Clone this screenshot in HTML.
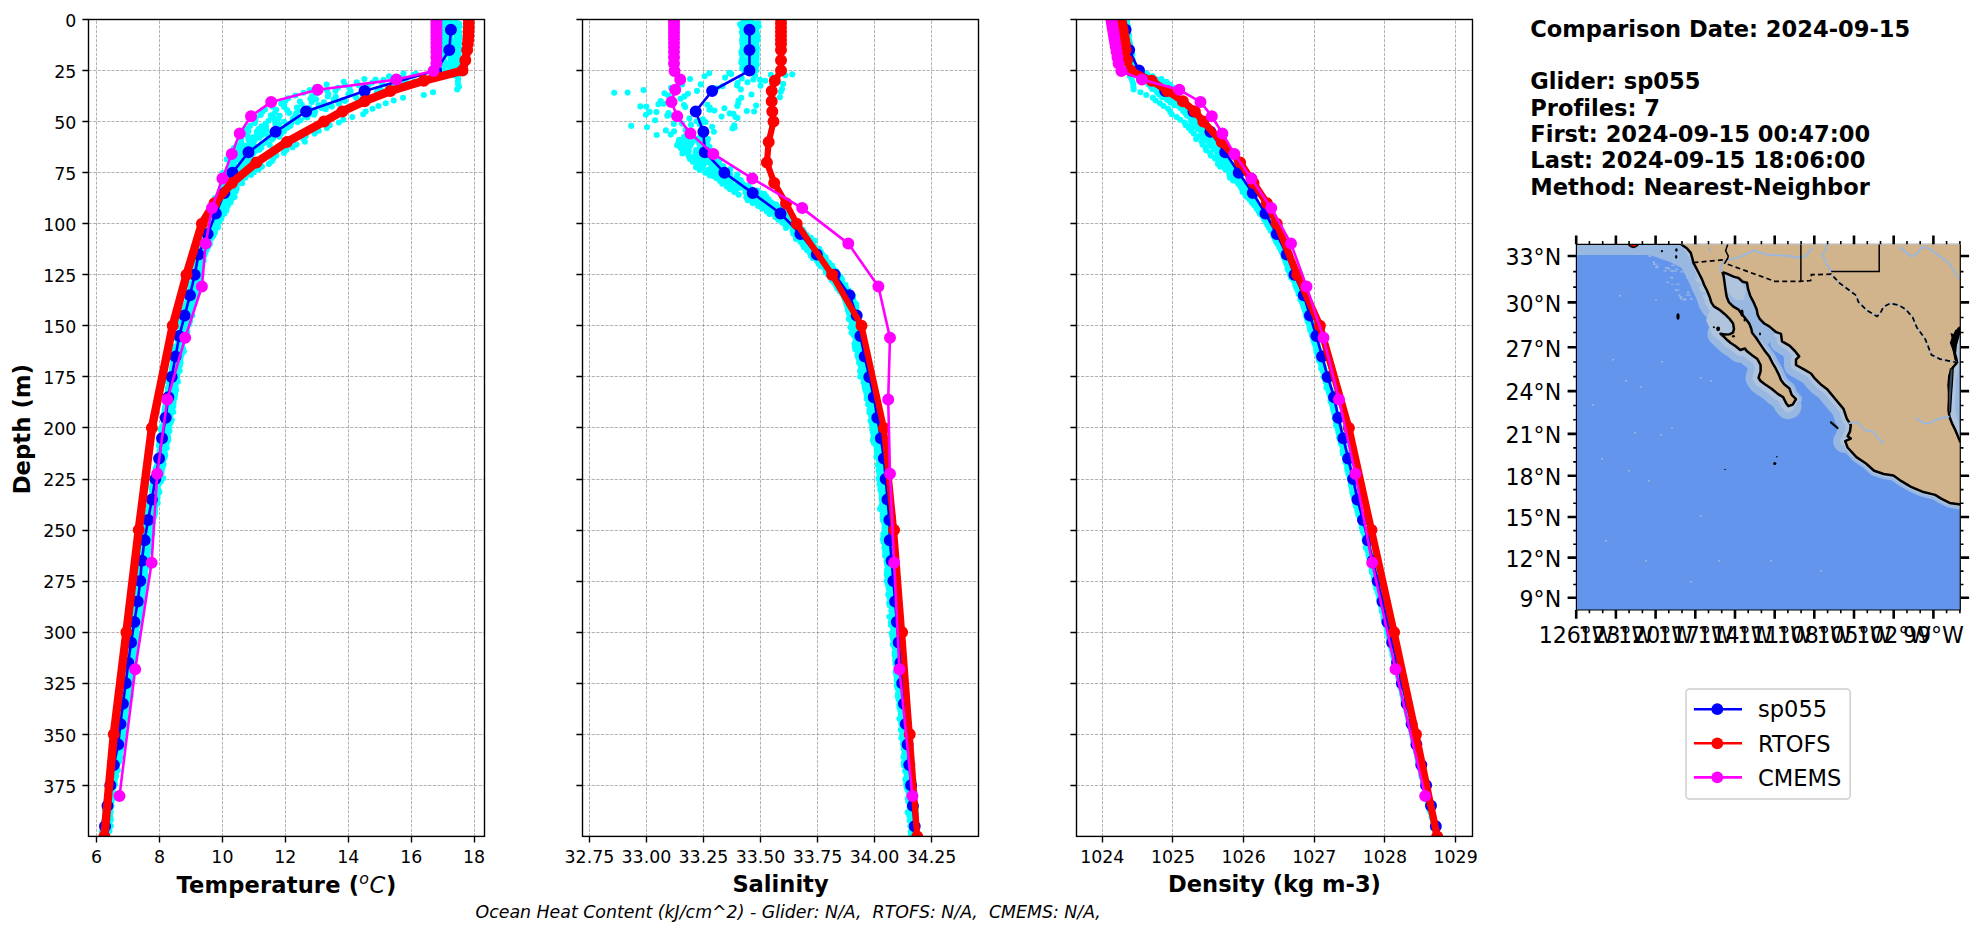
<!DOCTYPE html><html><head><meta charset="utf-8"><title>Glider comparison</title>
<style>html,body{margin:0;padding:0;background:#fff;overflow:hidden}svg{display:block}text{font-family:'DejaVu Sans', 'Liberation Sans', sans-serif;font-variant-ligatures:none}</style></head><body>
<svg width="1978" height="934" viewBox="0 0 1978 934">
<rect width="1978" height="934" fill="#fff"/>
<defs>
<clipPath id="c0"><rect x="88.5" y="19.5" width="396.0" height="816.9"/></clipPath>
<clipPath id="c1"><rect x="582.5" y="19.5" width="396.0" height="816.9"/></clipPath>
<clipPath id="c2"><rect x="1076.5" y="19.5" width="396.0" height="816.9"/></clipPath>
</defs>
<path d="M96.5 836.4V19.5M159.5 836.4V19.5M222.5 836.4V19.5M285.5 836.4V19.5M348.5 836.4V19.5M411.5 836.4V19.5M474.5 836.4V19.5M88.5 19.5H484.5M88.5 70.5H484.5M88.5 121.5H484.5M88.5 172.5H484.5M88.5 223.5H484.5M88.5 274.5H484.5M88.5 325.5H484.5M88.5 376.5H484.5M88.5 427.5H484.5M88.5 479.5H484.5M88.5 530.5H484.5M88.5 581.5H484.5M88.5 632.5H484.5M88.5 683.5H484.5M88.5 734.5H484.5M88.5 785.5H484.5" stroke="#808080" stroke-opacity="0.7" stroke-width="0.87" stroke-dasharray="3.2 1.39" fill="none"/>
<path d="M589.5 836.4V19.5M646.5 836.4V19.5M703.5 836.4V19.5M760.5 836.4V19.5M817.5 836.4V19.5M874.5 836.4V19.5M931.5 836.4V19.5M582.5 19.5H978.5M582.5 70.5H978.5M582.5 121.5H978.5M582.5 172.5H978.5M582.5 223.5H978.5M582.5 274.5H978.5M582.5 325.5H978.5M582.5 376.5H978.5M582.5 427.5H978.5M582.5 479.5H978.5M582.5 530.5H978.5M582.5 581.5H978.5M582.5 632.5H978.5M582.5 683.5H978.5M582.5 734.5H978.5M582.5 785.5H978.5" stroke="#808080" stroke-opacity="0.7" stroke-width="0.87" stroke-dasharray="3.2 1.39" fill="none"/>
<path d="M1102.5 836.4V19.5M1172.5 836.4V19.5M1243.5 836.4V19.5M1314.5 836.4V19.5M1384.5 836.4V19.5M1455.5 836.4V19.5M1076.5 19.5H1472.5M1076.5 70.5H1472.5M1076.5 121.5H1472.5M1076.5 172.5H1472.5M1076.5 223.5H1472.5M1076.5 274.5H1472.5M1076.5 325.5H1472.5M1076.5 376.5H1472.5M1076.5 427.5H1472.5M1076.5 479.5H1472.5M1076.5 530.5H1472.5M1076.5 581.5H1472.5M1076.5 632.5H1472.5M1076.5 683.5H1472.5M1076.5 734.5H1472.5M1076.5 785.5H1472.5" stroke="#808080" stroke-opacity="0.7" stroke-width="0.87" stroke-dasharray="3.2 1.39" fill="none"/>
<g clip-path="url(#c0)">
<path d="M443.6 21.1h0M444.9 23.9h0M444.8 26.6h0M443.1 29.4h0M443.3 32.2h0M443.1 34.9h0M444.2 37.7h0M443.6 40.4h0M444.3 43.2h0M441.9 45.9h0M445.1 48.7h0M443.5 51.5h0M444.3 54.2h0M443.5 57h0M443.3 59.7h0M444.1 62.5h0M444.4 65.2h0M443.4 68h0M443.3 70.8h0M403.5 73.5h0M389 76.3h0M364.4 79h0M343.7 81.8h0M326.6 84.5h0M315.5 87.3h0M309.8 90.1h0M303.6 92.8h0M295.4 95.6h0M288.2 98.3h0M285.3 101.1h0M281.2 103.8h0M272.3 106.6h0M264.9 109.4h0M262.3 112.1h0M260.7 114.9h0M255.9 117.6h0M255.4 120.4h0M254.7 123.1h0M250.1 125.9h0M247.1 128.7h0M248.3 131.4h0M246.9 134.2h0M247.8 136.9h0M241.1 139.7h0M241.2 142.4h0M238.4 145.2h0M233.9 148h0M236 150.7h0M235.2 153.5h0M231.3 156.2h0M235.4 159h0M233.2 161.7h0M231.5 164.5h0M229.7 167.3h0M229.7 170h0M223 172.8h0M227.3 175.5h0M227.1 178.3h0M221.2 181h0M225.7 183.8h0M223.3 186.6h0M224.7 189.3h0M220.8 192.1h0M220.8 194.8h0M220.6 197.6h0M216.7 200.3h0M219.1 203.1h0M216.6 205.9h0M216.1 208.6h0M214.1 211.4h0M214.6 214.1h0M213.2 216.9h0M211.4 219.6h0M211.2 222.4h0M210.7 225.2h0M210.1 227.9h0M205.8 230.7h0M207.1 233.4h0M205.5 236.2h0M203.7 238.9h0M201.6 241.7h0M202.5 244.5h0M198.9 247.2h0M199.4 250h0M198.9 252.7h0M195.2 255.5h0M195.9 258.2h0M194.5 261h0M195.4 263.8h0M196.1 266.5h0M196.1 269.3h0M192 272h0M192.6 274.8h0M193.2 277.5h0M193.4 280.3h0M191.7 283.1h0M189.9 285.8h0M190.3 288.6h0M189.3 291.3h0M188.5 294.1h0M187.3 296.8h0M187.7 299.6h0M186.9 302.4h0M185.8 305.1h0M185 307.9h0M183.2 310.6h0M183.3 313.4h0M184.1 316.1h0M182.1 318.9h0M180.2 321.7h0M182.1 324.4h0M180.6 327.2h0M181.4 329.9h0M178.7 332.7h0M177.5 335.4h0M176 338.2h0M178.2 341h0M178.8 343.7h0M175.1 346.5h0M174.8 349.2h0M175.4 352h0M173.6 354.7h0M173.6 357.5h0M173 360.2h0M173 363h0M173.4 365.8h0M171.9 368.5h0M172.2 371.3h0M170.4 374h0M170.6 376.8h0M167.8 379.5h0M168 382.3h0M169.7 385.1h0M167.9 387.8h0M168.5 390.6h0M168 393.3h0M168.3 396.1h0M167.4 398.8h0M167.3 401.6h0M165.9 404.4h0M165 407.1h0M164.6 409.9h0M164.5 412.6h0M163.6 415.4h0M163.8 418.1h0M163.7 420.9h0M163.5 423.7h0M162.4 426.4h0M160.4 429.2h0M161.7 431.9h0M161.5 434.7h0M161.8 437.4h0M160.9 440.2h0M159.3 443h0M158.9 445.7h0M161.1 448.5h0M159.5 451.2h0M160.2 454h0M160.1 456.7h0M156.9 459.5h0M157.5 462.3h0M157 465h0M156.6 467.8h0M156.1 470.5h0M155.3 473.3h0M154.7 476h0M152.7 478.8h0M153.5 481.6h0M152.4 484.3h0M152.8 487.1h0M151.8 489.8h0M152.3 492.6h0M152.1 495.3h0M151.1 498.1h0M150.6 500.9h0M149.9 503.6h0M148.9 506.4h0M148.7 509.1h0M147.8 511.9h0M148.2 514.6h0M147.3 517.4h0M147.3 520.2h0M145.1 522.9h0M146.7 525.7h0M144.7 528.4h0M144.2 531.2h0M144.3 533.9h0M143.5 536.7h0M143.8 539.5h0M142.6 542.2h0M141.7 545h0M141.6 547.7h0M143.2 550.5h0M141.7 553.2h0M140.1 556h0M140.9 558.8h0M139.1 561.5h0M142 564.3h0M138.7 567h0M140.4 569.8h0M140.2 572.5h0M138.1 575.3h0M139.6 578.1h0M140 580.8h0M139.2 583.6h0M138.6 586.3h0M139 589.1h0M137.9 591.8h0M137.7 594.6h0M136.9 597.4h0M137.3 600.1h0M135.4 602.9h0M136.6 605.6h0M134.9 608.4h0M133.9 611.1h0M134.8 613.9h0M135.6 616.7h0M134.4 619.4h0M132.6 622.2h0M133.3 624.9h0M131.8 627.7h0M131.7 630.4h0M131.5 633.2h0M128.8 636h0M130.7 638.7h0M129.1 641.5h0M129.1 644.2h0M127.9 647h0M127.5 649.7h0M127.7 652.5h0M129 655.3h0M129.4 658h0M127.4 660.8h0M128.1 663.5h0M126.5 666.3h0M124.6 669h0M126.2 671.8h0M126.1 674.6h0M125 677.3h0M125.3 680.1h0M125.3 682.8h0M123.5 685.6h0M122.6 688.3h0M123.4 691.1h0M123 693.9h0M122.5 696.6h0M123.4 699.4h0M123.7 702.1h0M121.3 704.9h0M122 707.6h0M121.9 710.4h0M121.4 713.2h0M121.3 715.9h0M119.7 718.7h0M120.4 721.4h0M121.3 724.2h0M119.8 726.9h0M118.2 729.7h0M119 732.4h0M119.4 735.2h0M118.2 738h0M117 740.7h0M118.7 743.5h0M115.6 746.2h0M116.7 749h0M115.6 751.7h0M113.9 754.5h0M115.6 757.3h0M114.2 760h0M112.1 762.8h0M113.3 765.5h0M111.8 768.3h0M110 771h0M110.6 773.8h0M111.1 776.6h0M111 779.3h0M110.1 782.1h0M109.5 784.8h0M109.5 787.6h0M108.5 790.3h0M109.4 793.1h0M108 795.9h0M107.8 798.6h0M107.7 801.4h0M105.8 804.1h0M105.7 806.9h0M107.5 809.6h0M106 812.4h0M105.1 815.2h0M105.4 817.9h0M104.3 820.7h0M104.6 823.4h0M103.4 826.2h0M104 828.9h0M101.9 831.7h0M104.3 834.5h0M443.1 21.6h0M442.1 24.3h0M443.4 27.1h0M443.3 29.8h0M443.8 32.6h0M442.5 35.3h0M444 38.1h0M447 40.9h0M442.4 43.6h0M443.9 46.4h0M443.3 49.1h0M443.8 51.9h0M441.9 54.6h0M442.5 57.4h0M444 60.2h0M443.6 62.9h0M445.2 65.7h0M442.9 68.4h0M444 71.2h0M416.1 73.9h0M396.9 76.7h0M375.6 79.5h0M356.7 82.2h0M345 85h0M337.9 87.7h0M327 90.5h0M317.2 93.2h0M312.1 96h0M310.4 98.8h0M299.9 101.5h0M284.1 104.3h0M284.1 107h0M276.2 109.8h0M275.1 112.5h0M270.8 115.3h0M273.3 118.1h0M268.5 120.8h0M265.9 123.6h0M261.6 126.3h0M258.4 129.1h0M256.7 131.8h0M256.8 134.6h0M252.8 137.4h0M248.6 140.1h0M250 142.9h0M244.5 145.6h0M241 148.4h0M236.4 151.1h0M234.9 153.9h0M233.3 156.7h0M226.8 159.4h0M234.4 162.2h0M231.9 164.9h0M228.6 167.7h0M230.2 170.4h0M227.5 173.2h0M227 176h0M219.9 178.7h0M224.8 181.5h0M226 184.2h0M227.7 187h0M227.3 189.7h0M225.5 192.5h0M218.4 195.3h0M215.1 198h0M220.7 200.8h0M218.4 203.5h0M218.3 206.3h0M216.4 209h0M215.8 211.8h0M213.2 214.6h0M214.2 217.3h0M212.4 220.1h0M212.3 222.8h0M211.4 225.6h0M209.7 228.3h0M209 231.1h0M207.6 233.9h0M207.1 236.6h0M205.6 239.4h0M203.4 242.1h0M202.1 244.9h0M203.1 247.6h0M200.1 250.4h0M199.9 253.2h0M198.5 255.9h0M197.1 258.7h0M196.4 261.4h0M196.8 264.2h0M196.4 266.9h0M196.2 269.7h0M193.9 272.5h0M194 275.2h0M193.9 278h0M194.8 280.7h0M190.4 283.5h0M192.5 286.2h0M190.9 289h0M191.2 291.8h0M189.7 294.5h0M189.8 297.3h0M190.2 300h0M188.3 302.8h0M187.7 305.5h0M186.9 308.3h0M185.1 311.1h0M185.6 313.8h0M184.2 316.6h0M182.9 319.3h0M182.9 322.1h0M182 324.8h0M182.2 327.6h0M180.7 330.4h0M179.5 333.1h0M180.7 335.9h0M179.7 338.6h0M179.5 341.4h0M178.3 344.1h0M177.2 346.9h0M176.4 349.7h0M176 352.4h0M176.6 355.2h0M175.3 357.9h0M173.3 360.7h0M174.2 363.4h0M172.4 366.2h0M173.3 368.9h0M171.5 371.7h0M171 374.5h0M171.8 377.2h0M171.1 380h0M169.2 382.7h0M171 385.5h0M171.8 388.2h0M167.9 391h0M170.6 393.8h0M167.7 396.5h0M167.5 399.3h0M167.5 402h0M166 404.8h0M168.2 407.5h0M167.1 410.3h0M165.6 413.1h0M165.7 415.8h0M164.1 418.6h0M164.7 421.3h0M165.4 424.1h0M162.4 426.8h0M163.1 429.6h0M163.2 432.4h0M163.5 435.1h0M163.3 437.9h0M161.2 440.6h0M160.5 443.4h0M161.3 446.1h0M160.1 448.9h0M159.8 451.7h0M160.7 454.4h0M160.9 457.2h0M159.1 459.9h0M158.2 462.7h0M158.4 465.4h0M155.6 468.2h0M156.8 471h0M155.3 473.7h0M158.1 476.5h0M156 479.2h0M155 482h0M154.2 484.7h0M151.5 487.5h0M154.1 490.3h0M154.5 493h0M151.8 495.8h0M152.7 498.5h0M152.2 501.3h0M149.6 504h0M151.4 506.8h0M151.3 509.6h0M149.7 512.3h0M148.9 515.1h0M149.2 517.8h0M146.5 520.6h0M147.6 523.3h0M148 526.1h0M145.4 528.9h0M147.1 531.6h0M145.3 534.4h0M143.2 537.1h0M144.6 539.9h0M143.4 542.6h0M144.2 545.4h0M142.4 548.2h0M144.2 550.9h0M142.1 553.7h0M142.7 556.4h0M141.5 559.2h0M141.4 561.9h0M142.6 564.7h0M141.5 567.5h0M140.7 570.2h0M139.7 573h0M141.8 575.7h0M141.1 578.5h0M139.9 581.2h0M140.1 584h0M138.6 586.8h0M138.3 589.5h0M138.1 592.3h0M138.9 595h0M138.5 597.8h0M137.1 600.5h0M138.1 603.3h0M137.7 606.1h0M136.7 608.8h0M137 611.6h0M135.3 614.3h0M135 617.1h0M135.1 619.8h0M134.1 622.6h0M134.5 625.4h0M132.1 628.1h0M134.2 630.9h0M131.7 633.6h0M131.9 636.4h0M130.3 639.1h0M131.8 641.9h0M132 644.7h0M131.4 647.4h0M130.8 650.2h0M128.2 652.9h0M128.5 655.7h0M128.5 658.4h0M127.6 661.2h0M129.2 664h0M128 666.7h0M127.4 669.5h0M127.6 672.2h0M125.9 675h0M125.6 677.7h0M125.3 680.5h0M126.2 683.3h0M125.7 686h0M125.5 688.8h0M125.6 691.5h0M123 694.3h0M123.3 697h0M123.6 699.8h0M121.8 702.6h0M122.2 705.3h0M123.3 708.1h0M123.1 710.8h0M122.7 713.6h0M121.4 716.3h0M120.8 719.1h0M121.7 721.9h0M120 724.6h0M120.4 727.4h0M121 730.1h0M119.1 732.9h0M118.6 735.6h0M118.9 738.4h0M119.1 741.1h0M118.7 743.9h0M117.9 746.7h0M117.7 749.4h0M115 752.2h0M115.2 754.9h0M115.5 757.7h0M113.9 760.4h0M112.9 763.2h0M112.5 766h0M112.3 768.7h0M112.5 771.5h0M111.3 774.2h0M112 777h0M112.9 779.7h0M110.7 782.5h0M111.6 785.3h0M110.2 788h0M108.5 790.8h0M109 793.5h0M107.9 796.3h0M109.2 799h0M107 801.8h0M108.9 804.6h0M107.9 807.3h0M105.1 810.1h0M107.4 812.8h0M107.8 815.6h0M105.2 818.3h0M106.6 821.1h0M103.6 823.9h0M105.2 826.6h0M103 829.4h0M104.7 832.1h0M102.2 834.9h0M447.7 22h0M450.6 24.7h0M452.4 27.5h0M449.7 30.3h0M451 33h0M450.3 35.8h0M449.9 38.5h0M450.8 41.3h0M451.8 44h0M449.1 46.8h0M450.8 49.6h0M450.5 52.3h0M448.9 55.1h0M451.7 57.8h0M452.1 60.6h0M449.3 63.3h0M451.9 66.1h0M450.3 68.9h0M449.8 71.6h0M453.8 74.4h0M395.2 77.1h0M383.5 79.9h0M372.4 82.6h0M359.1 85.4h0M349.5 88.2h0M335.5 90.9h0M328.3 93.7h0M327.8 96.4h0M316.1 99.2h0M311.7 101.9h0M301.8 104.7h0M296.9 107.5h0M287.2 110.2h0M289.2 113h0M279.7 115.7h0M278.5 118.5h0M275.1 121.2h0M275.3 124h0M266 126.8h0M266.2 129.5h0M262.8 132.3h0M262 135h0M259.3 137.8h0M254.5 140.5h0M253.3 143.3h0M248.9 146.1h0M247.9 148.8h0M243.5 151.6h0M240.3 154.3h0M240.2 157.1h0M239.6 159.8h0M242.6 162.6h0M234.6 165.4h0M234.9 168.1h0M236.1 170.9h0M226.6 173.6h0M226.9 176.4h0M227.8 179.1h0M229.8 181.9h0M235 184.7h0M229.1 187.4h0M230 190.2h0M225.6 192.9h0M219.2 195.7h0M218.5 198.4h0M225.3 201.2h0M222 204h0M219.5 206.7h0M220.7 209.5h0M217.1 212.2h0M218.6 215h0M217.8 217.7h0M214.7 220.5h0M213.3 223.3h0M214.1 226h0M211.1 228.8h0M211.9 231.5h0M208.8 234.3h0M209.4 237h0M207.5 239.8h0M205.8 242.6h0M204.1 245.3h0M204 248.1h0M200.7 250.8h0M201 253.6h0M200.2 256.3h0M200.7 259.1h0M198.3 261.9h0M200.6 264.6h0M198.2 267.4h0M196.9 270.1h0M198.7 272.9h0M198.4 275.6h0M196.1 278.4h0M194.7 281.2h0M195 283.9h0M193.6 286.7h0M193.4 289.4h0M194.5 292.2h0M192.7 294.9h0M191.8 297.7h0M191.2 300.5h0M190.1 303.2h0M190.2 306h0M189.6 308.7h0M187.6 311.5h0M187.4 314.2h0M188.8 317h0M186.2 319.8h0M184.9 322.5h0M186.3 325.3h0M183.6 328h0M181.9 330.8h0M182.8 333.5h0M180.6 336.3h0M180.5 339.1h0M180.7 341.8h0M179.8 344.6h0M178.7 347.3h0M178.3 350.1h0M177.8 352.8h0M178.9 355.6h0M176.6 358.4h0M176.3 361.1h0M178.2 363.9h0M175.2 366.6h0M176.7 369.4h0M176 372.1h0M174.1 374.9h0M172.4 377.6h0M173.7 380.4h0M173.4 383.2h0M173.2 385.9h0M171.9 388.7h0M172.5 391.4h0M172.2 394.2h0M169.4 396.9h0M171.4 399.7h0M169.8 402.5h0M168.8 405.2h0M168.7 408h0M170.4 410.7h0M169.2 413.5h0M166.3 416.2h0M167.6 419h0M166.9 421.8h0M166.3 424.5h0M165.5 427.3h0M164.1 430h0M165.7 432.8h0M163.5 435.5h0M163.6 438.3h0M162.9 441.1h0M162.4 443.8h0M163.4 446.6h0M162.7 449.3h0M161.3 452.1h0M160.7 454.8h0M160.7 457.6h0M161.6 460.4h0M160.3 463.1h0M159.9 465.9h0M158.8 468.6h0M158.4 471.4h0M158.3 474.1h0M155.9 476.9h0M158.6 479.7h0M155.9 482.4h0M155.6 485.2h0M156.9 487.9h0M155.4 490.7h0M154.8 493.4h0M153.7 496.2h0M152.3 499h0M153.4 501.7h0M153.9 504.5h0M151.4 507.2h0M153 510h0M150.1 512.7h0M150 515.5h0M150.6 518.3h0M149.7 521h0M149.8 523.8h0M148 526.5h0M147.3 529.3h0M146 532h0M146.2 534.8h0M145.8 537.6h0M145 540.3h0M146.2 543.1h0M144.9 545.8h0M143.3 548.6h0M147.1 551.3h0M143.6 554.1h0M142.8 556.9h0M144.8 559.6h0M144.4 562.4h0M142 565.1h0M141.5 567.9h0M141.7 570.6h0M143.5 573.4h0M141.9 576.2h0M141.3 578.9h0M141.7 581.7h0M142.6 584.4h0M139.8 587.2h0M140.4 589.9h0M139.1 592.7h0M142.1 595.5h0M141.4 598.2h0M140.2 601h0M138.8 603.7h0M139 606.5h0M136 609.2h0M137.7 612h0M135.7 614.8h0M135.3 617.5h0M135.4 620.3h0M135.3 623h0M135.7 625.8h0M135.4 628.5h0M134.5 631.3h0M133 634.1h0M134.1 636.8h0M132.9 639.6h0M133.7 642.3h0M131.3 645.1h0M129.2 647.8h0M130.9 650.6h0M133 653.4h0M131.1 656.1h0M130 658.9h0M130.7 661.6h0M130 664.4h0M129.6 667.1h0M128.3 669.9h0M128.5 672.7h0M128.3 675.4h0M127.1 678.2h0M126.3 680.9h0M127.2 683.7h0M127.6 686.4h0M126.9 689.2h0M126.3 692h0M126 694.7h0M127.5 697.5h0M124.9 700.2h0M125.3 703h0M125.8 705.7h0M123.7 708.5h0M123.5 711.3h0M123.9 714h0M124.2 716.8h0M122.5 719.5h0M122.2 722.3h0M121.6 725h0M120.1 727.8h0M122 730.6h0M120.4 733.3h0M118.7 736.1h0M119.9 738.8h0M118.1 741.6h0M118.5 744.3h0M118.8 747.1h0M117.4 749.8h0M118.6 752.6h0M115.6 755.4h0M116.7 758.1h0M116.4 760.9h0M116.6 763.6h0M115.6 766.4h0M114.4 769.1h0M113.8 771.9h0M113.2 774.7h0M113.9 777.4h0M111.7 780.2h0M112.3 782.9h0M111.3 785.7h0M111.2 788.4h0M110.4 791.2h0M112.2 794h0M109.2 796.7h0M109.7 799.5h0M109.3 802.2h0M109.2 805h0M108.7 807.7h0M108.4 810.5h0M108.5 813.3h0M105.8 816h0M106.9 818.8h0M105.4 821.5h0M106.4 824.3h0M104.8 827h0M104.6 829.8h0M105.1 832.6h0M106.1 835.3h0M450.8 22.4h0M450.5 25.2h0M451.6 27.9h0M449.3 30.7h0M448.3 33.4h0M449.8 36.2h0M450 39h0M451.4 41.7h0M452.3 44.5h0M449 47.2h0M452.6 50h0M451.7 52.7h0M451 55.5h0M450.6 58.3h0M452.5 61h0M450.3 63.8h0M449.8 66.5h0M450.4 69.3h0M447 72h0M413.5 74.8h0M402.1 77.6h0M392.7 80.3h0M382 83.1h0M368 85.8h0M364.3 88.6h0M350.6 91.3h0M348.4 94.1h0M335.8 96.9h0M333.8 99.6h0M323.9 102.4h0M318.5 105.1h0M309.4 107.9h0M298.3 110.6h0M296.1 113.4h0M295.2 116.2h0M292.8 118.9h0M284.2 121.7h0M278.9 124.4h0M278.2 127.2h0M276 129.9h0M271.5 132.7h0M267.9 135.5h0M268.5 138.2h0M265.6 141h0M261.7 143.7h0M254.4 146.5h0M253.4 149.2h0M249.3 152h0M244.4 154.8h0M247.9 157.5h0M244.1 160.3h0M240.9 163h0M243.4 165.8h0M240 168.5h0M238.3 171.3h0M237.7 174.1h0M235.7 176.8h0M230.2 179.6h0M231.4 182.3h0M233.6 185.1h0M228.3 187.8h0M229 190.6h0M228.7 193.4h0M230 196.1h0M228.5 198.9h0M226.4 201.6h0M222.9 204.4h0M222.7 207.1h0M221.1 209.9h0M219.3 212.7h0M219.6 215.4h0M217.6 218.2h0M215.3 220.9h0M216.1 223.7h0M213.5 226.4h0M213.2 229.2h0M210.1 232h0M210.4 234.7h0M208.2 237.5h0M207 240.2h0M204.9 243h0M207.4 245.7h0M204 248.5h0M203.2 251.3h0M202.8 254h0M201 256.8h0M201.1 259.5h0M198.8 262.3h0M199.7 265h0M198.7 267.8h0M199 270.6h0M198.2 273.3h0M196.1 276.1h0M195 278.8h0M195.2 281.6h0M196.2 284.3h0M195.3 287.1h0M194.6 289.9h0M191.7 292.6h0M190.4 295.4h0M191.6 298.1h0M191.2 300.9h0M190.2 303.6h0M190.4 306.4h0M189.1 309.2h0M187.4 311.9h0M187 314.7h0M187.2 317.4h0M186.4 320.2h0M185.6 322.9h0M187.1 325.7h0M183.9 328.5h0M183.6 331.2h0M181.8 334h0M181.7 336.7h0M182 339.5h0M181.6 342.2h0M180.4 345h0M180.4 347.8h0M179.5 350.5h0M177.2 353.3h0M175.4 356h0M180.1 358.8h0M178.2 361.5h0M176.8 364.3h0M174.7 367.1h0M174.7 369.8h0M176.6 372.6h0M172.2 375.3h0M174 378.1h0M174.7 380.8h0M173.5 383.6h0M173.6 386.3h0M172.3 389.1h0M174.2 391.9h0M170.5 394.6h0M169.7 397.4h0M170.9 400.1h0M171.7 402.9h0M169.9 405.6h0M170.6 408.4h0M168.8 411.2h0M167.8 413.9h0M169.9 416.7h0M169.6 419.4h0M169.1 422.2h0M166.7 424.9h0M165.5 427.7h0M165 430.5h0M165.4 433.2h0M165.6 436h0M165.1 438.7h0M162.8 441.5h0M164 444.2h0M163.4 447h0M163.1 449.8h0M162.6 452.5h0M162.1 455.3h0M162.4 458h0M161.5 460.8h0M161.1 463.5h0M159.7 466.3h0M160.2 469.1h0M159.2 471.8h0M156.8 474.6h0M158.7 477.3h0M157.5 480.1h0M158.2 482.8h0M156.7 485.6h0M156.3 488.4h0M156.1 491.1h0M155.4 493.9h0M154.5 496.6h0M152.8 499.4h0M155.7 502.1h0M152 504.9h0M152.6 507.7h0M153 510.4h0M152.3 513.2h0M151.9 515.9h0M151.6 518.7h0M151.6 521.4h0M150.2 524.2h0M152.2 527h0M148 529.7h0M148.7 532.5h0M147.7 535.2h0M147 538h0M147.4 540.7h0M148.1 543.5h0M145.6 546.3h0M145.2 549h0M146.2 551.8h0M145.7 554.5h0M146.6 557.3h0M145.3 560h0M144.3 562.8h0M143.6 565.6h0M143.9 568.3h0M143.3 571.1h0M141.9 573.8h0M143 576.6h0M142.6 579.3h0M142.3 582.1h0M141.8 584.9h0M143.4 587.6h0M142.2 590.4h0M142 593.1h0M140.2 595.9h0M139.5 598.6h0M139.8 601.4h0M139.9 604.2h0M138.8 606.9h0M138.5 609.7h0M139.1 612.4h0M138 615.2h0M136.4 617.9h0M136.4 620.7h0M135.7 623.5h0M136.1 626.2h0M134.4 629h0M134.9 631.7h0M135.3 634.5h0M134.2 637.2h0M132.9 640h0M132.8 642.8h0M133.1 645.5h0M133 648.3h0M133 651h0M131.7 653.8h0M130.2 656.5h0M132.4 659.3h0M130.9 662.1h0M130.7 664.8h0M130.2 667.6h0M128.6 670.3h0M128.9 673.1h0M129.1 675.8h0M129.5 678.6h0M128.3 681.4h0M124.9 684.1h0M127.2 686.9h0M127.4 689.6h0M127.9 692.4h0M127 695.1h0M128.3 697.9h0M126.9 700.7h0M126.4 703.4h0M125.7 706.2h0M123.1 708.9h0M124.9 711.7h0M124.3 714.4h0M122.9 717.2h0M123.6 720h0M123.1 722.7h0M121.9 725.5h0M122 728.2h0M121.5 731h0M121.7 733.7h0M120.8 736.5h0M121.4 739.3h0M118.8 742h0M120 744.8h0M118 747.5h0M118.6 750.3h0M118.9 753h0M117.9 755.8h0M117.1 758.5h0M116.7 761.3h0M117.5 764.1h0M114.5 766.8h0M115.9 769.6h0M113.1 772.3h0M113.7 775.1h0M113.8 777.8h0M112.3 780.6h0M112.9 783.4h0M112.9 786.1h0M110.7 788.9h0M111.4 791.6h0M110.7 794.4h0M108.8 797.1h0M110.1 799.9h0M109.1 802.7h0M110.8 805.4h0M108.3 808.2h0M110.4 810.9h0M108 813.7h0M110 816.4h0M108.3 819.2h0M107.9 822h0M107.9 824.7h0M107.6 827.5h0M107.7 830.2h0M107.7 833h0M105.4 835.7h0M455.3 22.8h0M454 25.6h0M456.2 28.4h0M457.2 31.1h0M456.9 33.9h0M456.6 36.6h0M456.2 39.4h0M455.9 42.1h0M456.2 44.9h0M456.9 47.7h0M454.9 50.4h0M457.2 53.2h0M455.1 55.9h0M456.4 58.7h0M455.9 61.4h0M456.2 64.2h0M455.5 67h0M455.4 69.7h0M456 72.5h0M453.9 75.2h0M421.9 78h0M405.7 80.7h0M396.3 83.5h0M387.8 86.3h0M377.8 89h0M365.8 91.8h0M362.7 94.5h0M355.7 97.3h0M343.1 100h0M338.3 102.8h0M327.2 105.6h0M321.6 108.3h0M314.2 111.1h0M309.7 113.8h0M305.2 116.6h0M298.2 119.3h0M297.6 122.1h0M290.2 124.9h0M287.7 127.6h0M284.2 130.4h0M277.9 133.1h0M272.1 135.9h0M273 138.6h0M265.4 141.4h0M262.4 144.2h0M258.4 146.9h0M259.5 149.7h0M253.7 152.4h0M246.8 155.2h0M251.8 157.9h0M252.9 160.7h0M250.2 163.5h0M242.3 166.2h0M241.6 169h0M240.3 171.7h0M239.6 174.5h0M236.4 177.2h0M232.5 180h0M235.7 182.8h0M234.1 185.5h0M228.3 188.3h0M229.4 191h0M229.7 193.8h0M227.8 196.5h0M227.8 199.3h0M227.2 202.1h0M224.6 204.8h0M222.8 207.6h0M220.5 210.3h0M221.2 213.1h0M220.8 215.8h0M220.3 218.6h0M217.2 221.4h0M216.1 224.1h0M216.4 226.9h0M215.3 229.6h0M213.1 232.4h0M212.3 235.1h0M209.7 237.9h0M209.7 240.7h0M207.1 243.4h0M206.5 246.2h0M205.3 248.9h0M203.8 251.7h0M201 254.4h0M201.7 257.2h0M202.3 260h0M201.4 262.7h0M200.5 265.5h0M200.8 268.2h0M200.5 271h0M200.1 273.7h0M198 276.5h0M198.1 279.3h0M197.1 282h0M196 284.8h0M194.7 287.5h0M195.4 290.3h0M194 293h0M196.2 295.8h0M193.4 298.6h0M192.5 301.3h0M191.6 304.1h0M193 306.8h0M189.6 309.6h0M189.7 312.3h0M188.3 315.1h0M188.2 317.9h0M187.6 320.6h0M187.9 323.4h0M184.8 326.1h0M185.4 328.9h0M186.2 331.6h0M183.5 334.4h0M183.1 337.2h0M181.9 339.9h0M179.8 342.7h0M181.6 345.4h0M182.3 348.2h0M180.3 350.9h0M178.4 353.7h0M179.9 356.5h0M179.2 359.2h0M179.6 362h0M179 364.7h0M177.3 367.5h0M177.4 370.2h0M174.8 373h0M177.1 375.8h0M175.7 378.5h0M176.1 381.3h0M175.6 384h0M173.8 386.8h0M173.5 389.5h0M172.3 392.3h0M170.7 395h0M172.1 397.8h0M172 400.6h0M170.5 403.3h0M171.8 406.1h0M170.9 408.8h0M170.9 411.6h0M169.4 414.3h0M168.1 417.1h0M170 419.9h0M169.3 422.6h0M168.1 425.4h0M167.3 428.1h0M167 430.9h0M166.6 433.6h0M165.7 436.4h0M163.8 439.2h0M166.1 441.9h0M163.5 444.7h0M164.2 447.4h0M163.8 450.2h0M164 452.9h0M161.8 455.7h0M164.1 458.5h0M163.1 461.2h0M162.7 464h0M162.6 466.7h0M160.1 469.5h0M157.4 472.2h0M160.2 475h0M160.6 477.8h0M159.9 480.5h0M157.9 483.3h0M157.8 486h0M157.7 488.8h0M155.2 491.5h0M155.8 494.3h0M155.4 497.1h0M157 499.8h0M154.4 502.6h0M155.9 505.3h0M154 508.1h0M151.8 510.8h0M155 513.6h0M151.5 516.4h0M152.5 519.1h0M153 521.9h0M150.4 524.6h0M149.3 527.4h0M150.9 530.1h0M149.5 532.9h0M147.8 535.7h0M147.5 538.4h0M147.7 541.2h0M148.6 543.9h0M147 546.7h0M147.5 549.4h0M148.1 552.2h0M147.3 555h0M147.1 557.7h0M146.5 560.5h0M143.6 563.2h0M146 566h0M145 568.7h0M144.3 571.5h0M143.2 574.3h0M142.5 577h0M142.7 579.8h0M143.5 582.5h0M142 585.3h0M142 588h0M141.8 590.8h0M142.7 593.6h0M141.4 596.3h0M141.2 599.1h0M142.3 601.8h0M140.2 604.6h0M140.6 607.3h0M138.6 610.1h0M139.4 612.9h0M138.7 615.6h0M138.3 618.4h0M137.2 621.1h0M136.3 623.9h0M136.5 626.6h0M135.9 629.4h0M136.9 632.2h0M136.3 634.9h0M133.9 637.7h0M135.2 640.4h0M133.7 643.2h0M134.2 645.9h0M133 648.7h0M131.6 651.5h0M133.6 654.2h0M132.7 657h0M130.7 659.7h0M129.7 662.5h0M130.6 665.2h0M129.6 668h0M130.1 670.8h0M130.6 673.5h0M131.1 676.3h0M129 679h0M130.3 681.8h0M129.7 684.5h0M127.8 687.3h0M126.3 690.1h0M128.3 692.8h0M127.6 695.6h0M128.9 698.3h0M127.6 701.1h0M126.6 703.8h0M127.1 706.6h0M124.2 709.4h0M125 712.1h0M124.2 714.9h0M125.8 717.6h0M124.3 720.4h0M120.6 723.1h0M124.4 725.9h0M122 728.7h0M123.3 731.4h0M121.8 734.2h0M122.1 736.9h0M122.2 739.7h0M121.5 742.4h0M120 745.2h0M121.6 748h0M120.1 750.7h0M119.1 753.5h0M119.2 756.2h0M117.4 759h0M119.1 761.7h0M116.9 764.5h0M116.5 767.2h0M116 770h0M114.4 772.8h0M113.6 775.5h0M114.5 778.3h0M114.1 781h0M114.6 783.8h0M113.3 786.5h0M111.5 789.3h0M112.6 792.1h0M112.5 794.8h0M112.3 797.6h0M111.2 800.3h0M109.4 803.1h0M111.2 805.8h0M109.1 808.6h0M110 811.4h0M107.6 814.1h0M109.5 816.9h0M107.7 819.6h0M109.1 822.4h0M109.4 825.1h0M108.5 827.9h0M105.9 830.7h0M105.8 833.4h0M105.5 836.2h0M457.8 23.3h0M457.5 26h0M457.3 28.8h0M457.5 31.5h0M457.7 34.3h0M457.8 37.1h0M458.8 39.8h0M457.1 42.6h0M457.4 45.3h0M455.4 48.1h0M455.9 50.8h0M456.5 53.6h0M456 56.4h0M457.4 59.1h0M458.1 61.9h0M456.7 64.6h0M456.7 67.4h0M456.7 70.1h0M457.5 72.9h0M455.9 75.7h0M458.2 78.4h0M457.9 81.2h0M458 83.9h0M459 86.7h0M457.2 89.4h0M433 92.2h0M423.8 95h0M403.1 97.7h0M393.7 100.5h0M385.8 103.2h0M378.5 106h0M372.5 108.7h0M365.7 111.5h0M363.2 114.3h0M352.3 117h0M343.3 119.8h0M338.9 122.5h0M329.8 125.3h0M326.9 128h0M318.8 130.8h0M314.6 133.6h0M305.8 136.3h0M303.3 139.1h0M304.9 141.8h0M296.4 144.6h0M292.5 147.3h0M286.4 150.1h0M283.9 152.9h0M276.3 155.6h0M273.3 158.4h0M272.1 161.1h0M268.9 163.9h0M261.9 166.6h0M258.3 169.4h0M253.8 172.2h0M250.9 174.9h0M245.5 177.7h0M241.8 180.4h0M242.1 183.2h0M236.6 185.9h0M236.7 188.7h0M235.8 191.5h0M233.3 194.2h0M234.6 197h0M231.3 199.7h0M230.5 202.5h0M228.1 205.2h0M226.7 208h0M226.2 210.8h0M224.4 213.5h0M221.9 216.3h0M221.1 219h0M219.3 221.8h0M217.8 224.5h0M218 227.3h0M215 230.1h0M214.7 232.8h0M213.5 235.6h0M211.6 238.3h0M209.5 241.1h0M210 243.8h0M208.3 246.6h0M206.9 249.4h0M205.6 252.1h0M204.5 254.9h0M203.1 257.6h0M203.7 260.4h0M201.2 263.1h0M202.3 265.9h0M200.4 268.7h0M201 271.4h0M201.5 274.2h0M199.9 276.9h0M199.1 279.7h0M199.3 282.4h0M198 285.2h0M197.2 288h0M196.5 290.7h0M197.7 293.5h0M196.2 296.2h0M195.3 299h0M193 301.7h0M193.9 304.5h0M191.4 307.3h0M192.3 310h0M190.1 312.8h0M192.3 315.5h0M188.1 318.3h0M190.1 321h0M189 323.8h0M185.8 326.6h0M186.5 329.3h0M187.4 332.1h0M186.3 334.8h0M183.1 337.6h0M183.6 340.3h0M182.5 343.1h0M182.1 345.9h0M181.9 348.6h0M183.8 351.4h0M181.6 354.1h0M180.8 356.9h0M180.1 359.6h0M180.5 362.4h0M180 365.2h0M178 367.9h0M179.7 370.7h0M176.8 373.4h0M177 376.2h0M177.2 378.9h0M177.9 381.7h0M175.5 384.5h0M175.6 387.2h0M176.1 390h0M175 392.7h0M175 395.5h0M174.5 398.2h0M173.4 401h0M173.4 403.7h0M173.3 406.5h0M172 409.3h0M173.2 412h0M169.5 414.8h0M170.1 417.5h0M171.8 420.3h0M170.4 423h0M168.8 425.8h0M169.3 428.6h0M169.4 431.3h0M167.3 434.1h0M168.1 436.8h0M166.8 439.6h0M166.4 442.3h0M166 445.1h0M166.7 447.9h0M164.2 450.6h0M164.6 453.4h0M165.1 456.1h0M162.9 458.9h0M162.1 461.6h0M163.6 464.4h0M162.5 467.2h0M161.9 469.9h0M161.6 472.7h0M160 475.4h0M163.2 478.2h0M159 480.9h0M159 483.7h0M157.6 486.5h0M158.1 489.2h0M159.4 492h0M157.5 494.7h0M157.6 497.5h0M156.1 500.2h0M157.7 503h0M155.7 505.8h0M153.8 508.5h0M155.2 511.3h0M153.6 514h0M154 516.8h0M153 519.5h0M152.6 522.3h0M152 525.1h0M150.6 527.8h0M149.5 530.6h0M151.4 533.3h0M149.9 536.1h0M149.8 538.8h0M148.6 541.6h0M146.8 544.4h0M147.1 547.1h0M149.2 549.9h0M146.7 552.6h0M146.7 555.4h0M145.3 558.1h0M145.8 560.9h0M145.7 563.7h0M145.6 566.4h0M145.6 569.2h0M144.8 571.9h0M144.6 574.7h0M144.9 577.4h0M145 580.2h0M144.3 583h0M145.7 585.7h0M143.9 588.5h0M143.5 591.2h0M142.4 594h0M143.6 596.7h0M141.3 599.5h0M140.4 602.3h0M140.5 605h0M141.5 607.8h0M139.4 610.5h0M141.2 613.3h0M139.5 616h0M137.6 618.8h0M138.3 621.6h0M139.8 624.3h0M136.8 627.1h0M136 629.8h0M137.2 632.6h0M137.5 635.3h0M136.8 638.1h0M135.1 640.9h0M135.2 643.6h0M134.9 646.4h0M135.3 649.1h0M135.9 651.9h0M133.3 654.6h0M134.3 657.4h0M132.3 660.2h0M132.8 662.9h0M131 665.7h0M130.8 668.4h0M131.6 671.2h0M130 673.9h0M131.3 676.7h0M129.6 679.5h0M129.8 682.2h0M129.3 685h0M128.7 687.7h0M128.7 690.5h0M129.2 693.2h0M130.7 696h0M126.3 698.8h0M127.3 701.5h0M126.5 704.3h0M125.4 707h0M126.2 709.8h0M124.7 712.5h0M125.1 715.3h0M126 718.1h0M122.6 720.8h0M124.4 723.6h0M124.2 726.3h0M122.6 729.1h0M123.7 731.8h0M123.2 734.6h0M122.2 737.4h0M123.4 740.1h0M120.7 742.9h0M122.1 745.6h0M120.7 748.4h0M119.3 751.1h0M119.5 753.9h0M118.8 756.7h0M119.2 759.4h0M116.5 762.2h0M117.1 764.9h0M116.3 767.7h0M117.8 770.4h0M114.8 773.2h0M116.3 775.9h0M113.2 778.7h0M114.7 781.5h0M113.8 784.2h0M113.8 787h0M112.4 789.7h0M110.8 792.5h0M110.8 795.2h0M113.1 798h0M111.7 800.8h0M110.3 803.5h0M111.5 806.3h0M109.6 809h0M109.3 811.8h0M108.5 814.5h0M110.4 817.3h0M110.8 820.1h0M107.6 822.8h0M108.5 825.6h0M108.8 828.3h0M109.5 831.1h0M104.9 833.8h0M459.1 23.7h0M459.6 26.5h0M457.6 29.2h0M459.3 32h0M459.1 34.7h0M459.6 37.5h0M458.4 40.2h0M459.3 43h0M458.4 45.8h0M459.5 48.5h0M459.1 51.3h0M458.6 54h0M457.6 56.8h0M460.5 59.5h0M460 62.3h0M459.8 65.1h0M458.3 67.8h0M458 70.6h0M447.8 73.3h0M436.9 76.1h0M422.9 78.8h0M414.3 81.6h0M403.8 84.4h0M392.7 87.1h0M380.8 89.9h0M376.9 92.6h0M366.9 95.4h0M356.6 98.1h0M344.9 100.9h0M338.9 103.7h0M331.9 106.4h0M325.7 109.2h0M315.1 111.9h0M314.1 114.7h0M307.3 117.4h0M300.6 120.2h0M291.3 123h0M290.5 125.7h0M285.2 128.5h0M283.9 131.2h0M280.8 134h0M279.2 136.7h0M271.9 139.5h0M265.1 142.3h0M269.7 145h0M261.3 147.8h0M256.3 150.5h0M253.2 153.3h0M248.4 156h0M251 158.8h0M248.2 161.6h0M248.9 164.3h0M245.6 167.1h0M242.9 169.8h0M241.6 172.6h0M236.8 175.3h0M235.4 178.1h0M235.2 180.9h0M231.2 183.6h0M232.6 186.4h0M231 189.1h0M232.1 191.9h0M229.3 194.6h0M223.6 197.4h0M226.9 200.2h0M228.9 202.9h0M222.7 205.7h0M222.4 208.4h0M221.9 211.2h0M219.4 213.9h0M218.9 216.7h0M218.3 219.5h0M215.8 222.2h0M216.1 225h0M215.1 227.7h0M212.4 230.5h0M212.5 233.2h0M212.3 236h0M209.9 238.8h0M209.2 241.5h0M208.2 244.3h0M206.1 247h0M206 249.8h0M204.2 252.5h0M202 255.3h0M202.9 258.1h0M202.7 260.8h0M202.1 263.6h0M200.2 266.3h0M200.7 269.1h0M201.1 271.8h0M199.5 274.6h0M199.8 277.4h0M199.2 280.1h0M197.3 282.9h0M197.3 285.6h0M195.8 288.4h0M196.4 291.1h0M194.7 293.9h0M193.6 296.7h0M193.3 299.4h0M192.6 302.2h0M192.3 304.9h0M191.6 307.7h0M189.3 310.4h0M189.1 313.2h0M189.3 316h0M188.7 318.7h0M187.6 321.5h0M189.3 324.2h0M187.1 327h0M185.3 329.7h0M185.3 332.5h0M185.2 335.3h0M183.7 338h0M181.2 340.8h0M182.4 343.5h0M181.8 346.3h0M183.3 349h0M179 351.8h0M181.7 354.6h0M179.6 357.3h0M180.1 360.1h0M178.4 362.8h0M178.3 365.6h0M178.7 368.3h0M177.2 371.1h0M177.6 373.9h0M176 376.6h0M175.2 379.4h0M174.9 382.1h0M174.2 384.9h0M174.1 387.6h0M175 390.4h0M172.1 393.2h0M171.2 395.9h0M172.3 398.7h0M173.6 401.4h0M172.7 404.2h0M172.6 406.9h0M172.2 409.7h0M169.9 412.4h0M170.4 415.2h0M167.4 418h0M168.8 420.7h0M169.5 423.5h0M166.9 426.2h0M165.9 429h0M166.1 431.7h0M167 434.5h0M167.4 437.3h0M168.3 440h0M166.9 442.8h0M163.7 445.5h0M162.5 448.3h0M164.5 451h0M165 453.8h0M162 456.6h0M162.6 459.3h0M162.2 462.1h0M162.1 464.8h0M161.4 467.6h0M161.6 470.3h0M161.6 473.1h0M160.1 475.9h0M160.2 478.6h0M160.9 481.4h0M157.6 484.1h0M157.1 486.9h0M158.1 489.6h0M158.9 492.4h0M156.9 495.2h0M157.3 497.9h0M155.4 500.7h0M156.1 503.4h0M154.1 506.2h0M154.8 508.9h0M154 511.7h0M153.5 514.5h0M153.9 517.2h0M153.1 520h0M151.1 522.7h0M152 525.5h0M149.1 528.2h0M151.2 531h0M152.4 533.8h0M149.8 536.5h0M149.3 539.3h0M148.5 542h0M148.8 544.8h0M147.2 547.5h0M147.9 550.3h0M146.6 553.1h0M146.1 555.8h0M146.2 558.6h0M145.7 561.3h0M143.9 564.1h0M147.3 566.8h0M145.2 569.6h0M143.3 572.4h0M145.7 575.1h0M144.4 577.9h0M144.4 580.6h0M144.5 583.4h0M142.7 586.1h0M140.4 588.9h0M142.7 591.7h0M142.7 594.4h0M143.1 597.2h0M141.1 599.9h0M141.1 602.7h0M141.3 605.4h0M140.1 608.2h0M139.7 611h0M139.7 613.7h0M138.1 616.5h0M140 619.2h0M137.2 622h0M137.7 624.7h0M136.9 627.5h0M136.1 630.3h0M136.9 633h0M136.9 635.8h0M136.9 638.5h0M135.6 641.3h0M134.2 644h0M135.1 646.8h0M132.5 649.6h0M133.5 652.3h0M133.6 655.1h0M133.2 657.8h0M131.2 660.6h0M130.5 663.3h0M133.1 666.1h0M130.7 668.9h0M129.3 671.6h0M129.4 674.4h0M130.2 677.1h0M130.9 679.9h0M129.5 682.6h0M130.2 685.4h0M128.9 688.2h0M128.8 690.9h0M128.9 693.7h0M127.2 696.4h0M127.4 699.2h0M126.4 701.9h0M125.8 704.7h0M126.7 707.5h0M124.9 710.2h0M125.4 713h0M124.2 715.7h0M124.6 718.5h0M123.8 721.2h0M125 724h0M123.7 726.8h0M123.4 729.5h0M124.6 732.3h0M120 735h0M121.4 737.8h0M119.5 740.5h0M121.8 743.3h0M121.7 746.1h0M121.3 748.8h0M120.4 751.6h0M118.7 754.3h0M120.6 757.1h0M118.6 759.8h0M117.4 762.6h0M116 765.4h0M117 768.1h0M115.7 770.9h0M115.3 773.6h0M115.4 776.4h0M114.9 779.1h0M113.5 781.9h0M115 784.6h0M112.4 787.4h0M111.9 790.2h0M112.9 792.9h0M112.3 795.7h0M111.9 798.4h0M111 801.2h0M111.1 803.9h0M110.1 806.7h0M108.7 809.5h0M110.6 812.2h0M108.6 815h0M109 817.7h0M109.6 820.5h0M108.6 823.2h0M110.8 826h0M106.5 828.8h0M106.8 831.5h0M107.3 834.3h0" stroke="#00ffff" stroke-width="6.1" stroke-linecap="round" fill="none"/>
<path d="M450.9 29.7 L449.3 50.1 L436.1 70.6 L364.6 91 L306.1 111.4 L275.6 131.8 L248.5 152.2 L232.5 172.7 L224.3 193.1 L215.8 213.5 L207.6 233.9 L198.5 254.4 L194.7 274.8 L190 295.2 L184.6 315.6 L179.3 336 L175.5 356.5 L171.7 376.9 L168.3 397.3 L165.7 417.7 L162 438.2 L159.1 458.6 L155.3 479 L151.9 499.4 L148.1 519.9 L144.6 540.3 L141.8 560.7 L140.2 581.1 L137.7 601.5 L134.3 622 L131.1 642.4 L128.3 662.8 L125.8 683.2 L122.9 703.7 L120.4 724.1 L118.2 744.5 L113.8 764.9 L110.3 785.3 L107.5 805.8 L105 826.2" stroke="#0000ff" stroke-width="2.6" fill="none" stroke-linejoin="round"/>
<path d="M450.9 29.7h0M449.3 50.1h0M436.1 70.6h0M364.6 91h0M306.1 111.4h0M275.6 131.8h0M248.5 152.2h0M232.5 172.7h0M224.3 193.1h0M215.8 213.5h0M207.6 233.9h0M198.5 254.4h0M194.7 274.8h0M190 295.2h0M184.6 315.6h0M179.3 336h0M175.5 356.5h0M171.7 376.9h0M168.3 397.3h0M165.7 417.7h0M162 438.2h0M159.1 458.6h0M155.3 479h0M151.9 499.4h0M148.1 519.9h0M144.6 540.3h0M141.8 560.7h0M140.2 581.1h0M137.7 601.5h0M134.3 622h0M131.1 642.4h0M128.3 662.8h0M125.8 683.2h0M122.9 703.7h0M120.4 724.1h0M118.2 744.5h0M113.8 764.9h0M110.3 785.3h0M107.5 805.8h0M105 826.2h0" stroke="#0000ff" stroke-width="12" stroke-linecap="round" fill="none"/>
<path d="M468.8 19.5 L468.8 23.6 L468.8 27.7 L468.5 31.8 L468.5 35.8 L468.2 39.9 L467.8 44 L467.2 50.1 L465.3 60.3 L462.5 70.6 L423.8 80.8 L390.4 91 L364.6 101.2 L342.3 111.4 L324 121.6 L286.9 142 L256.4 162.5 L231.8 182.9 L214.5 203.3 L201.9 223.7 L186.5 274.8 L172.7 325.8 L151.9 427.9 L138.7 530.1 L126.4 632.2 L113.8 734.3 L104.4 836.4" stroke="#ff0000" stroke-width="8.4" fill="none" stroke-linejoin="round"/>
<path d="M468.8 19.5h0M468.8 23.6h0M468.8 27.7h0M468.5 31.8h0M468.5 35.8h0M468.2 39.9h0M467.8 44h0M467.2 50.1h0M465.3 60.3h0M462.5 70.6h0M423.8 80.8h0M390.4 91h0M364.6 101.2h0M342.3 111.4h0M324 121.6h0M286.9 142h0M256.4 162.5h0M231.8 182.9h0M214.5 203.3h0M201.9 223.7h0M186.5 274.8h0M172.7 325.8h0M151.9 427.9h0M138.7 530.1h0M126.4 632.2h0M113.8 734.3h0M104.4 836.4h0" stroke="#ff0000" stroke-width="12" stroke-linecap="round" fill="none"/>
<path d="M436.4 20.5 L436.4 22.6 L436.4 24.9 L436.4 27.3 L436.4 29.9 L436.4 32.7 L436.4 35.7 L436.4 39.1 L436.4 42.8 L436.4 47 L436.4 51.8 L436.4 57.3 L436.4 63.6 L433.5 71 L396.4 79.6 L317.7 89.8 L271.2 101.9 L251 116.2 L239.7 133.4 L231.8 153.9 L222.4 178.5 L212 208.1 L205.7 243.6 L201.9 286.4 L185.2 337.8 L167.3 399.6 L157.2 473.8 L151.6 562.8 L135.2 669.2 L119.5 796" stroke="#ff00ff" stroke-width="2.6" fill="none" stroke-linejoin="round"/>
<path d="M436.4 20.5h0M436.4 22.6h0M436.4 24.9h0M436.4 27.3h0M436.4 29.9h0M436.4 32.7h0M436.4 35.7h0M436.4 39.1h0M436.4 42.8h0M436.4 47h0M436.4 51.8h0M436.4 57.3h0M436.4 63.6h0M433.5 71h0M396.4 79.6h0M317.7 89.8h0M271.2 101.9h0M251 116.2h0M239.7 133.4h0M231.8 153.9h0M222.4 178.5h0M212 208.1h0M205.7 243.6h0M201.9 286.4h0M185.2 337.8h0M167.3 399.6h0M157.2 473.8h0M151.6 562.8h0M135.2 669.2h0M119.5 796h0" stroke="#ff00ff" stroke-width="12" stroke-linecap="round" fill="none"/>
</g>
<g clip-path="url(#c1)">
<path d="M743.9 21.1h0M742.5 23.9h0M741.4 26.6h0M743.7 29.4h0M741.9 32.2h0M742.5 34.9h0M743.5 37.7h0M742.1 40.4h0M742.3 43.2h0M743.1 45.9h0M742.5 48.7h0M743 51.5h0M741.8 54.2h0M742.6 57h0M741.7 59.7h0M741.3 62.5h0M744.3 65.2h0M743.1 68h0M744.8 70.8h0M704.6 76.3h0M690.1 79h0M682.2 84.5h0M643.5 90.1h0M614.2 92.8h0M668.2 95.6h0M660.6 101.1h0M646.3 106.6h0M656.4 112.1h0M669.5 114.9h0M701.2 123.1h0M631.2 125.9h0M674.1 131.4h0M684.1 136.9h0M679 139.7h0M678.5 142.4h0M677.1 145.2h0M680.6 148h0M682.7 150.7h0M682.4 153.5h0M688.8 156.2h0M689.9 159h0M692.8 161.7h0M697.4 164.5h0M696 167.3h0M699.6 170h0M705.3 172.8h0M709.7 175.5h0M716.4 178.3h0M720 181h0M722.2 183.8h0M726.8 186.6h0M730.1 189.3h0M734.3 192.1h0M738.6 194.8h0M746.3 197.6h0M747.7 200.3h0M752.6 203.1h0M758.1 205.9h0M762.1 208.6h0M766.9 211.4h0M769.5 214.1h0M775.3 216.9h0M778.2 219.6h0M782.1 222.4h0M785.4 225.2h0M786 227.9h0M792.6 230.7h0M793.2 233.4h0M795.6 236.2h0M796 238.9h0M800.4 241.7h0M802.5 244.5h0M804 247.2h0M806.8 250h0M809.9 252.7h0M810.8 255.5h0M812.7 258.2h0M817.2 261h0M818.6 263.8h0M820.7 266.5h0M825.4 269.3h0M825.8 272h0M828 274.8h0M830.3 277.5h0M831.7 280.3h0M834.2 283.1h0M836.1 285.8h0M837.4 288.6h0M839.7 291.3h0M842.2 294.1h0M843.7 296.8h0M844.8 299.6h0M846 302.4h0M846.5 305.1h0M847.7 307.9h0M847.9 310.6h0M849 313.4h0M851 316.1h0M848.8 318.9h0M851.4 321.7h0M854.5 324.4h0M850.4 327.2h0M853.9 329.9h0M851.5 332.7h0M853.9 335.4h0M855.6 338.2h0M856.1 341h0M854.5 343.7h0M854.8 346.5h0M855.2 349.2h0M857.8 352h0M857.4 354.7h0M858.3 357.5h0M859.2 360.2h0M860 363h0M860.7 365.8h0M861 368.5h0M860 371.3h0M863.4 374h0M860.2 376.8h0M864.5 379.5h0M863.5 382.3h0M864.5 385.1h0M864.8 387.8h0M865.6 390.6h0M866.5 393.3h0M866.9 396.1h0M866.7 398.8h0M869 401.6h0M868.1 404.4h0M870.4 407.1h0M869.5 409.9h0M869.4 412.6h0M871 415.4h0M871.9 418.1h0M870.7 420.9h0M871.8 423.7h0M873.9 426.4h0M872.2 429.2h0M872.8 431.9h0M874.2 434.7h0M873.5 437.4h0M872.8 440.2h0M873.9 443h0M876.2 445.7h0M876.9 448.5h0M877.2 451.2h0M877.5 454h0M876.4 456.7h0M878.5 459.5h0M879.2 462.3h0M877.8 465h0M879.5 467.8h0M878.6 470.5h0M879.4 473.3h0M879.8 476h0M878.4 478.8h0M881.3 481.6h0M879.5 484.3h0M880.4 487.1h0M880.3 489.8h0M881.5 492.6h0M881.7 495.3h0M881.6 498.1h0M883.1 500.9h0M882.3 503.6h0M882 506.4h0M880 509.1h0M882.6 511.9h0M882.9 514.6h0M882.6 517.4h0M882.9 520.2h0M884.3 522.9h0M884.7 525.7h0M885.6 528.4h0M885 531.2h0M883.4 533.9h0M884.3 536.7h0M883 539.5h0M885.1 542.2h0M885 545h0M884.4 547.7h0M885.1 550.5h0M885.2 553.2h0M885.1 556h0M887.2 558.8h0M889.1 561.5h0M887.2 564.3h0M887.7 567h0M887.2 569.8h0M886.9 572.5h0M889.5 575.3h0M887.5 578.1h0M888.4 580.8h0M888.2 583.6h0M889.1 586.3h0M888.8 589.1h0M889.6 591.8h0M888.2 594.6h0M889.5 597.4h0M891.1 600.1h0M889.2 602.9h0M889.8 605.6h0M891.9 608.4h0M891.3 611.1h0M892.1 613.9h0M889.4 616.7h0M891.8 619.4h0M890.8 622.2h0M890.9 624.9h0M892.8 627.7h0M893.8 630.4h0M891.6 633.2h0M892.2 636h0M893 638.7h0M893.7 641.5h0M892.8 644.2h0M896.4 647h0M895.1 649.7h0M894.5 652.5h0M894.6 655.3h0M897.5 658h0M897.6 660.8h0M895.4 663.5h0M896.4 666.3h0M897.5 669h0M895.5 671.8h0M896.4 674.6h0M898.4 677.3h0M896.8 680.1h0M897.3 682.8h0M896.7 685.6h0M897.5 688.3h0M899.1 691.1h0M898 693.9h0M897.8 696.6h0M898.6 699.4h0M901.1 702.1h0M899.9 704.9h0M899.5 707.6h0M900.4 710.4h0M900.9 713.2h0M900.9 715.9h0M899.4 718.7h0M901.6 721.4h0M901.4 724.2h0M902.6 726.9h0M900.8 729.7h0M903.3 732.4h0M902.1 735.2h0M901.3 738h0M904.3 740.7h0M902.9 743.5h0M904 746.2h0M903.7 749h0M905.2 751.7h0M905.4 754.5h0M905.7 757.3h0M905.6 760h0M903.7 762.8h0M903.9 765.5h0M905.9 768.3h0M905.1 771h0M906.7 773.8h0M906.6 776.6h0M905.4 779.3h0M906.1 782.1h0M906.2 784.8h0M906.7 787.6h0M907.6 790.3h0M908.7 793.1h0M909.5 795.9h0M907.7 798.6h0M908.3 801.4h0M910.5 804.1h0M910.2 806.9h0M909.8 809.6h0M907.7 812.4h0M909.2 815.2h0M910.5 817.9h0M910.1 820.7h0M912.7 823.4h0M911.3 826.2h0M911.7 828.9h0M910.7 831.7h0M911 834.5h0M743.7 21.6h0M740.1 24.3h0M743.5 27.1h0M742.6 29.8h0M744.1 32.6h0M743 35.3h0M742.6 38.1h0M742.9 40.9h0M743.7 43.6h0M743 46.4h0M742.8 49.1h0M741.5 51.9h0M743.2 54.6h0M742.8 57.4h0M744.5 60.2h0M742.8 62.9h0M742.7 65.7h0M742.2 68.4h0M744.7 71.2h0M731.1 73.9h0M753.3 79.5h0M747.5 82.2h0M670.9 87.7h0M664.4 93.2h0M680.5 98.8h0M658.4 104.3h0M685.2 107h0M709.4 109.8h0M676 115.3h0M737.5 118.1h0M702 120.8h0M681.9 123.6h0M713.9 131.8h0M670.7 134.6h0M687.9 137.4h0M683.2 140.1h0M688.5 142.9h0M685.9 145.6h0M688.8 148.4h0M688.7 151.1h0M688.2 153.9h0M694.2 156.7h0M697.8 159.4h0M696.1 162.2h0M703.6 164.9h0M713.4 167.7h0M707.8 170.4h0M713.4 173.2h0M713.3 176h0M721.9 178.7h0M723.9 181.5h0M731.5 184.2h0M734 187h0M735.9 189.7h0M745.5 192.5h0M746.9 195.3h0M749.4 198h0M756.3 200.8h0M759.4 203.5h0M765 206.3h0M769 209h0M773.1 211.8h0M778 214.6h0M779.5 217.3h0M784.9 220.1h0M785.4 222.8h0M791.6 225.6h0M792.9 228.3h0M795.1 231.1h0M797.3 233.9h0M800.6 236.6h0M802.1 239.4h0M804.3 242.1h0M807.5 244.9h0M808.3 247.6h0M810.7 250.4h0M813.4 253.2h0M816.3 255.9h0M817.6 258.7h0M820.2 261.4h0M822.5 264.2h0M825.5 266.9h0M828.6 269.7h0M828.7 272.5h0M831.7 275.2h0M833.7 278h0M836.2 280.7h0M839 283.5h0M839.5 286.2h0M841.6 289h0M844.4 291.8h0M844.1 294.5h0M845.7 297.3h0M846.9 300h0M848.2 302.8h0M849.4 305.5h0M849.6 308.3h0M852.6 311.1h0M851.3 313.8h0M852.5 316.6h0M854.1 319.3h0M854.3 322.1h0M854 324.8h0M854.8 327.6h0M855.7 330.4h0M855.4 333.1h0M856.5 335.9h0M855.7 338.6h0M857.2 341.4h0M856.2 344.1h0M857.5 346.9h0M857.8 349.7h0M860.6 352.4h0M859.6 355.2h0M861 357.9h0M860.4 360.7h0M861.7 363.4h0M862.3 366.2h0M862.4 368.9h0M864.6 371.7h0M862.9 374.5h0M865.6 377.2h0M868.1 380h0M865.5 382.7h0M866.9 385.5h0M866.1 388.2h0M868.1 391h0M867.1 393.8h0M869.9 396.5h0M869.4 399.3h0M868.6 402h0M869.6 404.8h0M869.8 407.5h0M871.5 410.3h0M873 413.1h0M872.3 415.8h0M872 418.6h0M872.9 421.3h0M874.2 424.1h0M872.4 426.8h0M875.7 429.6h0M876 432.4h0M873.8 435.1h0M877.7 437.9h0M875.5 440.6h0M877.2 443.4h0M878.9 446.1h0M876.7 448.9h0M876.9 451.7h0M878 454.4h0M878.4 457.2h0M879.6 459.9h0M879.5 462.7h0M879.8 465.4h0M880.1 468.2h0M880.6 471h0M880.2 473.7h0M881.6 476.5h0M881.5 479.2h0M880.8 482h0M883.7 484.7h0M881.1 487.5h0M883.2 490.3h0M882.1 493h0M883.4 495.8h0M883.8 498.5h0M884.4 501.3h0M885.1 504h0M883.3 506.8h0M887 509.6h0M885 512.3h0M884.1 515.1h0M883.8 517.8h0M887.5 520.6h0M886.9 523.3h0M885.4 526.1h0M886.2 528.9h0M886.8 531.6h0M885.8 534.4h0M885.3 537.1h0M885.8 539.9h0M886.8 542.6h0M886.3 545.4h0M885.4 548.2h0M887.5 550.9h0M885.5 553.7h0M886.6 556.4h0M888.7 559.2h0M888.1 561.9h0M888.3 564.7h0M888.5 567.5h0M889.6 570.2h0M888.8 573h0M887.3 575.7h0M889.6 578.5h0M886.8 581.2h0M888 584h0M891.6 586.8h0M891.4 589.5h0M890.2 592.3h0M890.8 595h0M891.3 597.8h0M892.4 600.5h0M891 603.3h0M891.1 606.1h0M891.6 608.8h0M892.6 611.6h0M893 614.3h0M892.6 617.1h0M893.9 619.8h0M892.5 622.6h0M893.7 625.4h0M893.3 628.1h0M893.3 630.9h0M895.6 633.6h0M894.5 636.4h0M894.1 639.1h0M895.3 641.9h0M894.6 644.7h0M896.3 647.4h0M896.8 650.2h0M897.3 652.9h0M895.6 655.7h0M896.7 658.4h0M898.8 661.2h0M897.1 664h0M898.8 666.7h0M899.3 669.5h0M896.8 672.2h0M899.5 675h0M899.3 677.7h0M899.7 680.5h0M900.7 683.3h0M899.8 686h0M899.7 688.8h0M900.5 691.5h0M899.8 694.3h0M900.9 697h0M898.8 699.8h0M902.5 702.6h0M900.7 705.3h0M901.9 708.1h0M902 710.8h0M902 713.6h0M902.3 716.3h0M902.5 719.1h0M901.2 721.9h0M902.4 724.6h0M904.3 727.4h0M902.5 730.1h0M902.7 732.9h0M906 735.6h0M905.4 738.4h0M906 741.1h0M904.7 743.9h0M905.3 746.7h0M906 749.4h0M906 752.2h0M905.7 754.9h0M904.7 757.7h0M905.6 760.4h0M905.1 763.2h0M908.3 766h0M906.7 768.7h0M907.1 771.5h0M907.8 774.2h0M907.8 777h0M908.6 779.7h0M907.7 782.5h0M907.2 785.3h0M910.5 788h0M908.4 790.8h0M908.9 793.5h0M908.9 796.3h0M909.3 799h0M910.1 801.8h0M911.1 804.6h0M909.6 807.3h0M911.1 810.1h0M910.5 812.8h0M912.5 815.6h0M910.5 818.3h0M912 821.1h0M912.8 823.9h0M911.1 826.6h0M912.8 829.4h0M913 832.1h0M912.4 834.9h0M745.8 22h0M747.4 24.7h0M748.9 27.5h0M750.5 30.3h0M747.7 33h0M747.8 35.8h0M748.8 38.5h0M748.6 41.3h0M747.8 44h0M748.2 46.8h0M748 49.6h0M748.9 52.3h0M749.1 55.1h0M750 57.8h0M749.2 60.6h0M749 63.3h0M748.5 66.1h0M749.2 68.9h0M746.1 71.6h0M792.3 74.4h0M760.1 79.9h0M737.1 85.4h0M716.6 88.2h0M697 90.9h0M687.9 93.7h0M684.4 96.4h0M707.3 104.7h0M709.8 107.5h0M668.4 113h0M667.3 115.7h0M689.4 118.5h0M696.7 121.2h0M673.8 124h0M712.1 126.8h0M656.7 135h0M693.9 140.5h0M691.7 143.3h0M690.1 146.1h0M700.1 148.8h0M697.7 151.6h0M697.9 154.3h0M705.5 157.1h0M707.4 159.8h0M709 162.6h0M711.5 165.4h0M715.8 168.1h0M720.4 170.9h0M720.7 173.6h0M724.3 176.4h0M730.4 179.1h0M726.9 181.9h0M737.7 184.7h0M740.8 187.4h0M745.9 190.2h0M749.8 192.9h0M754.9 195.7h0M758.4 198.4h0M762.2 201.2h0M765.9 204h0M770.4 206.7h0M773.5 209.5h0M778.8 212.2h0M779.8 215h0M784.4 217.7h0M787.5 220.5h0M788.8 223.3h0M792.2 226h0M796.4 228.8h0M797.7 231.5h0M799.5 234.3h0M799.7 237h0M804.9 239.8h0M806.8 242.6h0M809.4 245.3h0M812.8 248.1h0M813.1 250.8h0M815.3 253.6h0M816.8 256.3h0M819.8 259.1h0M822.1 261.9h0M825.2 264.6h0M827.3 267.4h0M828.5 270.1h0M831.1 272.9h0M835 275.6h0M834.7 278.4h0M838.1 281.2h0M840.8 283.9h0M841.8 286.7h0M843.3 289.4h0M846.2 292.2h0M847.2 294.9h0M847.8 297.7h0M848.6 300.5h0M850.7 303.2h0M851.2 306h0M852.8 308.7h0M852 311.5h0M852.9 314.2h0M853.5 317h0M854.5 319.8h0M854 322.5h0M855.9 325.3h0M855.8 328h0M855.1 330.8h0M853.8 333.5h0M855.4 336.3h0M859 339.1h0M858.2 341.8h0M859 344.6h0M859 347.3h0M860.4 350.1h0M858.9 352.8h0M859.4 355.6h0M860.3 358.4h0M862.5 361.1h0M863.7 363.9h0M864.1 366.6h0M864.2 369.4h0M863.8 372.1h0M866.3 374.9h0M865.9 377.6h0M866.8 380.4h0M867.4 383.2h0M867.6 385.9h0M868 388.7h0M868.8 391.4h0M868.8 394.2h0M870.8 396.9h0M870.9 399.7h0M872.5 402.5h0M870.4 405.2h0M873.5 408h0M872.9 410.7h0M873.3 413.5h0M873.2 416.2h0M873.6 419h0M873.5 421.8h0M876.2 424.5h0M875.7 427.3h0M877 430h0M877.6 432.8h0M876.9 435.5h0M877.7 438.3h0M878 441.1h0M879.6 443.8h0M879.2 446.6h0M879.7 449.3h0M880.6 452.1h0M880.3 454.8h0M882.6 457.6h0M880.2 460.4h0M882.5 463.1h0M882.9 465.9h0M880.8 468.6h0M882.9 471.4h0M882.6 474.1h0M883.4 476.9h0M881.8 479.7h0M883.3 482.4h0M882.5 485.2h0M883.3 487.9h0M885.2 490.7h0M884 493.4h0M882.3 496.2h0M883.4 499h0M883.9 501.7h0M886.1 504.5h0M884.8 507.2h0M884.2 510h0M886.9 512.7h0M886.4 515.5h0M886.7 518.3h0M885.9 521h0M888 523.8h0M886.6 526.5h0M885 529.3h0M885.9 532h0M886.2 534.8h0M886.9 537.6h0M887.8 540.3h0M886.7 543.1h0M887.1 545.8h0M889.9 548.6h0M888.2 551.3h0M887.9 554.1h0M888.7 556.9h0M887.8 559.6h0M889.6 562.4h0M890.3 565.1h0M889.1 567.9h0M890.8 570.6h0M889.9 573.4h0M890.7 576.2h0M890 578.9h0M890.2 581.7h0M889.8 584.4h0M891.6 587.2h0M891.4 589.9h0M891.7 592.7h0M891.2 595.5h0M891.4 598.2h0M892.1 601h0M893.4 603.7h0M893.5 606.5h0M892.9 609.2h0M894 612h0M895.6 614.8h0M894.3 617.5h0M896.3 620.3h0M895.1 623h0M896.2 625.8h0M894.8 628.5h0M896.6 631.3h0M894.7 634.1h0M896.2 636.8h0M896 639.6h0M894.7 642.3h0M895.5 645.1h0M898.1 647.8h0M897.7 650.6h0M898.7 653.4h0M898 656.1h0M895.4 658.9h0M898.5 661.6h0M898 664.4h0M898.4 667.1h0M898.7 669.9h0M898.6 672.7h0M898.7 675.4h0M901 678.2h0M900.5 680.9h0M899.7 683.7h0M900.2 686.4h0M901.7 689.2h0M901.4 692h0M901.5 694.7h0M900.5 697.5h0M901.5 700.2h0M901.1 703h0M900.6 705.7h0M903.4 708.5h0M902.6 711.3h0M902.8 714h0M902.5 716.8h0M904.3 719.5h0M905.8 722.3h0M904.7 725h0M905.2 727.8h0M903.5 730.6h0M905.1 733.3h0M905.4 736.1h0M906.8 738.8h0M905.7 741.6h0M905.1 744.3h0M906.1 747.1h0M906 749.8h0M908 752.6h0M907.5 755.4h0M907.5 758.1h0M907.6 760.9h0M908.5 763.6h0M907.5 766.4h0M907.4 769.1h0M906.7 771.9h0M909.8 774.7h0M909.4 777.4h0M909.8 780.2h0M909.5 782.9h0M911.2 785.7h0M909.1 788.4h0M911.3 791.2h0M909.7 794h0M910.3 796.7h0M909.9 799.5h0M911.3 802.2h0M911.2 805h0M912.2 807.7h0M911.5 810.5h0M911 813.3h0M913 816h0M914 818.8h0M913.7 821.5h0M913.2 824.3h0M913.9 827h0M912.2 829.8h0M913.7 832.6h0M915.4 835.3h0M747.9 22.4h0M748.6 25.2h0M746.7 27.9h0M747.3 30.7h0M748.1 33.4h0M749.7 36.2h0M749 39h0M749.8 41.7h0M749.6 44.5h0M748 47.2h0M748.3 50h0M747.3 52.7h0M749.5 55.5h0M749 58.3h0M748.9 61h0M749 63.8h0M748.8 66.5h0M748.6 69.3h0M749 72h0M770.8 74.8h0M725.1 77.6h0M737.7 83.1h0M760.5 85.8h0M684 105.1h0M714.4 110.6h0M729.7 113.4h0M699.9 124.4h0M647 127.2h0M685.6 129.9h0M698.4 138.2h0M697.9 141h0M702.8 143.7h0M701.9 146.5h0M700.6 149.2h0M701.5 152h0M705.4 154.8h0M711 157.5h0M715.4 160.3h0M712.3 163h0M721 165.8h0M721.5 168.5h0M725.3 171.3h0M730.3 174.1h0M730.1 176.8h0M738.5 179.6h0M737.8 182.3h0M744 185.1h0M747.3 187.8h0M757.3 190.6h0M761.4 193.4h0M763.1 196.1h0M766.3 198.9h0M767.7 201.6h0M774.3 204.4h0M777.7 207.1h0M781 209.9h0M783.9 212.7h0M786.7 215.4h0M789.6 218.2h0M793.5 220.9h0M794.1 223.7h0M797.6 226.4h0M801.5 229.2h0M803.4 232h0M806.6 234.7h0M807.4 237.5h0M809.5 240.2h0M812.4 243h0M813.8 245.7h0M815.6 248.5h0M816.9 251.3h0M818.1 254h0M823 256.8h0M823.6 259.5h0M825.6 262.3h0M829.3 265h0M830 267.8h0M831.9 270.6h0M834.9 273.3h0M837.4 276.1h0M839.5 278.8h0M841.5 281.6h0M843.8 284.3h0M844.6 287.1h0M846.8 289.9h0M848.2 292.6h0M849.5 295.4h0M851.3 298.1h0M852.1 300.9h0M854.3 303.6h0M854 306.4h0M853.6 309.2h0M855.6 311.9h0M855.7 314.7h0M857.9 317.4h0M855.2 320.2h0M856.5 322.9h0M856.8 325.7h0M858 328.5h0M858.3 331.2h0M857.5 334h0M857.8 336.7h0M860.2 339.5h0M861.9 342.2h0M862.5 345h0M861.4 347.8h0M862.8 350.5h0M862.2 353.3h0M862.3 356h0M865.3 358.8h0M865.4 361.5h0M865.1 364.3h0M865.7 367.1h0M867.5 369.8h0M867.6 372.6h0M867.6 375.3h0M868.8 378.1h0M869.1 380.8h0M869.4 383.6h0M869.7 386.3h0M871.8 389.1h0M871.2 391.9h0M871.2 394.6h0M874.5 397.4h0M874.4 400.1h0M874.2 402.9h0M874.2 405.6h0M874.9 408.4h0M873.9 411.2h0M875.6 413.9h0M876.3 416.7h0M876.4 419.4h0M877.5 422.2h0M876.9 424.9h0M878.2 427.7h0M877.1 430.5h0M879 433.2h0M879 436h0M878.8 438.7h0M880.1 441.5h0M880.8 444.2h0M880.7 447h0M882.5 449.8h0M881.4 452.5h0M883.3 455.3h0M883.5 458h0M882.6 460.8h0M884.7 463.5h0M882.4 466.3h0M884.3 469.1h0M884.2 471.8h0M885 474.6h0M883.2 477.3h0M883.8 480.1h0M884.4 482.8h0M885.4 485.6h0M885.7 488.4h0M885.9 491.1h0M885.9 493.9h0M885.7 496.6h0M885.4 499.4h0M886.5 502.1h0M887.6 504.9h0M888.2 507.7h0M887.1 510.4h0M888.8 513.2h0M886.9 515.9h0M889 518.7h0M887.5 521.4h0M888.8 524.2h0M887.8 527h0M887.8 529.7h0M888.3 532.5h0M890.1 535.2h0M888.3 538h0M889.5 540.7h0M889.4 543.5h0M889.7 546.3h0M890 549h0M890.5 551.8h0M889.1 554.5h0M890.5 557.3h0M891 560h0M890.4 562.8h0M891.5 565.6h0M890.5 568.3h0M892.4 571.1h0M891.3 573.8h0M892 576.6h0M893.2 579.3h0M893.7 582.1h0M892.4 584.9h0M892.6 587.6h0M894.3 590.4h0M891.1 593.1h0M895.1 595.9h0M895.3 598.6h0M893.5 601.4h0M895.7 604.2h0M895.3 606.9h0M895.6 609.7h0M893.4 612.4h0M895.2 615.2h0M895.7 617.9h0M895.8 620.7h0M896.1 623.5h0M896.4 626.2h0M894.4 629h0M897 631.7h0M896.8 634.5h0M897.6 637.2h0M897.5 640h0M898.1 642.8h0M898.7 645.5h0M900.2 648.3h0M898.2 651h0M900.6 653.8h0M899.2 656.5h0M898.8 659.3h0M898.6 662.1h0M900.9 664.8h0M899 667.6h0M901.4 670.3h0M901.2 673.1h0M900.6 675.8h0M900.8 678.6h0M902.1 681.4h0M902 684.1h0M902.8 686.9h0M902.4 689.6h0M902.2 692.4h0M903.3 695.1h0M902 697.9h0M904.1 700.7h0M903.6 703.4h0M902.8 706.2h0M903.2 708.9h0M904.1 711.7h0M903 714.4h0M906.1 717.2h0M906 720h0M904.4 722.7h0M905.5 725.5h0M907.3 728.2h0M906.4 731h0M905.4 733.7h0M904.6 736.5h0M905.4 739.3h0M908.1 742h0M907.6 744.8h0M906.4 747.5h0M908.4 750.3h0M907.7 753h0M907.7 755.8h0M908.1 758.5h0M908.4 761.3h0M910.6 764.1h0M908.5 766.8h0M909.2 769.6h0M911 772.3h0M911.4 775.1h0M909.4 777.8h0M912.4 780.6h0M911.8 783.4h0M909.7 786.1h0M912.9 788.9h0M910.2 791.6h0M912.4 794.4h0M911 797.1h0M910.7 799.9h0M913.3 802.7h0M913.2 805.4h0M912.9 808.2h0M913.4 810.9h0M913.4 813.7h0M913.5 816.4h0M913 819.2h0M914.8 822h0M914.5 824.7h0M914.5 827.5h0M914.5 830.2h0M915 833h0M914.1 835.7h0M752.5 22.8h0M750.9 25.6h0M751 28.4h0M753.6 31.1h0M752.1 33.9h0M754.2 36.6h0M752.3 39.4h0M753.3 42.1h0M751.6 44.9h0M752.4 47.7h0M752.7 50.4h0M753.5 53.2h0M754.5 55.9h0M753.8 58.7h0M751.6 61.4h0M753 64.2h0M752.8 67h0M752.4 69.7h0M754.3 72.5h0M785.3 75.2h0M765.2 80.7h0M772 83.5h0M722.6 86.3h0M782 89h0M780.8 91.8h0M751.5 94.5h0M779.9 97.3h0M756.1 105.6h0M724.4 108.3h0M746.8 111.1h0M733.4 113.8h0M721.6 116.6h0M702.9 119.3h0M705.5 122.1h0M691 124.9h0M734.6 127.6h0M665.9 130.4h0M702.1 138.6h0M707.2 141.4h0M704.3 144.2h0M709.5 146.9h0M706.9 149.7h0M708.8 152.4h0M710.8 155.2h0M715.7 157.9h0M719.4 160.7h0M719.3 163.5h0M723.3 166.2h0M730.4 169h0M728.2 171.7h0M737.4 174.5h0M736.6 177.2h0M740.5 180h0M742.1 182.8h0M748.3 185.5h0M750.5 188.3h0M757.4 191h0M764.3 193.8h0M766.2 196.5h0M768.5 199.3h0M771 202.1h0M776.3 204.8h0M779.2 207.6h0M782.9 210.3h0M789.4 213.1h0M790.5 215.8h0M791.9 218.6h0M795.8 221.4h0M799 224.1h0M799.6 226.9h0M802.6 229.6h0M804.1 232.4h0M806.1 235.1h0M810.9 237.9h0M814.8 240.7h0M813.1 243.4h0M814.3 246.2h0M819.2 248.9h0M820.9 251.7h0M822.4 254.4h0M825.6 257.2h0M826.3 260h0M829.1 262.7h0M831.9 265.5h0M833.1 268.2h0M836.1 271h0M837.7 273.7h0M840.4 276.5h0M841.9 279.3h0M841.8 282h0M845.5 284.8h0M845.9 287.5h0M848.3 290.3h0M849.3 293h0M853.2 295.8h0M853 298.6h0M853.8 301.3h0M856.1 304.1h0M856.4 306.8h0M856.4 309.6h0M855.6 312.3h0M858.9 315.1h0M858.5 317.9h0M858.7 320.6h0M860.1 323.4h0M859.2 326.1h0M860.2 328.9h0M861.5 331.6h0M861.8 334.4h0M861.2 337.2h0M863.7 339.9h0M864 342.7h0M865.3 345.4h0M864.1 348.2h0M864.9 350.9h0M866.3 353.7h0M866.3 356.5h0M866.6 359.2h0M867 362h0M867.5 364.7h0M867.8 367.5h0M868.4 370.2h0M870 373h0M869.9 375.8h0M869.6 378.5h0M871.5 381.3h0M873.6 384h0M873.9 386.8h0M871.5 389.5h0M873.2 392.3h0M875.3 395h0M875.2 397.8h0M875.7 400.6h0M876 403.3h0M876.6 406.1h0M876.1 408.8h0M878.5 411.6h0M877 414.3h0M878.3 417.1h0M880.3 419.9h0M880.4 422.6h0M879.9 425.4h0M880.4 428.1h0M880.3 430.9h0M880.9 433.6h0M881.7 436.4h0M883.5 439.2h0M882.3 441.9h0M883.7 444.7h0M883.9 447.4h0M884.3 450.2h0M884.1 452.9h0M885.4 455.7h0M885.3 458.5h0M885.5 461.2h0M885.2 464h0M884 466.7h0M886.8 469.5h0M887.1 472.2h0M886.2 475h0M886.8 477.8h0M887.4 480.5h0M886.5 483.3h0M888.3 486h0M888.6 488.8h0M888.9 491.5h0M889.3 494.3h0M886.9 497.1h0M889.4 499.8h0M888.8 502.6h0M890.4 505.3h0M890.6 508.1h0M890.7 510.8h0M890.1 513.6h0M893 516.4h0M890.6 519.1h0M889.8 521.9h0M891.7 524.6h0M889.6 527.4h0M892.7 530.1h0M892 532.9h0M892.3 535.7h0M892.1 538.4h0M891.7 541.2h0M890.4 543.9h0M891.3 546.7h0M892.6 549.4h0M892.1 552.2h0M892.9 555h0M892.2 557.7h0M892.3 560.5h0M893.5 563.2h0M894.2 566h0M893.8 568.7h0M893.1 571.5h0M892.7 574.3h0M896.3 577h0M893.7 579.8h0M894.2 582.5h0M894.5 585.3h0M896.3 588h0M895 590.8h0M896.4 593.6h0M896.4 596.3h0M895.4 599.1h0M896.8 601.8h0M895.8 604.6h0M897 607.3h0M898.1 610.1h0M897.4 612.9h0M897.1 615.6h0M897.7 618.4h0M898.2 621.1h0M898.9 623.9h0M896.8 626.6h0M897.4 629.4h0M899.8 632.2h0M899.5 634.9h0M899.8 637.7h0M900.2 640.4h0M900.2 643.2h0M900.1 645.9h0M900.9 648.7h0M901.6 651.5h0M901.6 654.2h0M901.5 657h0M900.8 659.7h0M902.2 662.5h0M901.2 665.2h0M901.9 668h0M902.9 670.8h0M903.1 673.5h0M904.2 676.3h0M904.3 679h0M904.1 681.8h0M903.7 684.5h0M904.2 687.3h0M904.2 690.1h0M906.2 692.8h0M905.3 695.6h0M904.6 698.3h0M904.6 701.1h0M906.8 703.8h0M905.1 706.6h0M906.5 709.4h0M906.5 712.1h0M907.6 714.9h0M906.1 717.6h0M907.5 720.4h0M907.5 723.1h0M908.3 725.9h0M909.1 728.7h0M908.2 731.4h0M908.1 734.2h0M909.4 736.9h0M907.6 739.7h0M909.2 742.4h0M908.4 745.2h0M908.5 748h0M908.4 750.7h0M908.6 753.5h0M911 756.2h0M911.3 759h0M910.9 761.7h0M912 764.5h0M911.3 767.2h0M911.1 770h0M910.8 772.8h0M912.7 775.5h0M913 778.3h0M913.6 781h0M912 783.8h0M912.7 786.5h0M912 789.3h0M914.5 792.1h0M914.4 794.8h0M914.4 797.6h0M914.2 800.3h0M914.3 803.1h0M914.4 805.8h0M915.9 808.6h0M914.6 811.4h0M916.2 814.1h0M915.9 816.9h0M915 819.6h0M914.9 822.4h0M915.7 825.1h0M916.6 827.9h0M915.7 830.7h0M917.7 833.4h0M918.4 836.2h0M758.1 23.3h0M755.3 26h0M756.3 28.8h0M755.4 31.5h0M757.2 34.3h0M757.4 37.1h0M757.6 39.8h0M756.1 42.6h0M756.4 45.3h0M757.1 48.1h0M756.6 50.8h0M756.7 53.6h0M756.6 56.4h0M756.6 59.1h0M756.3 61.9h0M756.8 64.6h0M755 67.4h0M756 70.1h0M729.3 72.9h0M755.1 75.7h0M741.7 78.4h0M783.1 83.9h0M740.8 89.4h0M741.3 97.7h0M738.5 100.5h0M738.2 103.2h0M737.3 106h0M754.1 111.5h0M735.3 117h0M734.1 125.3h0M708.2 139.1h0M702 141.8h0M699.5 144.6h0M701 147.3h0M696.1 150.1h0M695.5 152.9h0M701.5 155.6h0M698.7 158.4h0M702.1 161.1h0M701.2 163.9h0M711.4 166.6h0M714.2 169.4h0M714.5 172.2h0M716.8 174.9h0M726.3 177.7h0M731.2 180.4h0M738.1 183.2h0M744.5 185.9h0M745.6 188.7h0M749.4 191.5h0M753.8 194.2h0M757.7 197h0M759.2 199.7h0M764.2 202.5h0M770.1 205.2h0M772.7 208h0M776.9 210.8h0M783.2 213.5h0M784.4 216.3h0M788.6 219h0M791.8 221.8h0M793.5 224.5h0M796.8 227.3h0M798.5 230.1h0M800.4 232.8h0M803.4 235.6h0M805.6 238.3h0M807.8 241.1h0M809.8 243.8h0M811.5 246.6h0M814.9 249.4h0M815.9 252.1h0M817.8 254.9h0M821.3 257.6h0M821.9 260.4h0M825.1 263.1h0M828.8 265.9h0M829.8 268.7h0M833.3 271.4h0M834.1 274.2h0M835.8 276.9h0M838 279.7h0M839.5 282.4h0M841.5 285.2h0M843.3 288h0M846.3 290.7h0M847.8 293.5h0M848.7 296.2h0M849.1 299h0M853.5 301.7h0M851.3 304.5h0M853.6 307.3h0M852.1 310h0M853.4 312.8h0M856 315.5h0M854.3 318.3h0M854.7 321h0M856 323.8h0M855.8 326.6h0M856.7 329.3h0M857.6 332.1h0M858.7 334.8h0M858.7 337.6h0M859.4 340.3h0M860.9 343.1h0M861.6 345.9h0M860.5 348.6h0M859.7 351.4h0M861.1 354.1h0M863.6 356.9h0M862.8 359.6h0M863.2 362.4h0M864.1 365.2h0M866.6 367.9h0M865.8 370.7h0M866 373.4h0M866.3 376.2h0M866.6 378.9h0M870.8 381.7h0M868.8 384.5h0M869.6 387.2h0M869.8 390h0M871.7 392.7h0M870.4 395.5h0M870.2 398.2h0M871.9 401h0M873.2 403.7h0M875.4 406.5h0M873.7 409.3h0M873.5 412h0M874.5 414.8h0M874.5 417.5h0M875 420.3h0M876.3 423h0M877 425.8h0M876.6 428.6h0M878.7 431.3h0M878.1 434.1h0M878.8 436.8h0M878.7 439.6h0M879.9 442.3h0M880.3 445.1h0M881 447.9h0M880 450.6h0M881.7 453.4h0M881.1 456.1h0M882.1 458.9h0M882.9 461.6h0M883.9 464.4h0M882.3 467.2h0M882 469.9h0M883.4 472.7h0M884.6 475.4h0M883.4 478.2h0M886.2 480.9h0M882.5 483.7h0M885.9 486.5h0M885.8 489.2h0M886 492h0M884.5 494.7h0M886.8 497.5h0M886.8 500.2h0M887.2 503h0M886.1 505.8h0M886.3 508.5h0M888 511.3h0M887.3 514h0M886.9 516.8h0M886.8 519.5h0M887.9 522.3h0M886.4 525.1h0M888.3 527.8h0M888 530.6h0M886.5 533.3h0M888.4 536.1h0M889.1 538.8h0M888.4 541.6h0M887.2 544.4h0M888.1 547.1h0M889.7 549.9h0M888 552.6h0M889.1 555.4h0M890.7 558.1h0M889.7 560.9h0M889.7 563.7h0M891.2 566.4h0M892.2 569.2h0M891.3 571.9h0M890 574.7h0M890 577.4h0M891.5 580.2h0M890.3 583h0M892.1 585.7h0M893.3 588.5h0M890.2 591.2h0M892.8 594h0M893.5 596.7h0M892.9 599.5h0M894 602.3h0M894.4 605h0M895.2 607.8h0M896.9 610.5h0M895 613.3h0M894.1 616h0M894.2 618.8h0M894.3 621.6h0M896.3 624.3h0M896.3 627.1h0M896.6 629.8h0M896.6 632.6h0M898.2 635.3h0M897.9 638.1h0M898.1 640.9h0M896.8 643.6h0M897.4 646.4h0M896.7 649.1h0M897.6 651.9h0M898.5 654.6h0M897.6 657.4h0M898.3 660.2h0M901 662.9h0M899.3 665.7h0M898.3 668.4h0M898.8 671.2h0M900.1 673.9h0M901.2 676.7h0M900.6 679.5h0M901.7 682.2h0M901.5 685h0M900.4 687.7h0M902.6 690.5h0M901.5 693.2h0M903.9 696h0M901.9 698.8h0M902.6 701.5h0M902.4 704.3h0M902.9 707h0M903.9 709.8h0M903.5 712.5h0M905 715.3h0M904.6 718.1h0M905.9 720.8h0M904.8 723.6h0M906.1 726.3h0M906.3 729.1h0M905.3 731.8h0M908 734.6h0M907.3 737.4h0M906.7 740.1h0M906.3 742.9h0M906.6 745.6h0M906.8 748.4h0M907.5 751.1h0M906.4 753.9h0M907.8 756.7h0M907.4 759.4h0M909.7 762.2h0M909.2 764.9h0M910.2 767.7h0M911.1 770.4h0M909.6 773.2h0M911.3 775.9h0M910.1 778.7h0M910.5 781.5h0M909.3 784.2h0M910.5 787h0M912 789.7h0M911.4 792.5h0M910.9 795.2h0M911.5 798h0M911 800.8h0M911.3 803.5h0M910.9 806.3h0M913.5 809h0M913.7 811.8h0M912.9 814.5h0M912 817.3h0M913.2 820.1h0M915.6 822.8h0M912.7 825.6h0M913.8 828.3h0M914 831.1h0M915.4 833.8h0M755.6 23.7h0M758.7 26.5h0M754.9 29.2h0M756.6 32h0M756.3 34.7h0M757.6 37.5h0M756.3 40.2h0M754.8 43h0M755.3 45.8h0M756.5 48.5h0M756.4 51.3h0M755.8 54h0M755.9 56.8h0M754.9 59.5h0M755 62.3h0M755.8 65.1h0M755.7 67.8h0M756.1 70.6h0M709.3 73.3h0M679.5 78.8h0M700.7 84.4h0M627.6 92.6h0M670.4 98.1h0M673.6 100.9h0M663.9 103.7h0M640.3 106.4h0M649.5 111.9h0M645.9 114.7h0M655.1 120.2h0M732.5 128.5h0M683.3 139.5h0M680.3 142.3h0M684.8 145h0M684.9 147.8h0M685 150.5h0M687.5 153.3h0M689 156h0M694 158.8h0M696.8 161.6h0M700.3 164.3h0M702.7 167.1h0M708.4 169.8h0M709.6 172.6h0M717.9 175.3h0M719.4 178.1h0M727.5 180.9h0M730 183.6h0M734.2 186.4h0M736.7 189.1h0M745.4 191.9h0M749.2 194.6h0M752.7 197.4h0M757.7 200.2h0M761.2 202.9h0M764.1 205.7h0M768 208.4h0M773.9 211.2h0M777.5 213.9h0M781.8 216.7h0M785.4 219.5h0M787.3 222.2h0M790 225h0M792.5 227.7h0M794.7 230.5h0M796.6 233.2h0M797 236h0M802.3 238.8h0M804.2 241.5h0M805.8 244.3h0M808.1 247h0M811 249.8h0M813 252.5h0M814.6 255.3h0M816.5 258.1h0M819.6 260.8h0M822.1 263.6h0M825.8 266.3h0M825.2 269.1h0M828.9 271.8h0M829.9 274.6h0M832.2 277.4h0M836.7 280.1h0M836 282.9h0M838.2 285.6h0M839.6 288.4h0M842.9 291.1h0M843.5 293.9h0M843.7 296.7h0M846.3 299.4h0M847.9 302.2h0M848 304.9h0M849 307.7h0M849.1 310.4h0M849.8 313.2h0M851.5 316h0M850.8 318.7h0M851.9 321.5h0M851.8 324.2h0M852.9 327h0M854.4 329.7h0M854.1 332.5h0M855.7 335.3h0M855.6 338h0M855.7 340.8h0M855.6 343.5h0M857.1 346.3h0M856.5 349h0M858.9 351.8h0M857.6 354.6h0M858.1 357.3h0M859.3 360.1h0M859.1 362.8h0M861.4 365.6h0M861.2 368.3h0M862.1 371.1h0M863.8 373.9h0M861.8 376.6h0M864.2 379.4h0M865.4 382.1h0M866.7 384.9h0M866.5 387.6h0M866.4 390.4h0M868.5 393.2h0M869.1 395.9h0M870.9 398.7h0M871.3 401.4h0M869.6 404.2h0M871.5 406.9h0M870.9 409.7h0M870.2 412.4h0M872.3 415.2h0M873.4 418h0M870.5 420.7h0M874.4 423.5h0M872.9 426.2h0M875.7 429h0M874.9 431.7h0M875.3 434.5h0M877 437.3h0M875.8 440h0M878.5 442.8h0M876.1 445.5h0M876.8 448.3h0M876.8 451h0M878.7 453.8h0M878.6 456.6h0M879.8 459.3h0M880.3 462.1h0M880.3 464.8h0M880.8 467.6h0M881.1 470.3h0M880.2 473.1h0M879.9 475.9h0M879.9 478.6h0M881.8 481.4h0M880.9 484.1h0M880.7 486.9h0M881.1 489.6h0M881.9 492.4h0M882.6 495.2h0M882.4 497.9h0M882 500.7h0M883.7 503.4h0M881.4 506.2h0M883.4 508.9h0M884.9 511.7h0M884.5 514.5h0M885.6 517.2h0M884.8 520h0M885.3 522.7h0M884.9 525.5h0M884.5 528.2h0M885.4 531h0M886 533.8h0M883.3 536.5h0M884.5 539.3h0M883.5 542h0M884.8 544.8h0M884.7 547.5h0M885.7 550.3h0M886.2 553.1h0M887.6 555.8h0M888.1 558.6h0M886.5 561.3h0M887 564.1h0M888.3 566.8h0M887.4 569.6h0M887.8 572.4h0M886.8 575.1h0M889.4 577.9h0M889.2 580.6h0M888.4 583.4h0M888.3 586.1h0M888.8 588.9h0M890.4 591.7h0M889.8 594.4h0M889.4 597.2h0M890.5 599.9h0M891.8 602.7h0M892.5 605.4h0M892.8 608.2h0M891.9 611h0M892.3 613.7h0M892.6 616.5h0M893.2 619.2h0M893.4 622h0M892.2 624.7h0M892.7 627.5h0M893.3 630.3h0M894.5 633h0M893.7 635.8h0M893.7 638.5h0M895.6 641.3h0M896.3 644h0M894.3 646.8h0M895.3 649.6h0M896.8 652.3h0M895.6 655.1h0M897.1 657.8h0M895.1 660.6h0M896.5 663.3h0M897.6 666.1h0M898.7 668.9h0M898.4 671.6h0M896.2 674.4h0M896.6 677.1h0M897.4 679.9h0M899.3 682.6h0M899.4 685.4h0M900 688.2h0M899.9 690.9h0M899 693.7h0M899.4 696.4h0M899.2 699.2h0M901.1 701.9h0M899.4 704.7h0M900.9 707.5h0M901.3 710.2h0M902.5 713h0M900.9 715.7h0M902.2 718.5h0M901.2 721.2h0M903.3 724h0M902.3 726.8h0M902.6 729.5h0M902.2 732.3h0M902.8 735h0M903 737.8h0M903.3 740.5h0M905.2 743.3h0M903.5 746.1h0M904.9 748.8h0M905.7 751.6h0M904.1 754.3h0M903.4 757.1h0M906.1 759.8h0M904.4 762.6h0M905.5 765.4h0M906.4 768.1h0M907 770.9h0M906.7 773.6h0M906.6 776.4h0M908.4 779.1h0M907.9 781.9h0M909.8 784.6h0M907.4 787.4h0M908.4 790.2h0M908.7 792.9h0M909.5 795.7h0M909.5 798.4h0M909.5 801.2h0M911.6 803.9h0M909.9 806.7h0M910.7 809.5h0M910.7 812.2h0M910.2 815h0M911.7 817.7h0M909.6 820.5h0M912.6 823.2h0M910.4 826h0M911.8 828.8h0M912.4 831.5h0M912.1 834.3h0" stroke="#00ffff" stroke-width="6.1" stroke-linecap="round" fill="none"/>
<path d="M749.5 29.7 L749.5 50.1 L749.5 70.6 L712.1 91 L695.7 111.4 L703.4 131.8 L704.8 152.2 L724.4 172.7 L752.7 193.1 L780.5 213.5 L800.4 233.9 L816.8 254.4 L834.8 274.8 L849.4 295.2 L856.7 315.6 L860.4 336 L864.7 356.5 L869.3 376.9 L873.8 397.3 L877.3 417.7 L880.9 438.2 L883.9 458.6 L885.7 479 L887.5 499.4 L889.4 519.9 L889.8 540.3 L891.6 560.7 L893.4 581.1 L895.1 601.5 L896.9 622 L898.7 642.4 L900.5 662.8 L902.2 683.2 L904 703.7 L905.8 724.1 L907.6 744.5 L909.3 764.9 L911.1 785.3 L912.9 805.8 L914.7 826.2" stroke="#0000ff" stroke-width="2.6" fill="none" stroke-linejoin="round"/>
<path d="M749.5 29.7h0M749.5 50.1h0M749.5 70.6h0M712.1 91h0M695.7 111.4h0M703.4 131.8h0M704.8 152.2h0M724.4 172.7h0M752.7 193.1h0M780.5 213.5h0M800.4 233.9h0M816.8 254.4h0M834.8 274.8h0M849.4 295.2h0M856.7 315.6h0M860.4 336h0M864.7 356.5h0M869.3 376.9h0M873.8 397.3h0M877.3 417.7h0M880.9 438.2h0M883.9 458.6h0M885.7 479h0M887.5 499.4h0M889.4 519.9h0M889.8 540.3h0M891.6 560.7h0M893.4 581.1h0M895.1 601.5h0M896.9 622h0M898.7 642.4h0M900.5 662.8h0M902.2 683.2h0M904 703.7h0M905.8 724.1h0M907.6 744.5h0M909.3 764.9h0M911.1 785.3h0M912.9 805.8h0M914.7 826.2h0" stroke="#0000ff" stroke-width="12" stroke-linecap="round" fill="none"/>
<path d="M781 19.5 L781 23.6 L781 27.7 L781 31.8 L781 35.8 L781 39.9 L781 44 L781 50.1 L781 60.3 L781 70.6 L774.8 80.8 L771.7 91 L771.7 101.2 L772.3 111.4 L773.5 121.6 L768.7 142 L766.9 162.5 L774.2 182.9 L786 203.3 L796.7 223.7 L832.1 274.8 L861.5 325.8 L883.9 427.9 L894.1 530.1 L902.1 632.2 L909.7 734.3 L917.2 836.4" stroke="#ff0000" stroke-width="6.2" fill="none" stroke-linejoin="round"/>
<path d="M781 19.5h0M781 23.6h0M781 27.7h0M781 31.8h0M781 35.8h0M781 39.9h0M781 44h0M781 50.1h0M781 60.3h0M781 70.6h0M774.8 80.8h0M771.7 91h0M771.7 101.2h0M772.3 111.4h0M773.5 121.6h0M768.7 142h0M766.9 162.5h0M774.2 182.9h0M786 203.3h0M796.7 223.7h0M832.1 274.8h0M861.5 325.8h0M883.9 427.9h0M894.1 530.1h0M902.1 632.2h0M909.7 734.3h0M917.2 836.4h0" stroke="#ff0000" stroke-width="12" stroke-linecap="round" fill="none"/>
<path d="M674 20.5 L674 22.6 L674 24.9 L674 27.3 L674 29.9 L674 32.7 L674 35.7 L674 39.1 L674 42.8 L674 47 L674 51.8 L674 57.3 L674 63.6 L674.5 71 L680.2 79.6 L675.2 89.8 L671.5 101.9 L677.2 116.2 L690.4 133.4 L713.3 153.9 L752.3 178.5 L802.2 208.1 L848.3 243.6 L878.4 286.4 L890 337.8 L888.2 399.6 L890 473.8 L894.1 562.8 L899.4 669.2 L912.4 796" stroke="#ff00ff" stroke-width="2.6" fill="none" stroke-linejoin="round"/>
<path d="M674 20.5h0M674 22.6h0M674 24.9h0M674 27.3h0M674 29.9h0M674 32.7h0M674 35.7h0M674 39.1h0M674 42.8h0M674 47h0M674 51.8h0M674 57.3h0M674 63.6h0M674.5 71h0M680.2 79.6h0M675.2 89.8h0M671.5 101.9h0M677.2 116.2h0M690.4 133.4h0M713.3 153.9h0M752.3 178.5h0M802.2 208.1h0M848.3 243.6h0M878.4 286.4h0M890 337.8h0M888.2 399.6h0M890 473.8h0M894.1 562.8h0M899.4 669.2h0M912.4 796h0" stroke="#ff00ff" stroke-width="12" stroke-linecap="round" fill="none"/>
</g>
<g clip-path="url(#c2)">
<path d="M1127 21.1h0M1127.2 23.9h0M1128 26.6h0M1127.9 29.4h0M1127.8 32.2h0M1129 34.9h0M1128.6 37.7h0M1129.1 40.4h0M1130 43.2h0M1130.1 45.9h0M1131.1 48.7h0M1131 51.5h0M1132.3 54.2h0M1131.5 57h0M1132.7 59.7h0M1132.6 62.5h0M1133.9 65.2h0M1133.4 68h0M1134.9 70.8h0M1146.1 73.5h0M1152.6 76.3h0M1161.4 79h0M1166.6 81.8h0M1169.8 84.5h0M1172.1 87.3h0M1175.1 90.1h0M1173 92.8h0M1175.8 95.6h0M1177.1 98.3h0M1180 101.1h0M1181.8 103.8h0M1184.2 106.6h0M1187.6 109.4h0M1192.9 112.1h0M1194.2 114.9h0M1196.7 117.6h0M1195.9 120.4h0M1198.4 123.1h0M1200.6 125.9h0M1203.9 128.7h0M1205.3 131.4h0M1206.2 134.2h0M1206.9 136.9h0M1209.7 139.7h0M1210.5 142.4h0M1213.9 145.2h0M1216.7 148h0M1216.9 150.7h0M1217.4 153.5h0M1222.8 156.2h0M1222.7 159h0M1224.3 161.7h0M1225.6 164.5h0M1227.4 167.3h0M1229 170h0M1230.9 172.8h0M1230.8 175.5h0M1233.5 178.3h0M1236 181h0M1238.2 183.8h0M1240.4 186.6h0M1242.8 189.3h0M1242.6 192.1h0M1245.6 194.8h0M1247.9 197.6h0M1250.8 200.3h0M1252.5 203.1h0M1255.5 205.9h0M1256.5 208.6h0M1258.6 211.4h0M1260 214.1h0M1263.2 216.9h0M1264.3 219.6h0M1266 222.4h0M1267.5 225.2h0M1269.3 227.9h0M1270.7 230.7h0M1272.9 233.4h0M1273.4 236.2h0M1274.9 238.9h0M1276.2 241.7h0M1278 244.5h0M1279.3 247.2h0M1280.9 250h0M1282.1 252.7h0M1283.3 255.5h0M1284.1 258.2h0M1285.6 261h0M1286.5 263.8h0M1287.5 266.5h0M1287.7 269.3h0M1289.2 272h0M1290.2 274.8h0M1291 277.5h0M1293.6 280.3h0M1294.9 283.1h0M1296 285.8h0M1297 288.6h0M1298.6 291.3h0M1298.6 294.1h0M1300.8 296.8h0M1300.3 299.6h0M1302.1 302.4h0M1303 305.1h0M1304 307.9h0M1304.9 310.6h0M1305.8 313.4h0M1306.1 316.1h0M1307 318.9h0M1307.8 321.7h0M1309.1 324.4h0M1309.7 327.2h0M1310.1 329.9h0M1312 332.7h0M1312 335.4h0M1313.1 338.2h0M1313.7 341h0M1314.5 343.7h0M1315.9 346.5h0M1316.1 349.2h0M1316.5 352h0M1317.7 354.7h0M1318.3 357.5h0M1318.8 360.2h0M1320.7 363h0M1321.5 365.8h0M1321.2 368.5h0M1323.3 371.3h0M1324.1 374h0M1323.6 376.8h0M1325.2 379.5h0M1325.8 382.3h0M1327.1 385.1h0M1326.4 387.8h0M1328.8 390.6h0M1329.2 393.3h0M1330.4 396.1h0M1331.3 398.8h0M1330.5 401.6h0M1332.1 404.4h0M1332.7 407.1h0M1333.5 409.9h0M1334.4 412.6h0M1334.8 415.4h0M1334.7 418.1h0M1336 420.9h0M1336.1 423.7h0M1337.4 426.4h0M1337.7 429.2h0M1338.4 431.9h0M1339.2 434.7h0M1339.1 437.4h0M1340.4 440.2h0M1340.7 443h0M1342.3 445.7h0M1343.1 448.5h0M1342.6 451.2h0M1343 454h0M1344.7 456.7h0M1345 459.5h0M1345.5 462.3h0M1347.6 465h0M1347.1 467.8h0M1347.5 470.5h0M1348.5 473.3h0M1349.5 476h0M1350.7 478.8h0M1350.8 481.6h0M1350.7 484.3h0M1351.6 487.1h0M1353.2 489.8h0M1352.2 492.6h0M1353.5 495.3h0M1354.6 498.1h0M1354.9 500.9h0M1355.5 503.6h0M1356 506.4h0M1357.2 509.1h0M1358.1 511.9h0M1358.8 514.6h0M1359.9 517.4h0M1360.3 520.2h0M1361.5 522.9h0M1361.7 525.7h0M1362.7 528.4h0M1362.8 531.2h0M1364.4 533.9h0M1364.9 536.7h0M1365.3 539.5h0M1365.3 542.2h0M1366.4 545h0M1365.8 547.7h0M1367.5 550.5h0M1368.4 553.2h0M1368.6 556h0M1369.7 558.8h0M1370.6 561.5h0M1371.8 564.3h0M1371.7 567h0M1371.7 569.8h0M1372 572.5h0M1373.6 575.3h0M1374.7 578.1h0M1375.5 580.8h0M1375.7 583.6h0M1376.1 586.3h0M1376.7 589.1h0M1377.6 591.8h0M1378.4 594.6h0M1379.3 597.4h0M1379.7 600.1h0M1381.2 602.9h0M1381.1 605.6h0M1381.9 608.4h0M1382.8 611.1h0M1383.4 613.9h0M1383.4 616.7h0M1383.7 619.4h0M1384.5 622.2h0M1385.8 624.9h0M1386.6 627.7h0M1387.2 630.4h0M1388 633.2h0M1388.9 636h0M1388.7 638.7h0M1390.8 641.5h0M1391.5 644.2h0M1391.3 647h0M1391.6 649.7h0M1392.5 652.5h0M1392.4 655.3h0M1393.7 658h0M1394 660.8h0M1395 663.5h0M1395.6 666.3h0M1397.2 669h0M1396.7 671.8h0M1397.8 674.6h0M1398.2 677.3h0M1399.7 680.1h0M1400.1 682.8h0M1399.7 685.6h0M1400.6 688.3h0M1401.8 691.1h0M1402.1 693.9h0M1403.2 696.6h0M1403.7 699.4h0M1403.9 702.1h0M1404.9 704.9h0M1405.9 707.6h0M1406.3 710.4h0M1407.1 713.2h0M1407.9 715.9h0M1408.3 718.7h0M1409.6 721.4h0M1409.2 724.2h0M1410.6 726.9h0M1410.8 729.7h0M1411.9 732.4h0M1412.7 735.2h0M1413.3 738h0M1414 740.7h0M1414.7 743.5h0M1415.3 746.2h0M1415.6 749h0M1416.7 751.7h0M1417.4 754.5h0M1418.1 757.3h0M1418.5 760h0M1419.2 762.8h0M1418.9 765.5h0M1420 768.3h0M1420.9 771h0M1422.1 773.8h0M1422.9 776.6h0M1423.1 779.3h0M1423.2 782.1h0M1424.6 784.8h0M1425.5 787.6h0M1426 790.3h0M1426.1 793.1h0M1426.6 795.9h0M1427.3 798.6h0M1427.9 801.4h0M1429.5 804.1h0M1429.8 806.9h0M1431.3 809.6h0M1431.7 812.4h0M1432.1 815.2h0M1432.1 817.9h0M1433.3 820.7h0M1433.9 823.4h0M1433.8 826.2h0M1434.5 828.9h0M1435.4 831.7h0M1436.9 834.5h0M1125.6 21.6h0M1125.6 24.3h0M1126.7 27.1h0M1127.3 29.8h0M1127 32.6h0M1128.7 35.3h0M1128 38.1h0M1129.2 40.9h0M1129.5 43.6h0M1129.3 46.4h0M1130 49.1h0M1130.5 51.9h0M1130.8 54.6h0M1131.7 57.4h0M1131.8 60.2h0M1131.5 62.9h0M1132.7 65.7h0M1132.6 68.4h0M1133.3 71.2h0M1147 73.9h0M1150.3 76.7h0M1156.7 79.5h0M1160.6 82.2h0M1162.8 85h0M1167 87.7h0M1168 90.5h0M1169.2 93.2h0M1171.6 96h0M1173.4 98.8h0M1176.3 101.5h0M1178.3 104.3h0M1184.3 107h0M1186.9 109.8h0M1185.7 112.5h0M1188.7 115.3h0M1191.3 118.1h0M1192.3 120.8h0M1192.7 123.6h0M1197.8 126.3h0M1197.9 129.1h0M1202 131.8h0M1203.5 134.6h0M1206.5 137.4h0M1205.7 140.1h0M1210.6 142.9h0M1209.5 145.6h0M1214.6 148.4h0M1216.3 151.1h0M1217.7 153.9h0M1218.1 156.7h0M1223 159.4h0M1224.1 162.2h0M1223.5 164.9h0M1224.5 167.7h0M1228.6 170.4h0M1230.4 173.2h0M1234.2 176h0M1235.7 178.7h0M1237.9 181.5h0M1239.2 184.2h0M1242.9 187h0M1243.4 189.7h0M1244.6 192.5h0M1245.6 195.3h0M1250.7 198h0M1251.4 200.8h0M1253.3 203.5h0M1255.6 206.3h0M1257.8 209h0M1260.2 211.8h0M1260.9 214.6h0M1263.4 217.3h0M1265.6 220.1h0M1267.3 222.8h0M1269 225.6h0M1271.1 228.3h0M1271.4 231.1h0M1273 233.9h0M1275.1 236.6h0M1276.7 239.4h0M1277.5 242.1h0M1278.6 244.9h0M1279.5 247.6h0M1281.6 250.4h0M1282.9 253.2h0M1283.5 255.9h0M1284.7 258.7h0M1285.6 261.4h0M1287.3 264.2h0M1288.1 266.9h0M1289.7 269.7h0M1290.8 272.5h0M1291.5 275.2h0M1293.1 278h0M1294.3 280.7h0M1295.7 283.5h0M1296.2 286.2h0M1297.9 289h0M1299.7 291.8h0M1300.4 294.5h0M1300.9 297.3h0M1302.1 300h0M1303.8 302.8h0M1303.5 305.5h0M1304.3 308.3h0M1305.8 311.1h0M1306.1 313.8h0M1306.5 316.6h0M1307.4 319.3h0M1308.9 322.1h0M1309.5 324.8h0M1311.3 327.6h0M1311.2 330.4h0M1311.8 333.1h0M1312.9 335.9h0M1313.5 338.6h0M1315.3 341.4h0M1315.2 344.1h0M1317 346.9h0M1317.4 349.7h0M1318.8 352.4h0M1318.6 355.2h0M1319.8 357.9h0M1319.3 360.7h0M1320.8 363.4h0M1321.4 366.2h0M1323 368.9h0M1323.2 371.7h0M1324.4 374.5h0M1324.5 377.2h0M1325.2 380h0M1326.5 382.7h0M1328 385.5h0M1328.3 388.2h0M1329.9 391h0M1329.9 393.8h0M1330.8 396.5h0M1331.4 399.3h0M1332.1 402h0M1332.5 404.8h0M1333.2 407.5h0M1333.6 410.3h0M1334.1 413.1h0M1335.7 415.8h0M1336.1 418.6h0M1336.2 421.3h0M1336.8 424.1h0M1337.1 426.8h0M1338.7 429.6h0M1338.8 432.4h0M1340.6 435.1h0M1339.7 437.9h0M1341.3 440.6h0M1342.3 443.4h0M1342.2 446.1h0M1344 448.9h0M1344.3 451.7h0M1344.9 454.4h0M1344.8 457.2h0M1346.3 459.9h0M1347 462.7h0M1347.3 465.4h0M1348.7 468.2h0M1348.7 471h0M1348.3 473.7h0M1350.1 476.5h0M1351.3 479.2h0M1350.9 482h0M1352.1 484.7h0M1352.1 487.5h0M1352.9 490.3h0M1352.3 493h0M1353.3 495.8h0M1354.5 498.5h0M1355.1 501.3h0M1355.3 504h0M1357.2 506.8h0M1357.8 509.6h0M1358.1 512.3h0M1358.3 515.1h0M1360.3 517.8h0M1360.5 520.6h0M1361.7 523.3h0M1362.6 526.1h0M1362.6 528.9h0M1363.4 531.6h0M1364.5 534.4h0M1364.7 537.1h0M1364.6 539.9h0M1366.4 542.6h0M1366.9 545.4h0M1367.2 548.2h0M1368.4 550.9h0M1368.6 553.7h0M1369.3 556.4h0M1370.5 559.2h0M1370.2 561.9h0M1370.7 564.7h0M1372 567.5h0M1372.2 570.2h0M1373.8 573h0M1373.8 575.7h0M1374 578.5h0M1375.2 581.2h0M1375.1 584h0M1377.3 586.8h0M1377.4 589.5h0M1378.4 592.3h0M1379 595h0M1379.5 597.8h0M1379.6 600.5h0M1381.1 603.3h0M1381.2 606.1h0M1381.7 608.8h0M1381.8 611.6h0M1383.9 614.3h0M1383.9 617.1h0M1384.5 619.8h0M1384.5 622.6h0M1386.4 625.4h0M1386.6 628.1h0M1387.8 630.9h0M1388 633.6h0M1388.3 636.4h0M1389.6 639.1h0M1389.3 641.9h0M1390 644.7h0M1391.3 647.4h0M1392.3 650.2h0M1393.1 652.9h0M1393.3 655.7h0M1393.9 658.4h0M1394.7 661.2h0M1395.2 664h0M1395.8 666.7h0M1396.9 669.5h0M1397.1 672.2h0M1397.9 675h0M1399.2 677.7h0M1399.4 680.5h0M1399.7 683.3h0M1400.9 686h0M1401.2 688.8h0M1402.2 691.5h0M1402.3 694.3h0M1403 697h0M1403.3 699.8h0M1405.1 702.6h0M1405.9 705.3h0M1406.4 708.1h0M1406.8 710.8h0M1407.4 713.6h0M1407.8 716.3h0M1408.8 719.1h0M1409.2 721.9h0M1409.5 724.6h0M1411 727.4h0M1411.6 730.1h0M1412.1 732.9h0M1412.5 735.6h0M1413.1 738.4h0M1413.9 741.1h0M1414.7 743.9h0M1414.7 746.7h0M1415.7 749.4h0M1416.1 752.2h0M1417.7 754.9h0M1417.3 757.7h0M1418 760.4h0M1418.8 763.2h0M1419.9 766h0M1420.1 768.7h0M1421.9 771.5h0M1422.2 774.2h0M1421.5 777h0M1423.3 779.7h0M1424 782.5h0M1424 785.3h0M1425.1 788h0M1425.9 790.8h0M1426.2 793.5h0M1427.1 796.3h0M1428 799h0M1428.3 801.8h0M1429.1 804.6h0M1429.3 807.3h0M1430.8 810.1h0M1430.9 812.8h0M1432.3 815.6h0M1433.4 818.3h0M1433.9 821.1h0M1433.6 823.9h0M1434.6 826.6h0M1435 829.4h0M1436 832.1h0M1436.1 834.9h0M1124.7 22h0M1125.5 24.7h0M1125.6 27.5h0M1126.9 30.3h0M1127.1 33h0M1127.4 35.8h0M1127.6 38.5h0M1128 41.3h0M1129 44h0M1129 46.8h0M1129.4 49.6h0M1130.6 52.3h0M1130.3 55.1h0M1130.6 57.8h0M1131 60.6h0M1132.1 63.3h0M1131.8 66.1h0M1132.2 68.9h0M1134 71.6h0M1134.5 74.4h0M1149 77.1h0M1150.3 79.9h0M1155.9 82.6h0M1158.6 85.4h0M1161.7 88.2h0M1161.7 90.9h0M1165.5 93.7h0M1169.3 96.4h0M1170.7 99.2h0M1170.6 101.9h0M1177.6 104.7h0M1180.2 107.5h0M1182.9 110.2h0M1185.6 113h0M1187.1 115.7h0M1190.5 118.5h0M1191.1 121.2h0M1191.6 124h0M1194.7 126.8h0M1199.6 129.5h0M1201.3 132.3h0M1203 135h0M1203.3 137.8h0M1206.7 140.5h0M1209.4 143.3h0M1210.7 146.1h0M1213.8 148.8h0M1216.5 151.6h0M1218.6 154.3h0M1220.1 157.1h0M1222.3 159.8h0M1222.6 162.6h0M1225.8 165.4h0M1229.1 168.1h0M1232.2 170.9h0M1232.8 173.6h0M1236 176.4h0M1237.1 179.1h0M1238.3 181.9h0M1241.9 184.7h0M1244 187.4h0M1244.7 190.2h0M1246.8 192.9h0M1249.7 195.7h0M1251 198.4h0M1254 201.2h0M1254.8 204h0M1257.6 206.7h0M1258.9 209.5h0M1261.3 212.2h0M1262.3 215h0M1265 217.7h0M1266.4 220.5h0M1269 223.3h0M1268.9 226h0M1270.4 228.8h0M1273 231.5h0M1274.6 234.3h0M1274.8 237h0M1277.1 239.8h0M1278.6 242.6h0M1280.2 245.3h0M1281 248.1h0M1281.6 250.8h0M1282.8 253.6h0M1285.6 256.3h0M1286 259.1h0M1287.3 261.9h0M1287.8 264.6h0M1288.9 267.4h0M1289.9 270.1h0M1290.7 272.9h0M1292.1 275.6h0M1293 278.4h0M1294.5 281.2h0M1296.4 283.9h0M1297.2 286.7h0M1298.1 289.4h0M1300.4 292.2h0M1301.5 294.9h0M1301.8 297.7h0M1301.9 300.5h0M1304.1 303.2h0M1305 306h0M1305 308.7h0M1306.7 311.5h0M1306.6 314.2h0M1307.8 317h0M1308.5 319.8h0M1309.7 322.5h0M1310.4 325.3h0M1311.9 328h0M1312 330.8h0M1313.2 333.5h0M1313.9 336.3h0M1314.8 339.1h0M1315.1 341.8h0M1316.2 344.6h0M1317.6 347.3h0M1318.1 350.1h0M1318 352.8h0M1319.1 355.6h0M1319.6 358.4h0M1320.5 361.1h0M1321.3 363.9h0M1321.9 366.6h0M1323.3 369.4h0M1324.3 372.1h0M1324.7 374.9h0M1325.3 377.6h0M1326.4 380.4h0M1326.9 383.2h0M1328.5 385.9h0M1329.9 388.7h0M1328.7 391.4h0M1330.8 394.2h0M1331.6 396.9h0M1332.2 399.7h0M1332.6 402.5h0M1332.7 405.2h0M1333.9 408h0M1334.3 410.7h0M1335 413.5h0M1335.6 416.2h0M1336 419h0M1337.9 421.8h0M1337.1 424.5h0M1338.1 427.3h0M1338.4 430h0M1339.5 432.8h0M1340.9 435.5h0M1340.9 438.3h0M1341.3 441.1h0M1341.7 443.8h0M1343.2 446.6h0M1343.4 449.3h0M1344.6 452.1h0M1344.7 454.8h0M1345.5 457.6h0M1346.3 460.4h0M1346.3 463.1h0M1348.2 465.9h0M1347.9 468.6h0M1349.1 471.4h0M1349.9 474.1h0M1351.4 476.9h0M1351.3 479.7h0M1352 482.4h0M1352 485.2h0M1352.7 487.9h0M1353.4 490.7h0M1354.4 493.4h0M1354.1 496.2h0M1355.3 499h0M1357.1 501.7h0M1356.2 504.5h0M1356.6 507.2h0M1357.9 510h0M1358.9 512.7h0M1360.4 515.5h0M1360.7 518.3h0M1361.7 521h0M1361.6 523.8h0M1362.5 526.5h0M1363.3 529.3h0M1363.5 532h0M1364.7 534.8h0M1365.1 537.6h0M1366 540.3h0M1366 543.1h0M1366.4 545.8h0M1368.5 548.6h0M1368.6 551.3h0M1369.2 554.1h0M1371 556.9h0M1371 559.6h0M1371.4 562.4h0M1371.6 565.1h0M1372.7 567.9h0M1373.3 570.6h0M1373.7 573.4h0M1375.1 576.2h0M1375.5 578.9h0M1376.1 581.7h0M1376.1 584.4h0M1376.9 587.2h0M1378.3 589.9h0M1378.6 592.7h0M1378.9 595.5h0M1379.9 598.2h0M1380.5 601h0M1380.9 603.7h0M1381.7 606.5h0M1382.8 609.2h0M1383.2 612h0M1383.4 614.8h0M1384.1 617.5h0M1385.2 620.3h0M1385.3 623h0M1386.5 625.8h0M1387 628.5h0M1387.2 631.3h0M1387.4 634.1h0M1388.7 636.8h0M1389.7 639.6h0M1390.4 642.3h0M1391.5 645.1h0M1391.7 647.8h0M1392.3 650.6h0M1393.2 653.4h0M1393.5 656.1h0M1395 658.9h0M1394.7 661.6h0M1395.3 664.4h0M1396.1 667.1h0M1397.5 669.9h0M1397.4 672.7h0M1398 675.4h0M1399.2 678.2h0M1400.1 680.9h0M1400.1 683.7h0M1401.2 686.4h0M1401.3 689.2h0M1402.8 692h0M1402.4 694.7h0M1403.4 697.5h0M1404 700.2h0M1404.5 703h0M1405.5 705.7h0M1406.5 708.5h0M1406.5 711.3h0M1408.3 714h0M1408.3 716.8h0M1409 719.5h0M1409.2 722.3h0M1410.1 725h0M1411.2 727.8h0M1411 730.6h0M1411.8 733.3h0M1412.4 736.1h0M1412.9 738.8h0M1414.4 741.6h0M1414.4 744.3h0M1416.1 747.1h0M1415.6 749.8h0M1416.6 752.6h0M1417.4 755.4h0M1417.7 758.1h0M1417.8 760.9h0M1419.1 763.6h0M1420 766.4h0M1420.3 769.1h0M1421.5 771.9h0M1421.2 774.7h0M1422.8 777.4h0M1424.2 780.2h0M1424.4 782.9h0M1425.1 785.7h0M1425.2 788.4h0M1425.8 791.2h0M1427.1 794h0M1427.2 796.7h0M1428.3 799.5h0M1428.2 802.2h0M1429.5 805h0M1430 807.7h0M1429.7 810.5h0M1431.2 813.3h0M1432.2 816h0M1432.8 818.8h0M1433.4 821.5h0M1434.5 824.3h0M1434.6 827h0M1434.9 829.8h0M1436.3 832.6h0M1437.5 835.3h0M1124.3 22.4h0M1125.6 25.2h0M1125.3 27.9h0M1125.1 30.7h0M1125.8 33.4h0M1126.3 36.2h0M1127.6 39h0M1127.5 41.7h0M1127.7 44.5h0M1128.4 47.2h0M1129.4 50h0M1129.2 52.7h0M1129.3 55.5h0M1130.2 58.3h0M1130.1 61h0M1131.1 63.8h0M1131.8 66.5h0M1131.9 69.3h0M1131.8 72h0M1141.3 74.8h0M1143 77.6h0M1149 80.3h0M1152.2 83.1h0M1152 85.8h0M1152.5 88.6h0M1156.8 91.3h0M1159.1 94.1h0M1161.8 96.9h0M1166.8 99.6h0M1170.4 102.4h0M1174.2 105.1h0M1180.3 107.9h0M1183.5 110.6h0M1185.6 113.4h0M1189.8 116.2h0M1190.8 118.9h0M1194.5 121.7h0M1196.7 124.4h0M1200.6 127.2h0M1202.6 129.9h0M1204.9 132.7h0M1208.2 135.5h0M1210.8 138.2h0M1212.9 141h0M1216.1 143.7h0M1215.9 146.5h0M1219.5 149.2h0M1223 152h0M1223.1 154.8h0M1222.7 157.5h0M1228 160.3h0M1228.6 163h0M1231.4 165.8h0M1232.9 168.5h0M1235.2 171.3h0M1237.8 174.1h0M1238.6 176.8h0M1241.3 179.6h0M1241.1 182.3h0M1243.6 185.1h0M1246.4 187.8h0M1250.2 190.6h0M1249.6 193.4h0M1251.9 196.1h0M1254.8 198.9h0M1255.4 201.6h0M1257.2 204.4h0M1258.7 207.1h0M1261.7 209.9h0M1262.7 212.7h0M1265 215.4h0M1266.7 218.2h0M1267.7 220.9h0M1269.9 223.7h0M1270.4 226.4h0M1272.8 229.2h0M1273.9 232h0M1275.9 234.7h0M1277.2 237.5h0M1278.6 240.2h0M1280.1 243h0M1280.9 245.7h0M1281.9 248.5h0M1283.3 251.3h0M1285.6 254h0M1285.8 256.8h0M1287.2 259.5h0M1288.5 262.3h0M1289.4 265h0M1290.1 267.8h0M1290.6 270.6h0M1293 273.3h0M1293.5 276.1h0M1294.3 278.8h0M1295.9 281.6h0M1297.5 284.3h0M1297.9 287.1h0M1300 289.9h0M1301.2 292.6h0M1302.6 295.4h0M1303.3 298.1h0M1303.7 300.9h0M1304.3 303.6h0M1305.8 306.4h0M1306.5 309.2h0M1308.2 311.9h0M1308.3 314.7h0M1309.5 317.4h0M1310.2 320.2h0M1310.3 322.9h0M1312.2 325.7h0M1312.5 328.5h0M1313 331.2h0M1314.6 334h0M1315.8 336.7h0M1316 339.5h0M1316.7 342.2h0M1317.3 345h0M1318.2 347.8h0M1319.6 350.5h0M1319.9 353.3h0M1320.8 356h0M1321.7 358.8h0M1320.9 361.5h0M1323 364.3h0M1324 367.1h0M1324.6 369.8h0M1324.6 372.6h0M1325.7 375.3h0M1327.1 378.1h0M1327.9 380.8h0M1328.7 383.6h0M1328.9 386.3h0M1330.4 389.1h0M1331.7 391.9h0M1332 394.6h0M1333.4 397.4h0M1333.8 400.1h0M1334.4 402.9h0M1334.3 405.6h0M1334.9 408.4h0M1335.4 411.2h0M1336.8 413.9h0M1337.4 416.7h0M1337.1 419.4h0M1337.6 422.2h0M1338.9 424.9h0M1340.1 427.7h0M1340.3 430.5h0M1341.1 433.2h0M1341.7 436h0M1342.5 438.7h0M1342.8 441.5h0M1343.8 444.2h0M1344.5 447h0M1344.9 449.8h0M1346.3 452.5h0M1345.8 455.3h0M1346.7 458h0M1347.2 460.8h0M1348.7 463.5h0M1349.4 466.3h0M1349.3 469.1h0M1350.3 471.8h0M1350.7 474.6h0M1351 477.3h0M1351.9 480.1h0M1353 482.8h0M1353.6 485.6h0M1353.7 488.4h0M1354.5 491.1h0M1355.5 493.9h0M1356.3 496.6h0M1356.4 499.4h0M1356.7 502.1h0M1357.1 504.9h0M1358.6 507.7h0M1359.2 510.4h0M1359.9 513.2h0M1360.6 515.9h0M1361.4 518.7h0M1362.4 521.4h0M1363.3 524.2h0M1363.3 527h0M1365.1 529.7h0M1365.6 532.5h0M1365.6 535.2h0M1366.5 538h0M1367.7 540.7h0M1367.3 543.5h0M1368.1 546.3h0M1368.8 549h0M1369.2 551.8h0M1370.6 554.5h0M1370.9 557.3h0M1371.7 560h0M1372.3 562.8h0M1372.9 565.6h0M1374.2 568.3h0M1374.2 571.1h0M1374.6 573.8h0M1375 576.6h0M1376 579.3h0M1377 582.1h0M1377.6 584.9h0M1378.3 587.6h0M1378.7 590.4h0M1379.7 593.1h0M1380.4 595.9h0M1380.3 598.6h0M1381.7 601.4h0M1382.3 604.2h0M1382.7 606.9h0M1383.9 609.7h0M1384.2 612.4h0M1384.5 615.2h0M1385.8 617.9h0M1386.8 620.7h0M1386.3 623.5h0M1387.4 626.2h0M1388.4 629h0M1389 631.7h0M1389.8 634.5h0M1390.6 637.2h0M1390 640h0M1391.7 642.8h0M1391.3 645.5h0M1392.3 648.3h0M1392.9 651h0M1394.2 653.8h0M1394 656.5h0M1395.3 659.3h0M1395.3 662.1h0M1397.5 664.8h0M1397.1 667.6h0M1397.9 670.3h0M1398.1 673.1h0M1399 675.8h0M1400.5 678.6h0M1400.7 681.4h0M1400.7 684.1h0M1401.7 686.9h0M1402.5 689.6h0M1403.9 692.4h0M1403.8 695.1h0M1404.7 697.9h0M1405.6 700.7h0M1406.8 703.4h0M1406.8 706.2h0M1406.7 708.9h0M1407.4 711.7h0M1409.2 714.4h0M1409.3 717.2h0M1409 720h0M1410.2 722.7h0M1410.9 725.5h0M1411.6 728.2h0M1412.7 731h0M1413.3 733.7h0M1414.3 736.5h0M1413.6 739.3h0M1415.1 742h0M1415.6 744.8h0M1415.9 747.5h0M1417.4 750.3h0M1417.1 753h0M1417.7 755.8h0M1419.7 758.5h0M1419.8 761.3h0M1420.6 764.1h0M1421.5 766.8h0M1421.1 769.6h0M1422.8 772.3h0M1423 775.1h0M1423.8 777.8h0M1424.6 780.6h0M1425.2 783.4h0M1425.4 786.1h0M1426.2 788.9h0M1426.9 791.6h0M1428 794.4h0M1427.2 797.1h0M1429.4 799.9h0M1429.1 802.7h0M1431.1 805.4h0M1431 808.2h0M1432.2 810.9h0M1432 813.7h0M1433.5 816.4h0M1433.6 819.2h0M1434.3 822h0M1434.9 824.7h0M1434.3 827.5h0M1435.4 830.2h0M1436 833h0M1437.4 835.7h0M1123.8 22.8h0M1124.6 25.6h0M1124.9 28.4h0M1125.7 31.1h0M1125.3 33.9h0M1126.1 36.6h0M1126.2 39.4h0M1126.4 42.1h0M1126.5 44.9h0M1127.7 47.7h0M1127.7 50.4h0M1128.3 53.2h0M1128.6 55.9h0M1129 58.7h0M1131 61.4h0M1130.3 64.2h0M1130.1 67h0M1131.1 69.7h0M1131.6 72.5h0M1130.4 75.2h0M1144.3 78h0M1145.4 80.7h0M1149.2 83.5h0M1150.3 86.3h0M1152.1 89h0M1159.2 91.8h0M1159.2 94.5h0M1162.3 97.3h0M1167.5 100h0M1171.1 102.8h0M1177.4 105.6h0M1180.8 108.3h0M1183.2 111.1h0M1189.4 113.8h0M1190.2 116.6h0M1192 119.3h0M1197.6 122.1h0M1200.1 124.9h0M1201.2 127.6h0M1204.1 130.4h0M1207.6 133.1h0M1209.1 135.9h0M1212.4 138.6h0M1214.1 141.4h0M1214.5 144.2h0M1216.6 146.9h0M1219.5 149.7h0M1223.2 152.4h0M1222.9 155.2h0M1226 157.9h0M1226.5 160.7h0M1229.5 163.5h0M1230.4 166.2h0M1233.3 169h0M1233.8 171.7h0M1236 174.5h0M1240.8 177.2h0M1241.8 180h0M1241.4 182.8h0M1246 185.5h0M1246.6 188.3h0M1250.2 191h0M1249.3 193.8h0M1252.4 196.5h0M1253.9 199.3h0M1255.4 202.1h0M1257.5 204.8h0M1260.5 207.6h0M1261.4 210.3h0M1263 213.1h0M1264 215.8h0M1266.7 218.6h0M1268.2 221.4h0M1269.2 224.1h0M1270.2 226.9h0M1272.6 229.6h0M1273.9 232.4h0M1274.7 235.1h0M1277.6 237.9h0M1278.3 240.7h0M1278.9 243.4h0M1280.4 246.2h0M1282.4 248.9h0M1283.9 251.7h0M1285 254.4h0M1286 257.2h0M1286.7 260h0M1288.8 262.7h0M1288.8 265.5h0M1290.1 268.2h0M1291.2 271h0M1292 273.7h0M1293.6 276.5h0M1295.2 279.3h0M1294.8 282h0M1297 284.8h0M1298.8 287.5h0M1300.1 290.3h0M1300.6 293h0M1302.2 295.8h0M1302.9 298.6h0M1303.7 301.3h0M1304.3 304.1h0M1305.8 306.8h0M1306.8 309.6h0M1307.8 312.3h0M1308.1 315.1h0M1308.9 317.9h0M1310.2 320.6h0M1312 323.4h0M1311.4 326.1h0M1312.3 328.9h0M1314 331.6h0M1313.6 334.4h0M1313.8 337.2h0M1316.1 339.9h0M1317 342.7h0M1317.8 345.4h0M1318.4 348.2h0M1319.2 350.9h0M1319.2 353.7h0M1320.7 356.5h0M1320.6 359.2h0M1321.1 362h0M1322.5 364.7h0M1322.8 367.5h0M1323.7 370.2h0M1324.6 373h0M1325.5 375.8h0M1326.6 378.5h0M1326.9 381.3h0M1328 384h0M1329 386.8h0M1330 389.5h0M1331 392.3h0M1332 395h0M1332.6 397.8h0M1333.3 400.6h0M1333.9 403.3h0M1334.2 406.1h0M1334.9 408.8h0M1335 411.6h0M1336.1 414.3h0M1337 417.1h0M1336.9 419.9h0M1338.4 422.6h0M1338.3 425.4h0M1339.7 428.1h0M1340.6 430.9h0M1340.7 433.6h0M1341.1 436.4h0M1342.1 439.2h0M1342.4 441.9h0M1342.9 444.7h0M1344.4 447.4h0M1343.8 450.2h0M1345.7 452.9h0M1345.6 455.7h0M1347 458.5h0M1347.1 461.2h0M1348.8 464h0M1348.4 466.7h0M1348.4 469.5h0M1351.2 472.2h0M1350.7 475h0M1351.3 477.8h0M1352 480.5h0M1352.4 483.3h0M1353.2 486h0M1353.4 488.8h0M1355.2 491.5h0M1354.6 494.3h0M1355.7 497.1h0M1356.6 499.8h0M1356.7 502.6h0M1357.9 505.3h0M1358.1 508.1h0M1358.7 510.8h0M1359.5 513.6h0M1361.1 516.4h0M1361.9 519.1h0M1361.7 521.9h0M1363.2 524.6h0M1363.1 527.4h0M1364.2 530.1h0M1365.1 532.9h0M1364.6 535.7h0M1366.4 538.4h0M1366.7 541.2h0M1366.9 543.9h0M1368.4 546.7h0M1368.9 549.4h0M1369.6 552.2h0M1370 555h0M1370.5 557.7h0M1370.9 560.5h0M1372 563.2h0M1372.3 566h0M1373.2 568.7h0M1374.3 571.5h0M1375.1 574.3h0M1375.6 577h0M1376.2 579.8h0M1376.6 582.5h0M1377.8 585.3h0M1378.6 588h0M1378.5 590.8h0M1379.2 593.6h0M1379.6 596.3h0M1380.6 599.1h0M1381.2 601.8h0M1382.8 604.6h0M1383.3 607.3h0M1382.7 610.1h0M1384.3 612.9h0M1384.5 615.6h0M1384.6 618.4h0M1386.1 621.1h0M1386.3 623.9h0M1387.4 626.6h0M1388.2 629.4h0M1388.3 632.2h0M1389.9 634.9h0M1390 637.7h0M1390.3 640.4h0M1390.5 643.2h0M1392.9 645.9h0M1392.2 648.7h0M1393.3 651.5h0M1394 654.2h0M1394.9 657h0M1394.6 659.7h0M1394.8 662.5h0M1396.6 665.2h0M1396.5 668h0M1397.7 670.8h0M1399.4 673.5h0M1398.9 676.3h0M1400.1 679h0M1400 681.8h0M1402.4 684.5h0M1401.6 687.3h0M1402.6 690.1h0M1403.1 692.8h0M1403.5 695.6h0M1404.9 698.3h0M1405 701.1h0M1405.4 703.8h0M1406.2 706.6h0M1407 709.4h0M1407.8 712.1h0M1408.5 714.9h0M1408.7 717.6h0M1409.5 720.4h0M1411.3 723.1h0M1410.9 725.9h0M1412.3 728.7h0M1412.2 731.4h0M1413.2 734.2h0M1413.4 736.9h0M1413.5 739.7h0M1414.8 742.4h0M1416 745.2h0M1416.9 748h0M1417.4 750.7h0M1417.4 753.5h0M1418.1 756.2h0M1418.5 759h0M1419.7 761.7h0M1420.6 764.5h0M1421 767.2h0M1421.3 770h0M1422.4 772.8h0M1422.9 775.5h0M1423.8 778.3h0M1424.1 781h0M1425 783.8h0M1425.2 786.5h0M1425.8 789.3h0M1425.8 792.1h0M1427.6 794.8h0M1428.3 797.6h0M1428.4 800.3h0M1430.2 803.1h0M1430.7 805.8h0M1431.6 808.6h0M1431.4 811.4h0M1432 814.1h0M1433 816.9h0M1433.9 819.6h0M1434.8 822.4h0M1434.4 825.1h0M1435.4 827.9h0M1435.3 830.7h0M1436.7 833.4h0M1437.8 836.2h0M1123.5 23.3h0M1124.6 26h0M1124.3 28.8h0M1124.3 31.5h0M1124.6 34.3h0M1125.4 37.1h0M1126.5 39.8h0M1125.6 42.6h0M1126.2 45.3h0M1127.1 48.1h0M1127.3 50.8h0M1128.3 53.6h0M1128.1 56.4h0M1128.8 59.1h0M1129.2 61.9h0M1129.7 64.6h0M1130.6 67.4h0M1129.9 70.1h0M1129 72.9h0M1129.7 75.7h0M1131.4 78.4h0M1132.3 81.2h0M1133.2 83.9h0M1133.4 86.7h0M1133.6 89.4h0M1140.4 92.2h0M1146.3 95h0M1152.9 97.7h0M1155.6 100.5h0M1160 103.2h0M1163.6 106h0M1168.1 108.7h0M1170.1 111.5h0M1171.7 114.3h0M1176.6 117h0M1180.2 119.8h0M1184.6 122.5h0M1185.7 125.3h0M1188.8 128h0M1191.2 130.8h0M1193.8 133.6h0M1198.9 136.3h0M1196.1 139.1h0M1201.7 141.8h0M1202.4 144.6h0M1205.5 147.3h0M1206 150.1h0M1210 152.9h0M1210.9 155.6h0M1214.8 158.4h0M1218.2 161.1h0M1217.9 163.9h0M1220.1 166.6h0M1225.6 169.4h0M1229 172.2h0M1229.6 174.9h0M1230 177.7h0M1233.2 180.4h0M1238.5 183.2h0M1241.6 185.9h0M1241.8 188.7h0M1242.7 191.5h0M1247.6 194.2h0M1246.9 197h0M1249.7 199.7h0M1251.8 202.5h0M1254.3 205.2h0M1256.9 208h0M1258.3 210.8h0M1260.8 213.5h0M1263.1 216.3h0M1264.9 219h0M1266.9 221.8h0M1267.9 224.5h0M1268.9 227.3h0M1271.2 230.1h0M1272.8 232.8h0M1274.2 235.6h0M1275.3 238.3h0M1277 241.1h0M1277.7 243.8h0M1279.8 246.6h0M1281.6 249.4h0M1282.2 252.1h0M1283.5 254.9h0M1284.8 257.6h0M1285.8 260.4h0M1286.9 263.1h0M1287.8 265.9h0M1288.6 268.7h0M1290.5 271.4h0M1290.4 274.2h0M1292.6 276.9h0M1293 279.7h0M1294.8 282.4h0M1295.4 285.2h0M1296.4 288h0M1297.9 290.7h0M1299.2 293.5h0M1301.3 296.2h0M1301.3 299h0M1302.1 301.7h0M1302.9 304.5h0M1304.2 307.3h0M1305 310h0M1306.1 312.8h0M1306.5 315.5h0M1307.1 318.3h0M1308.5 321h0M1309.7 323.8h0M1310.6 326.6h0M1310.7 329.3h0M1311.8 332.1h0M1313 334.8h0M1313.4 337.6h0M1313.8 340.3h0M1315.3 343.1h0M1315.8 345.9h0M1316.9 348.6h0M1317.9 351.4h0M1318.1 354.1h0M1318.6 356.9h0M1319.5 359.6h0M1320.9 362.4h0M1321.4 365.2h0M1322.5 367.9h0M1322.8 370.7h0M1324 373.4h0M1324.3 376.2h0M1325 378.9h0M1326.2 381.7h0M1327 384.5h0M1327.8 387.2h0M1328.8 390h0M1330.1 392.7h0M1330.2 395.5h0M1330.6 398.2h0M1332.1 401h0M1333.3 403.7h0M1333.5 406.5h0M1333.1 409.3h0M1334.4 412h0M1335.3 414.8h0M1335.8 417.5h0M1336.8 420.3h0M1337.1 423h0M1336.2 425.8h0M1338.3 428.6h0M1338.4 431.3h0M1339 434.1h0M1339.4 436.8h0M1340.2 439.6h0M1341.3 442.3h0M1342.6 445.1h0M1343.3 447.9h0M1343.8 450.6h0M1344.7 453.4h0M1344.7 456.1h0M1345.2 458.9h0M1347 461.6h0M1347.1 464.4h0M1347.4 467.2h0M1348.6 469.9h0M1348.6 472.7h0M1350.3 475.4h0M1349.7 478.2h0M1350.7 480.9h0M1351.4 483.7h0M1352 486.5h0M1352.1 489.2h0M1353.6 492h0M1354.1 494.7h0M1354.4 497.5h0M1355.3 500.2h0M1355.6 503h0M1357 505.8h0M1357.1 508.5h0M1357.6 511.3h0M1358.8 514h0M1359.6 516.8h0M1360.6 519.5h0M1361.4 522.3h0M1362.5 525.1h0M1361.9 527.8h0M1362.5 530.6h0M1363.9 533.3h0M1365.1 536.1h0M1365.6 538.8h0M1365.8 541.6h0M1366.4 544.4h0M1367.1 547.1h0M1368.6 549.9h0M1368.4 552.6h0M1369.3 555.4h0M1369.3 558.1h0M1370.9 560.9h0M1371.1 563.7h0M1371.7 566.4h0M1372.4 569.2h0M1373.1 571.9h0M1375 574.7h0M1374.8 577.4h0M1375.4 580.2h0M1375.5 583h0M1375.9 585.7h0M1376.2 588.5h0M1377.6 591.2h0M1378.6 594h0M1379.2 596.7h0M1379.2 599.5h0M1380.7 602.3h0M1380.9 605h0M1382.3 607.8h0M1382.4 610.5h0M1383.1 613.3h0M1383.5 616h0M1384.2 618.8h0M1385.1 621.6h0M1386 624.3h0M1386.8 627.1h0M1386.8 629.8h0M1387.2 632.6h0M1388.6 635.3h0M1389.6 638.1h0M1389.6 640.9h0M1390.2 643.6h0M1390.9 646.4h0M1391.9 649.1h0M1392.8 651.9h0M1392.7 654.6h0M1393.9 657.4h0M1395 660.2h0M1395.3 662.9h0M1395.4 665.7h0M1395.8 668.4h0M1397.1 671.2h0M1398.3 673.9h0M1398.7 676.7h0M1399.7 679.5h0M1399.6 682.2h0M1400.4 685h0M1400.7 687.7h0M1402 690.5h0M1402.3 693.2h0M1402.7 696h0M1403.5 698.8h0M1404.6 701.5h0M1405.4 704.3h0M1406 707h0M1407.4 709.8h0M1407.4 712.5h0M1407.3 715.3h0M1408.8 718.1h0M1408.7 720.8h0M1409.2 723.6h0M1410.7 726.3h0M1410.8 729.1h0M1411.7 731.8h0M1412.1 734.6h0M1412.9 737.4h0M1412.9 740.1h0M1414.7 742.9h0M1415.5 745.6h0M1415.6 748.4h0M1416.9 751.1h0M1417.4 753.9h0M1418.2 756.7h0M1419 759.4h0M1418.5 762.2h0M1420 764.9h0M1420.3 767.7h0M1421.3 770.4h0M1421.5 773.2h0M1423.2 775.9h0M1423.7 778.7h0M1423.6 781.5h0M1424.5 784.2h0M1425.1 787h0M1425.7 789.7h0M1426.7 792.5h0M1426.6 795.2h0M1427 798h0M1428.8 800.8h0M1429.1 803.5h0M1429.4 806.3h0M1430 809h0M1430.3 811.8h0M1431.5 814.5h0M1431.5 817.3h0M1433 820.1h0M1433.7 822.8h0M1434 825.6h0M1435.4 828.3h0M1435.9 831.1h0M1436.3 833.8h0M1122.3 23.7h0M1122.7 26.5h0M1123.1 29.2h0M1123 32h0M1124.3 34.7h0M1125 37.5h0M1124.5 40.2h0M1125.7 43h0M1125.9 45.8h0M1126.5 48.5h0M1127.2 51.3h0M1127.7 54h0M1127.4 56.8h0M1128.5 59.5h0M1128.4 62.3h0M1127.9 65.1h0M1130.3 67.8h0M1129.9 70.6h0M1135.6 73.3h0M1140.6 76.1h0M1142.7 78.8h0M1144.7 81.6h0M1148.6 84.4h0M1152.3 87.1h0M1155.5 89.9h0M1157.2 92.6h0M1163.9 95.4h0M1166.8 98.1h0M1170.7 100.9h0M1175.9 103.7h0M1182.2 106.4h0M1182.6 109.2h0M1187.9 111.9h0M1188.5 114.7h0M1190.8 117.4h0M1194.6 120.2h0M1198.5 123h0M1200.4 125.7h0M1203 128.5h0M1206.6 131.2h0M1208.1 134h0M1209.3 136.7h0M1211.2 139.5h0M1214.1 142.3h0M1216.9 145h0M1218.2 147.8h0M1220.4 150.5h0M1222 153.3h0M1223.6 156h0M1225 158.8h0M1227.3 161.6h0M1231.9 164.3h0M1233 167.1h0M1235.2 169.8h0M1235.7 172.6h0M1237.4 175.3h0M1240.4 178.1h0M1241.1 180.9h0M1244.7 183.6h0M1245.5 186.4h0M1248.2 189.1h0M1248.5 191.9h0M1253.1 194.6h0M1253.1 197.4h0M1255.4 200.2h0M1255.7 202.9h0M1257.9 205.7h0M1260.3 208.4h0M1261 211.2h0M1264 213.9h0M1264.8 216.7h0M1267 219.5h0M1267.9 222.2h0M1269.7 225h0M1271.3 227.7h0M1273.2 230.5h0M1274 233.2h0M1276 236h0M1277.2 238.8h0M1278.8 241.5h0M1279.4 244.3h0M1281.1 247h0M1282.1 249.8h0M1283.6 252.5h0M1285.5 255.3h0M1286.6 258.1h0M1286.8 260.8h0M1288.1 263.6h0M1289.2 266.3h0M1289.9 269.1h0M1291.2 271.8h0M1292 274.6h0M1293.9 277.4h0M1294.5 280.1h0M1296.8 282.9h0M1296.6 285.6h0M1298.9 288.4h0M1300.1 291.1h0M1300.9 293.9h0M1301.5 296.7h0M1303.1 299.4h0M1303.4 302.2h0M1305.2 304.9h0M1305.7 307.7h0M1306.5 310.4h0M1307.4 313.2h0M1308.6 316h0M1309.1 318.7h0M1310.2 321.5h0M1311 324.2h0M1311.5 327h0M1313 329.7h0M1314.1 332.5h0M1314.8 335.3h0M1315.1 338h0M1316.1 340.8h0M1316.2 343.5h0M1317 346.3h0M1317.8 349h0M1318.7 351.8h0M1320.1 354.6h0M1320.1 357.3h0M1321 360.1h0M1321.4 362.8h0M1322.5 365.6h0M1322.8 368.3h0M1324.7 371.1h0M1325 373.9h0M1326.2 376.6h0M1327.3 379.4h0M1327.8 382.1h0M1328.6 384.9h0M1329.4 387.6h0M1330 390.4h0M1330.1 393.2h0M1332 395.9h0M1332.3 398.7h0M1332.8 401.4h0M1333.5 404.2h0M1334.3 406.9h0M1335.2 409.7h0M1335.1 412.4h0M1335.6 415.2h0M1337.1 418h0M1337.6 420.7h0M1338.4 423.5h0M1338.6 426.2h0M1338.8 429h0M1340.6 431.7h0M1341.2 434.5h0M1341.1 437.3h0M1342.2 440h0M1343.2 442.8h0M1344.5 445.5h0M1344.6 448.3h0M1345 451h0M1345.4 453.8h0M1345.9 456.6h0M1346.8 459.3h0M1347.2 462.1h0M1348.4 464.8h0M1348.9 467.6h0M1349.4 470.3h0M1349.7 473.1h0M1350.9 475.9h0M1351.4 478.6h0M1352.3 481.4h0M1352.3 484.1h0M1353.6 486.9h0M1353.8 489.6h0M1355.2 492.4h0M1354.7 495.2h0M1356.4 497.9h0M1357.5 500.7h0M1357 503.4h0M1358.7 506.2h0M1359.1 508.9h0M1358.8 511.7h0M1359.9 514.5h0M1361.3 517.2h0M1361.8 520h0M1362.7 522.7h0M1363.2 525.5h0M1364.3 528.2h0M1364.3 531h0M1364.6 533.8h0M1365.4 536.5h0M1366.4 539.3h0M1366.7 542h0M1367.7 544.8h0M1368.3 547.5h0M1368.9 550.3h0M1369.7 553.1h0M1370.2 555.8h0M1371.4 558.6h0M1371.7 561.3h0M1372.7 564.1h0M1372.4 566.8h0M1373.7 569.6h0M1374.1 572.4h0M1374.1 575.1h0M1376.5 577.9h0M1375.7 580.6h0M1377.3 583.4h0M1377.9 586.1h0M1378.8 588.9h0M1378.7 591.7h0M1378.5 594.4h0M1380.5 597.2h0M1380.9 599.9h0M1381.9 602.7h0M1382.2 605.4h0M1383.4 608.2h0M1383.8 611h0M1384.1 613.7h0M1385.9 616.5h0M1385.3 619.2h0M1385.3 622h0M1386.9 624.7h0M1387.7 627.5h0M1388.4 630.3h0M1388.6 633h0M1389.5 635.8h0M1389.8 638.5h0M1390.7 641.3h0M1391.8 644h0M1391.9 646.8h0M1393.1 649.6h0M1393.4 652.3h0M1394.2 655.1h0M1394.7 657.8h0M1395.9 660.6h0M1396.2 663.3h0M1396.4 666.1h0M1397.5 668.9h0M1398.6 671.6h0M1398.9 674.4h0M1399 677.1h0M1399.8 679.9h0M1400.3 682.6h0M1402 685.4h0M1402.1 688.2h0M1403.1 690.9h0M1403.7 693.7h0M1403.9 696.4h0M1405.2 699.2h0M1405.3 701.9h0M1406.1 704.7h0M1405.8 707.5h0M1407.3 710.2h0M1407.8 713h0M1408.3 715.7h0M1409.4 718.5h0M1409.4 721.2h0M1410.5 724h0M1410.2 726.8h0M1411.8 729.5h0M1412.3 732.3h0M1414 735h0M1414 737.8h0M1414.8 740.5h0M1414 743.3h0M1415.7 746.1h0M1416.1 748.8h0M1417.8 751.6h0M1418.3 754.3h0M1418.6 757.1h0M1419.3 759.8h0M1419.9 762.6h0M1420.5 765.4h0M1421.4 768.1h0M1422.1 770.9h0M1422.4 773.6h0M1422.8 776.4h0M1424.5 779.1h0M1424.3 781.9h0M1424.8 784.6h0M1426.8 787.4h0M1426.5 790.2h0M1427.1 792.9h0M1427.2 795.7h0M1428 798.4h0M1429.7 801.2h0M1429.6 803.9h0M1430.9 806.7h0M1430.6 809.5h0M1432.1 812.2h0M1432.5 815h0M1432.9 817.7h0M1433 820.5h0M1435 823.2h0M1435.1 826h0M1435.7 828.8h0M1436.8 831.5h0M1436.6 834.3h0" stroke="#00ffff" stroke-width="6.1" stroke-linecap="round" fill="none"/>
<path d="M1125.6 29.7 L1129.2 50.1 L1139 70.6 L1165.2 91 L1193.5 111.4 L1210.4 131.8 L1225.2 152.2 L1238.7 172.7 L1252.8 193.1 L1265.5 213.5 L1276.8 233.9 L1286.7 254.4 L1294.5 274.8 L1303.7 295.2 L1310 315.6 L1316.4 336 L1322.1 356.5 L1327.7 376.9 L1334.1 397.3 L1338.3 417.7 L1343.3 438.2 L1348.2 458.6 L1353.1 479 L1357.4 499.4 L1363 519.9 L1368 540.3 L1372.8 560.7 L1377.7 581.1 L1382.5 601.5 L1387.4 622 L1392.2 642.4 L1397.1 662.8 L1401.9 683.2 L1406.7 703.7 L1411.6 724.1 L1416.4 744.5 L1421.3 764.9 L1426.1 785.3 L1431 805.8 L1435.8 826.2" stroke="#0000ff" stroke-width="2.6" fill="none" stroke-linejoin="round"/>
<path d="M1125.6 29.7h0M1129.2 50.1h0M1139 70.6h0M1165.2 91h0M1193.5 111.4h0M1210.4 131.8h0M1225.2 152.2h0M1238.7 172.7h0M1252.8 193.1h0M1265.5 213.5h0M1276.8 233.9h0M1286.7 254.4h0M1294.5 274.8h0M1303.7 295.2h0M1310 315.6h0M1316.4 336h0M1322.1 356.5h0M1327.7 376.9h0M1334.1 397.3h0M1338.3 417.7h0M1343.3 438.2h0M1348.2 458.6h0M1353.1 479h0M1357.4 499.4h0M1363 519.9h0M1368 540.3h0M1372.8 560.7h0M1377.7 581.1h0M1382.5 601.5h0M1387.4 622h0M1392.2 642.4h0M1397.1 662.8h0M1401.9 683.2h0M1406.7 703.7h0M1411.6 724.1h0M1416.4 744.5h0M1421.3 764.9h0M1426.1 785.3h0M1431 805.8h0M1435.8 826.2h0" stroke="#0000ff" stroke-width="12" stroke-linecap="round" fill="none"/>
<path d="M1120.7 19.5 L1121.4 23.6 L1122.1 27.7 L1122.8 31.8 L1123.5 35.8 L1124.2 39.9 L1124.9 44 L1125.6 50.1 L1127 60.3 L1130.6 70.6 L1151.8 80.8 L1167.3 91 L1182.9 101.2 L1194.9 111.4 L1203.3 121.6 L1221.7 142 L1240.1 162.5 L1253.5 182.9 L1266.9 203.3 L1276.8 223.7 L1297.3 274.8 L1319.9 325.8 L1348.9 427.9 L1371.5 530.1 L1394.1 632.2 L1416 734.3 L1437.2 836.4" stroke="#ff0000" stroke-width="7.2" fill="none" stroke-linejoin="round"/>
<path d="M1120.7 19.5h0M1121.4 23.6h0M1122.1 27.7h0M1122.8 31.8h0M1123.5 35.8h0M1124.2 39.9h0M1124.9 44h0M1125.6 50.1h0M1127 60.3h0M1130.6 70.6h0M1151.8 80.8h0M1167.3 91h0M1182.9 101.2h0M1194.9 111.4h0M1203.3 121.6h0M1221.7 142h0M1240.1 162.5h0M1253.5 182.9h0M1266.9 203.3h0M1276.8 223.7h0M1297.3 274.8h0M1319.9 325.8h0M1348.9 427.9h0M1371.5 530.1h0M1394.1 632.2h0M1416 734.3h0M1437.2 836.4h0" stroke="#ff0000" stroke-width="12" stroke-linecap="round" fill="none"/>
<path d="M1111.5 20.5 L1111.8 22.6 L1112.2 24.9 L1112.6 27.3 L1113 29.9 L1113.5 32.7 L1114 35.7 L1114.5 39.1 L1115.1 42.8 L1115.8 47 L1116.6 51.8 L1117.5 57.3 L1118.6 63.6 L1121.4 71 L1141.9 79.6 L1179.3 89.8 L1200.5 101.9 L1211.8 116.2 L1222.4 133.4 L1234.4 153.9 L1251.4 178.5 L1271.2 208.1 L1291 243.6 L1306.5 286.4 L1323.5 337.8 L1339 399.6 L1355.3 473.8 L1372.2 562.8 L1395.5 669.2 L1425.2 796" stroke="#ff00ff" stroke-width="2.6" fill="none" stroke-linejoin="round"/>
<path d="M1111.5 20.5h0M1111.8 22.6h0M1112.2 24.9h0M1112.6 27.3h0M1113 29.9h0M1113.5 32.7h0M1114 35.7h0M1114.5 39.1h0M1115.1 42.8h0M1115.8 47h0M1116.6 51.8h0M1117.5 57.3h0M1118.6 63.6h0M1121.4 71h0M1141.9 79.6h0M1179.3 89.8h0M1200.5 101.9h0M1211.8 116.2h0M1222.4 133.4h0M1234.4 153.9h0M1251.4 178.5h0M1271.2 208.1h0M1291 243.6h0M1306.5 286.4h0M1323.5 337.8h0M1339 399.6h0M1355.3 473.8h0M1372.2 562.8h0M1395.5 669.2h0M1425.2 796h0" stroke="#ff00ff" stroke-width="12" stroke-linecap="round" fill="none"/>
</g>
<rect x="88.5" y="19.5" width="396.0" height="816.9" fill="none" stroke="#000" stroke-width="1.39" stroke-linejoin="miter"/>
<path d="M96.5 836.4v6.1M159.5 836.4v6.1M222.5 836.4v6.1M285.5 836.4v6.1M348.5 836.4v6.1M411.5 836.4v6.1M474.5 836.4v6.1M88.5 19.5h-6.1M88.5 70.5h-6.1M88.5 121.5h-6.1M88.5 172.5h-6.1M88.5 223.5h-6.1M88.5 274.5h-6.1M88.5 325.5h-6.1M88.5 376.5h-6.1M88.5 427.5h-6.1M88.5 479.5h-6.1M88.5 530.5h-6.1M88.5 581.5h-6.1M88.5 632.5h-6.1M88.5 683.5h-6.1M88.5 734.5h-6.1M88.5 785.5h-6.1" stroke="#000" stroke-width="1.39" fill="none"/>
<text x="96.5" y="863" font-size="17.36" text-anchor="middle">6</text>
<text x="159.4" y="863" font-size="17.36" text-anchor="middle">8</text>
<text x="222.4" y="863" font-size="17.36" text-anchor="middle">10</text>
<text x="285.3" y="863" font-size="17.36" text-anchor="middle">12</text>
<text x="348.3" y="863" font-size="17.36" text-anchor="middle">14</text>
<text x="411.2" y="863" font-size="17.36" text-anchor="middle">16</text>
<text x="474.1" y="863" font-size="17.36" text-anchor="middle">18</text>
<text x="76.3" y="26.7" font-size="17.36" text-anchor="end">0</text>
<text x="76.3" y="77.8" font-size="17.36" text-anchor="end">25</text>
<text x="76.3" y="128.8" font-size="17.36" text-anchor="end">50</text>
<text x="76.3" y="179.9" font-size="17.36" text-anchor="end">75</text>
<text x="76.3" y="230.9" font-size="17.36" text-anchor="end">100</text>
<text x="76.3" y="282" font-size="17.36" text-anchor="end">125</text>
<text x="76.3" y="333" font-size="17.36" text-anchor="end">150</text>
<text x="76.3" y="384.1" font-size="17.36" text-anchor="end">175</text>
<text x="76.3" y="435.1" font-size="17.36" text-anchor="end">200</text>
<text x="76.3" y="486.2" font-size="17.36" text-anchor="end">225</text>
<text x="76.3" y="537.3" font-size="17.36" text-anchor="end">250</text>
<text x="76.3" y="588.3" font-size="17.36" text-anchor="end">275</text>
<text x="76.3" y="639.4" font-size="17.36" text-anchor="end">300</text>
<text x="76.3" y="690.4" font-size="17.36" text-anchor="end">325</text>
<text x="76.3" y="741.5" font-size="17.36" text-anchor="end">350</text>
<text x="76.3" y="792.5" font-size="17.36" text-anchor="end">375</text>
<rect x="582.5" y="19.5" width="396.0" height="816.9" fill="none" stroke="#000" stroke-width="1.39" stroke-linejoin="miter"/>
<path d="M589.5 836.4v6.1M646.5 836.4v6.1M703.5 836.4v6.1M760.5 836.4v6.1M817.5 836.4v6.1M874.5 836.4v6.1M931.5 836.4v6.1M582.5 19.5h-6.1M582.5 70.5h-6.1M582.5 121.5h-6.1M582.5 172.5h-6.1M582.5 223.5h-6.1M582.5 274.5h-6.1M582.5 325.5h-6.1M582.5 376.5h-6.1M582.5 427.5h-6.1M582.5 479.5h-6.1M582.5 530.5h-6.1M582.5 581.5h-6.1M582.5 632.5h-6.1M582.5 683.5h-6.1M582.5 734.5h-6.1M582.5 785.5h-6.1" stroke="#000" stroke-width="1.39" fill="none"/>
<text x="589.4" y="863" font-size="17.36" text-anchor="middle">32.75</text>
<text x="646.4" y="863" font-size="17.36" text-anchor="middle">33.00</text>
<text x="703.4" y="863" font-size="17.36" text-anchor="middle">33.25</text>
<text x="760.5" y="863" font-size="17.36" text-anchor="middle">33.50</text>
<text x="817.5" y="863" font-size="17.36" text-anchor="middle">33.75</text>
<text x="874.5" y="863" font-size="17.36" text-anchor="middle">34.00</text>
<text x="931.5" y="863" font-size="17.36" text-anchor="middle">34.25</text>
<rect x="1076.5" y="19.5" width="396.0" height="816.9" fill="none" stroke="#000" stroke-width="1.39" stroke-linejoin="miter"/>
<path d="M1102.5 836.4v6.1M1172.5 836.4v6.1M1243.5 836.4v6.1M1314.5 836.4v6.1M1384.5 836.4v6.1M1455.5 836.4v6.1M1076.5 19.5h-6.1M1076.5 70.5h-6.1M1076.5 121.5h-6.1M1076.5 172.5h-6.1M1076.5 223.5h-6.1M1076.5 274.5h-6.1M1076.5 325.5h-6.1M1076.5 376.5h-6.1M1076.5 427.5h-6.1M1076.5 479.5h-6.1M1076.5 530.5h-6.1M1076.5 581.5h-6.1M1076.5 632.5h-6.1M1076.5 683.5h-6.1M1076.5 734.5h-6.1M1076.5 785.5h-6.1" stroke="#000" stroke-width="1.39" fill="none"/>
<text x="1102.3" y="863" font-size="17.36" text-anchor="middle">1024</text>
<text x="1173" y="863" font-size="17.36" text-anchor="middle">1025</text>
<text x="1243.6" y="863" font-size="17.36" text-anchor="middle">1026</text>
<text x="1314.3" y="863" font-size="17.36" text-anchor="middle">1027</text>
<text x="1384.9" y="863" font-size="17.36" text-anchor="middle">1028</text>
<text x="1455.6" y="863" font-size="17.36" text-anchor="middle">1029</text>
<text x="176.4" y="892.8" font-size="22.57" font-weight="bold" letter-spacing="0.18">Temperature (</text>
<text x="359.2" y="884.4" font-size="15.80" font-style="italic">o</text>
<text x="369.6" y="892.8" font-size="22.57" font-style="italic">C</text>
<text x="386.0" y="892.8" font-size="22.57" font-weight="bold">)</text>
<text x="780.5" y="891.7" font-size="22.57" font-weight="bold" text-anchor="middle">Salinity</text>
<text x="1274.5" y="891.7" font-size="22.57" font-weight="bold" text-anchor="middle">Density (kg m-3)</text>
<text transform="translate(29.8 429.2) rotate(-90)" font-size="22.8" font-weight="bold" text-anchor="middle">Depth (m)</text>
<text x="475.5" y="917.7" font-size="17.36" font-style="italic">Ocean Heat Content (kJ/cm^2) - Glider: N/A,&#160; RTOFS: N/A,&#160; CMEMS: N/A,</text>
<text x="1530.3" y="36.7" font-size="22.57" font-weight="bold">Comparison Date: 2024-09-15</text>
<text x="1530.3" y="89.4" font-size="22.57" font-weight="bold">Glider: sp055</text>
<text x="1530.3" y="115.8" font-size="22.57" font-weight="bold">Profiles: 7</text>
<text x="1530.3" y="142.1" font-size="22.57" font-weight="bold">First: 2024-09-15 00:47:00</text>
<text x="1530.3" y="168.4" font-size="22.57" font-weight="bold">Last: 2024-09-15 18:06:00</text>
<text x="1530.3" y="194.8" font-size="22.57" font-weight="bold">Method: Nearest-Neighbor</text>
<rect x="1686" y="689" width="164.2" height="110" rx="3.5" fill="#fff" fill-opacity="0.8" stroke="#cccccc" stroke-width="1.4"/>
<path d="M1693.9 709.2H1742" stroke="#0000ff" stroke-width="2.6"/>
<circle cx="1717.3" cy="709.2" r="5.9" fill="#0000ff"/>
<text x="1758" y="717.4" font-size="22.57">sp055</text>
<path d="M1693.9 743.3H1742" stroke="#ff0000" stroke-width="2.6"/>
<circle cx="1717.3" cy="743.3" r="5.9" fill="#ff0000"/>
<text x="1758" y="751.5" font-size="22.57">RTOFS</text>
<path d="M1693.9 777.4H1742" stroke="#ff00ff" stroke-width="2.6"/>
<circle cx="1717.3" cy="777.4" r="5.9" fill="#ff00ff"/>
<text x="1758" y="785.6" font-size="22.57">CMEMS</text>
<defs><clipPath id="cm"><rect x="1576.4" y="244.3" width="383.89999999999986" height="365.7"/></clipPath></defs>
<g clip-path="url(#cm)">
<rect x="1576.4" y="244.3" width="383.89999999999986" height="365.7" fill="#6495ed"/>
<rect x="1576.4" y="244.3" width="110" height="10.7" fill="#98b7e1"/>
<path d="M1681.2 244.3 L1687.1 248.6 L1690.8 252.8 L1692.4 258.7 L1693.5 263 L1696.7 268.9 L1698.9 273.2 L1702.1 279.6 L1704.2 285 L1706.9 290.3 L1709.6 296.7 L1711.2 302.1 L1713.9 306.4 L1719.2 309.6 L1724.6 313.9 L1729.9 319.2 L1733.1 323.5 L1734 328.8 L1733.1 332.5 L1729.9 334.2 L1724.6 334.5 L1720.5 333.8 L1724.3 337.1 L1727.5 340.3 L1730.7 343 L1735 345.7 L1740.3 350 L1745 348.5 L1746.7 351 L1752.1 355.3 L1757.4 359.1 L1760.6 365 L1760.6 371.4 L1758.5 377.8 L1760.6 381 L1764.9 384.2 L1771.3 388.5 L1777.8 393.9 L1783.1 397.1 L1786.3 403.5 L1788.5 406.2" stroke="#98b7e1" stroke-width="26" fill="none" stroke-linejoin="round" stroke-linecap="round"/>
<path d="M1788.5 406.2 L1792.7 404.6 L1796 399.2 L1791.7 394.9 L1789.5 388.5 L1784.2 384.2 L1781 379.9 L1778.8 374.6 L1775.6 368.2 L1772.4 362.8 L1769.2 356.4 L1764.9 351 L1760.6 344.6 L1756.4 338.2 L1752.1 332.8 L1751.3 328.8 L1749.2 323.5 L1746 319.2 L1741.7 313.9 L1738.5 309.6 L1733.1 306.4 L1728.8 302.1 L1726.7 296.7 L1725.6 290.3 L1724.6 282.8 L1723.5 275.3 L1722.4 272.1" stroke="#98b7e1" stroke-width="12" fill="none" stroke-linejoin="round" stroke-linecap="round"/>
<path d="M1722.4 272.1 L1725.6 273.2 L1734.2 276.9 L1738.5 278 L1742.7 281.7 L1747 282.8 L1748.1 289.2 L1750.2 295.7 L1753.5 302.1 L1756.7 309.6 L1757.7 314.9 L1759.9 319.2 L1764.2 323.5 L1769.2 326.4 L1775.6 331.8 L1781 333.9 L1782 341.4 L1789.5 345.7 L1794.9 351 L1799.2 356.4 L1796 359.6 L1796 365 L1803.5 369.2 L1811 373.5 L1815.2 378.9 L1820.5 384.2 L1827.5 389.6 L1835.5 399.3 L1843.5 408.9 L1846.8 418.6 L1850.8 425 L1850 431.4 L1847.6 436.2 L1850.8 438.6 L1845.2 441.1" stroke="#98b7e1" stroke-width="24" fill="none" stroke-linejoin="round" stroke-linecap="round"/>
<path d="M1845.2 441.1 L1847.6 447.5 L1856.4 457.1 L1866 463.5 L1874.1 470.8 L1883.7 474 L1893.4 475.6 L1901.4 481.2 L1911 486.8 L1922.3 491.7 L1935.1 494.9 L1941.6 498.9 L1949.6 502.9 L1960.4 504.5" stroke="#98b7e1" stroke-width="10" fill="none" stroke-linejoin="round" stroke-linecap="round"/>
<path d="M1681.2 244.3 L1687.1 248.6 L1690.8 252.8 L1692.4 258.7 L1693.5 263 L1696.7 268.9 L1698.9 273.2 L1702.1 279.6 L1704.2 285 L1706.9 290.3 L1709.6 296.7 L1711.2 302.1 L1713.9 306.4 L1719.2 309.6 L1724.6 313.9 L1729.9 319.2 L1733.1 323.5 L1734 328.8 L1733.1 332.5 L1729.9 334.2 L1724.6 334.5 L1720.5 333.8 L1724.3 337.1 L1727.5 340.3 L1730.7 343 L1735 345.7 L1740.3 350 L1745 348.5 L1746.7 351 L1752.1 355.3 L1757.4 359.1 L1760.6 365 L1760.6 371.4 L1758.5 377.8 L1760.6 381 L1764.9 384.2 L1771.3 388.5 L1777.8 393.9 L1783.1 397.1 L1786.3 403.5 L1788.5 406.2" stroke="#b0c4de" stroke-width="12" fill="none" stroke-linejoin="round" stroke-linecap="round"/>
<path d="M1788.5 406.2 L1792.7 404.6 L1796 399.2 L1791.7 394.9 L1789.5 388.5 L1784.2 384.2 L1781 379.9 L1778.8 374.6 L1775.6 368.2 L1772.4 362.8 L1769.2 356.4 L1764.9 351 L1760.6 344.6 L1756.4 338.2 L1752.1 332.8 L1751.3 328.8 L1749.2 323.5 L1746 319.2 L1741.7 313.9 L1738.5 309.6 L1733.1 306.4 L1728.8 302.1 L1726.7 296.7 L1725.6 290.3 L1724.6 282.8 L1723.5 275.3 L1722.4 272.1" stroke="#b0c4de" stroke-width="6" fill="none" stroke-linejoin="round" stroke-linecap="round"/>
<path d="M1722.4 272.1 L1725.6 273.2 L1734.2 276.9 L1738.5 278 L1742.7 281.7 L1747 282.8 L1748.1 289.2 L1750.2 295.7 L1753.5 302.1 L1756.7 309.6 L1757.7 314.9 L1759.9 319.2 L1764.2 323.5 L1769.2 326.4 L1775.6 331.8 L1781 333.9 L1782 341.4 L1789.5 345.7 L1794.9 351 L1799.2 356.4 L1796 359.6 L1796 365 L1803.5 369.2 L1811 373.5 L1815.2 378.9 L1820.5 384.2 L1827.5 389.6 L1835.5 399.3 L1843.5 408.9 L1846.8 418.6 L1850.8 425 L1850 431.4 L1847.6 436.2 L1850.8 438.6 L1845.2 441.1" stroke="#b0c4de" stroke-width="10" fill="none" stroke-linejoin="round" stroke-linecap="round"/>
<path d="M1845.2 441.1 L1847.6 447.5 L1856.4 457.1 L1866 463.5 L1874.1 470.8 L1883.7 474 L1893.4 475.6 L1901.4 481.2 L1911 486.8 L1922.3 491.7 L1935.1 494.9 L1941.6 498.9 L1949.6 502.9 L1960.4 504.5" stroke="#b0c4de" stroke-width="5" fill="none" stroke-linejoin="round" stroke-linecap="round"/>
<path d="M1650 255 L1681 244 L1692 262 L1698 280 L1690 272 L1670 262Z" fill="#98b7e1"/>
<path d="M1652.9 263.4h3.9v1.7h-3.9zM1675.3 259.7h3.7v1.1h-3.7zM1670.3 276.8h2.8v1.7h-2.8zM1690.1 297.9h2.4v1.8h-2.4zM1687.7 266.1h1.5v2.2h-1.5zM1665.0 267.1h4.2v1.7h-4.2zM1674.9 289.1h1.6v1.8h-1.6zM1669.3 256.4h3.5v2.1h-3.5zM1689.2 262.5h4.0v1.8h-4.0zM1686.9 291.4h2.8v1.9h-2.8zM1675.3 259.0h3.6v1.4h-3.6zM1680.0 271.2h3.3v1.2h-3.3zM1690.9 279.2h4.3v1.2h-4.3zM1682.6 298.6h3.9v1.9h-3.9zM1652.8 261.3h2.1v2.0h-2.1zM1655.2 266.2h3.0v2.0h-3.0zM1686.8 269.7h3.3v1.8h-3.3zM1686.1 277.1h3.2v1.2h-3.2zM1676.2 258.0h2.9v1.6h-2.9zM1692.1 270.9h1.6v1.6h-1.6zM1670.2 270.3h4.2v1.5h-4.2zM1667.9 268.7h2.9v1.1h-2.9zM1679.2 296.2h3.2v1.9h-3.2zM1702.0 292.4h3.7v2.0h-3.7zM1675.5 268.5h2.3v1.7h-2.3zM1666.1 281.7h3.2v1.1h-3.2zM1673.2 270.7h3.6v1.1h-3.6zM1671.1 283.9h2.5v1.2h-2.5zM1656.4 265.4h2.5v1.3h-2.5zM1686.1 294.5h4.5v1.2h-4.5zM1678.6 294.3h1.7v1.7h-1.7zM1648.5 255.1h2.7v2.0h-2.7zM1671.1 264.7h3.6v1.4h-3.6zM1676.2 289.6h3.0v1.2h-3.0zM1680.2 298.3h1.5v1.4h-1.5zM1691.8 284.9h3.2v1.8h-3.2zM1698.0 284.8h3.1v1.7h-3.1zM1686.0 267.5h3.5v1.7h-3.5zM1692.8 275.1h1.6v1.6h-1.6zM1696.9 282.7h3.4v1.5h-3.4zM1697.9 298.2h1.9v1.1h-1.9zM1663.4 270.3h3.5v1.2h-3.5zM1675.8 283.7h3.7v1.0h-3.7z" fill="#98b7e1"/>
<path d="M1619.0 295.0h2v1.5h-2zM1655.0 299.0h2v1.5h-2zM1612.0 359.0h2v1.5h-2zM1625.0 380.0h2v1.5h-2zM1661.0 361.0h2v1.5h-2zM1700.0 377.0h2v1.5h-2zM1592.0 404.0h2v1.5h-2zM1634.0 432.0h2v1.5h-2zM1660.0 434.0h2v1.5h-2zM1671.0 427.0h2v1.5h-2zM1601.0 458.0h2v1.5h-2zM1628.0 470.0h2v1.5h-2zM1648.0 480.0h2v1.5h-2zM1700.0 515.0h2v1.5h-2zM1605.0 540.0h2v1.5h-2zM1645.0 560.0h2v1.5h-2zM1690.0 581.0h2v1.5h-2zM1718.0 560.0h2v1.5h-2zM1770.0 560.0h2v1.5h-2zM1820.0 570.0h2v1.5h-2zM1640.0 386.0h2v1.5h-2zM1710.0 380.0h2v1.5h-2z" fill="#98b7e1"/>
<path d="M1712 306 L1734 318 L1738 334 L1726 342 L1713 336 L1706 320Z" fill="#b0c4de"/>
<path d="M1722 272 L1748 283 L1760 322 L1775 333 L1768 345 L1752 335 L1740 312 L1726 300Z" fill="#98b7e1"/>
<path d="M1722 272 L1740 279 L1746 290 L1744 300 L1736 300 L1727 292Z" fill="#b0c4de"/>
<path d="M1960.4 442.2 L1955.4 430.2 L1952 423.4 L1949.4 416.5 L1948.5 409.6 L1949.4 395.9 L1948.5 385.7 L1949.4 375.4 L1952 368.5 L1957.1 362.5 L1956.2 358.2 L1953.7 349.7 L1952 342 L1955.4 334.3 L1958.8 328.3 L1960.4 327.4 L1975 327.4 L1975 442.2Z" fill="#b0c4de"/>
<path d="M1960.4 360 L1956 380 L1955 410 L1960.4 430Z" fill="#98b7e1"/>
<path d="M1681.2 244.3 L1687.1 248.6 L1690.8 252.8 L1692.4 258.7 L1693.5 263 L1696.7 268.9 L1698.9 273.2 L1702.1 279.6 L1704.2 285 L1706.9 290.3 L1709.6 296.7 L1711.2 302.1 L1713.9 306.4 L1719.2 309.6 L1724.6 313.9 L1729.9 319.2 L1733.1 323.5 L1734 328.8 L1733.1 332.5 L1729.9 334.2 L1724.6 334.5 L1720.5 333.8 L1724.3 337.1 L1727.5 340.3 L1730.7 343 L1735 345.7 L1740.3 350 L1745 348.5 L1746.7 351 L1752.1 355.3 L1757.4 359.1 L1760.6 365 L1760.6 371.4 L1758.5 377.8 L1760.6 381 L1764.9 384.2 L1771.3 388.5 L1777.8 393.9 L1783.1 397.1 L1786.3 403.5 L1788.5 406.2 L1792.7 404.6 L1796 399.2 L1791.7 394.9 L1789.5 388.5 L1784.2 384.2 L1781 379.9 L1778.8 374.6 L1775.6 368.2 L1772.4 362.8 L1769.2 356.4 L1764.9 351 L1760.6 344.6 L1756.4 338.2 L1752.1 332.8 L1751.3 328.8 L1749.2 323.5 L1746 319.2 L1741.7 313.9 L1738.5 309.6 L1733.1 306.4 L1728.8 302.1 L1726.7 296.7 L1725.6 290.3 L1724.6 282.8 L1723.5 275.3 L1722.4 272.1 L1725.6 273.2 L1734.2 276.9 L1738.5 278 L1742.7 281.7 L1747 282.8 L1748.1 289.2 L1750.2 295.7 L1753.5 302.1 L1756.7 309.6 L1757.7 314.9 L1759.9 319.2 L1764.2 323.5 L1769.2 326.4 L1775.6 331.8 L1781 333.9 L1782 341.4 L1789.5 345.7 L1794.9 351 L1799.2 356.4 L1796 359.6 L1796 365 L1803.5 369.2 L1811 373.5 L1815.2 378.9 L1820.5 384.2 L1827.5 389.6 L1835.5 399.3 L1843.5 408.9 L1846.8 418.6 L1850.8 425 L1850 431.4 L1847.6 436.2 L1850.8 438.6 L1845.2 441.1 L1847.6 447.5 L1856.4 457.1 L1866 463.5 L1874.1 470.8 L1883.7 474 L1893.4 475.6 L1901.4 481.2 L1911 486.8 L1922.3 491.7 L1935.1 494.9 L1941.6 498.9 L1949.6 502.9 L1960.4 504.5 L1960.4 442.2 L1955.4 430.2 L1952 423.4 L1949.4 416.5 L1948.5 409.6 L1949.4 395.9 L1948.5 385.7 L1949.4 375.4 L1952 368.5 L1957.1 362.5 L1956.2 358.2 L1953.7 349.7 L1952 342 L1955.4 334.3 L1958.8 328.3 L1960.4 327.4 L1960.4 244.3Z" fill="#d2b48c"/>
<path d="M1681.2 244.3 L1687.1 248.6 L1690.8 252.8 L1692.4 258.7 L1693.5 263 L1696.7 268.9 L1698.9 273.2 L1702.1 279.6 L1704.2 285 L1706.9 290.3 L1709.6 296.7 L1711.2 302.1 L1713.9 306.4 L1719.2 309.6 L1724.6 313.9 L1729.9 319.2 L1733.1 323.5 L1734 328.8 L1733.1 332.5 L1729.9 334.2 L1724.6 334.5 L1720.5 333.8 L1724.3 337.1 L1727.5 340.3 L1730.7 343 L1735 345.7 L1740.3 350 L1745 348.5 L1746.7 351 L1752.1 355.3 L1757.4 359.1 L1760.6 365 L1760.6 371.4 L1758.5 377.8 L1760.6 381 L1764.9 384.2 L1771.3 388.5 L1777.8 393.9 L1783.1 397.1 L1786.3 403.5 L1788.5 406.2 L1792.7 404.6 L1796 399.2 L1791.7 394.9 L1789.5 388.5 L1784.2 384.2 L1781 379.9 L1778.8 374.6 L1775.6 368.2 L1772.4 362.8 L1769.2 356.4 L1764.9 351 L1760.6 344.6 L1756.4 338.2 L1752.1 332.8 L1751.3 328.8 L1749.2 323.5 L1746 319.2 L1741.7 313.9 L1738.5 309.6 L1733.1 306.4 L1728.8 302.1 L1726.7 296.7 L1725.6 290.3 L1724.6 282.8 L1723.5 275.3 L1722.4 272.1 L1725.6 273.2 L1734.2 276.9 L1738.5 278 L1742.7 281.7 L1747 282.8 L1748.1 289.2 L1750.2 295.7 L1753.5 302.1 L1756.7 309.6 L1757.7 314.9 L1759.9 319.2 L1764.2 323.5 L1769.2 326.4 L1775.6 331.8 L1781 333.9 L1782 341.4 L1789.5 345.7 L1794.9 351 L1799.2 356.4 L1796 359.6 L1796 365 L1803.5 369.2 L1811 373.5 L1815.2 378.9 L1820.5 384.2 L1827.5 389.6 L1835.5 399.3 L1843.5 408.9 L1846.8 418.6 L1850.8 425 L1850 431.4 L1847.6 436.2 L1850.8 438.6 L1845.2 441.1 L1847.6 447.5 L1856.4 457.1 L1866 463.5 L1874.1 470.8 L1883.7 474 L1893.4 475.6 L1901.4 481.2 L1911 486.8 L1922.3 491.7 L1935.1 494.9 L1941.6 498.9 L1949.6 502.9 L1960.4 504.5" stroke="#000" stroke-width="2.5" fill="none" stroke-linejoin="round"/>
<path d="M1960.4 442.2 L1955.4 430.2 L1952 423.4 L1949.4 416.5 L1948.5 409.6 L1949.4 395.9 L1948.5 385.7 L1949.4 375.4 L1952 368.5 L1957.1 362.5 L1956.2 358.2 L1953.7 349.7 L1952 342 L1955.4 334.3 L1958.8 328.3 L1960.4 327.4" stroke="#000" stroke-width="2.5" fill="none" stroke-linejoin="round"/>
<path d="M1950.3 369 L1953.2 368.5 L1952.6 380 L1951.5 395 L1950.5 412 L1948.6 413 L1948.3 395 L1949.2 380Z" fill="#3c4a5e" stroke="#000" stroke-width="1.2"/>
<path d="M1958.8 328.5 L1960.4 328 L1960.4 333 L1957 345 L1955.8 356 L1957.4 362 L1954.5 360 L1952.6 350 L1949.8 343 L1951.5 338 L1950.5 333 L1953.5 334 L1955.2 330Z" fill="#000"/>
<path d="M1722.4 272.1 L1719.5 268 L1724.6 261.4 L1727.2 259.8" stroke="#98b7e1" stroke-width="1.8" fill="none" stroke-linejoin="round"/>
<path d="M1727.2 259.8 L1736.3 258.2 L1747 253.9 L1753.5 250.2 L1757.7 251.8 L1768.4 254.8 L1789.4 255.9 L1798.8 258 L1806.1 255.9 L1812.4 247.5" stroke="#98b7e1" stroke-width="1.8" fill="none" stroke-linejoin="round"/>
<path d="M1827 244.3 L1822.8 255.9 L1827 264.2 L1831.2 271.5" stroke="#98b7e1" stroke-width="1.8" fill="none" stroke-linejoin="round"/>
<path d="M1898.3 247.1 L1904 250.5 L1910.5 256.5 L1917 254 L1921 248 L1925 247.2 L1930 249 L1939.5 256.3 L1948.6 262.5 L1954 271 L1958.5 278.8" stroke="#98b7e1" stroke-width="1.8" fill="none" stroke-linejoin="round"/>
<path d="M1848.4 423.4 L1856.4 421.8 L1864.4 429.8 L1874.1 432.2 L1878.9 439.4 L1883.7 443.5" stroke="#98b7e1" stroke-width="1.8" fill="none" stroke-linejoin="round"/>
<path d="M1915.8 417.8 L1923.9 423.4 L1928.7 423.4 L1936.7 419.4 L1949.4 416.5" stroke="#98b7e1" stroke-width="1.8" fill="none" stroke-linejoin="round"/>
<path d="M1708 247.5 L1711 251.5" stroke="#aab0ba" stroke-width="1.8"/>
<path d="M1800.9 244.3 L1800.9 281.3" stroke="#000" stroke-width="1.5" fill="none"/>
<path d="M1879.2 244.3 L1879.2 271.5 L1831.2 271.5" stroke="#000" stroke-width="1.5" fill="none"/>
<path d="M1727.8 244.3 L1725.6 250.7 L1728.3 256.1 L1727.2 259.8" stroke="#000" stroke-width="1.5" fill="none"/>
<path d="M1831.2 274.2 L1839.5 283 L1847.9 289.3 L1856.2 295.5 L1858.3 301.8 L1866.7 310.2 L1877.1 316.4 L1880 313.7 L1883.4 306.9 L1890.3 303.4 L1898.8 305.1 L1905.7 309.4 L1912.6 317.1 L1916.8 327.4 L1925.4 339.4 L1931.4 354.8 L1940 359.1 L1948.5 360.8 L1957.1 362.5" stroke="#98b7e1" stroke-width="1.3" fill="none"/>
<path d="M1693.4 262.6 L1726.8 259.6 L1724.7 263.2 L1774.8 281.3 L1799.9 281.3 L1810.7 280.5 L1811.4 274.7 L1831.2 274.2 L1839.5 283 L1847.9 289.3 L1856.2 295.5 L1858.3 301.8 L1866.7 310.2 L1877.1 316.4 L1880 313.7 L1883.4 306.9 L1890.3 303.4 L1898.8 305.1 L1905.7 309.4 L1912.6 317.1 L1916.8 327.4 L1925.4 339.4 L1931.4 354.8 L1940 359.1 L1948.5 360.8 L1957.1 362.5" stroke="#000" stroke-width="1.7" fill="none" stroke-dasharray="5 3.2"/>
<ellipse cx="1678.0" cy="316.5" rx="1.6" ry="3.2" fill="#000"/>
<ellipse cx="1718.1" cy="328.8" rx="2.0" ry="2.4" fill="#000"/>
<ellipse cx="1713.9" cy="327.3" rx="1.0" ry="1.0" fill="#000"/>
<ellipse cx="1661.9" cy="251.2" rx="1.1" ry="1.1" fill="#000"/>
<ellipse cx="1676.4" cy="250.0" rx="1.3" ry="1.8" fill="#000"/>
<ellipse cx="1676.2" cy="256.8" rx="1.2" ry="1.9" fill="#000"/>
<ellipse cx="1774.8" cy="463.5" rx="1.6" ry="1.6" fill="#000"/>
<ellipse cx="1776.9" cy="456.8" rx="0.8" ry="0.8" fill="#000"/>
<ellipse cx="1725.1" cy="469.4" rx="0.8" ry="0.6" fill="#000"/>
<ellipse cx="1742.0" cy="313.0" rx="1.6" ry="3.5" fill="#000"/>
<ellipse cx="1744.5" cy="320.0" rx="1.0" ry="1.5" fill="#000"/>
<ellipse cx="1733.4" cy="336.3" rx="1.5" ry="1.3" fill="#000"/>
<ellipse cx="1760.0" cy="334.0" rx="1.0" ry="1.4" fill="#000"/>
<path d="M1831 422.3 L1837.5 428" stroke="#000" stroke-width="2.2" stroke-linecap="round"/>
<circle cx="1633.4" cy="242" r="5.3" fill="#ff0000" stroke="#000" stroke-width="1.7"/>
</g>
<path d="M1681.2 244.3 H1576.4 V610.0 H1960.3 V244.3" fill="none" stroke="#000" stroke-width="1.2"/>
<path d="M1681.2 243.70000000000002 H1960.3" fill="none" stroke="#c4c4c4" stroke-width="0.8"/>
<path d="M1576.2 244.3v-8.8M1576.2 610v8.8M1615.9 244.3v-8.8M1615.9 610v8.8M1655.6 244.3v-8.8M1655.6 610v8.8M1695.3 244.3v-8.8M1695.3 610v8.8M1735 244.3v-8.8M1735 610v8.8M1774.7 244.3v-8.8M1774.7 610v8.8M1814.3 244.3v-8.8M1814.3 610v8.8M1854 244.3v-8.8M1854 610v8.8M1893.7 244.3v-8.8M1893.7 610v8.8M1933.4 244.3v-8.8M1933.4 610v8.8M1576.4 597.8h-8.8M1960.3 597.8h8.8M1576.4 557.6h-8.8M1960.3 557.6h8.8M1576.4 517h-8.8M1960.3 517h8.8M1576.4 475.8h-8.8M1960.3 475.8h8.8M1576.4 433.9h-8.8M1960.3 433.9h8.8M1576.4 391.1h-8.8M1960.3 391.1h8.8M1576.4 347.3h-8.8M1960.3 347.3h8.8M1576.4 302.4h-8.8M1960.3 302.4h8.8M1576.4 256h-8.8M1960.3 256h8.8" stroke="#000" stroke-width="2.6" fill="none"/>
<path d="M1589.4 244.3v-3.2M1589.4 610v3.2M1602.7 244.3v-3.2M1602.7 610v3.2M1629.1 244.3v-3.2M1629.1 610v3.2M1642.4 244.3v-3.2M1642.4 610v3.2M1668.8 244.3v-3.2M1668.8 610v3.2M1682 244.3v-3.2M1682 610v3.2M1708.5 244.3v-3.2M1708.5 610v3.2M1721.7 244.3v-3.2M1721.7 610v3.2M1748.2 244.3v-3.2M1748.2 610v3.2M1761.4 244.3v-3.2M1761.4 610v3.2M1787.9 244.3v-3.2M1787.9 610v3.2M1801.1 244.3v-3.2M1801.1 610v3.2M1827.6 244.3v-3.2M1827.6 610v3.2M1840.8 244.3v-3.2M1840.8 610v3.2M1867.3 244.3v-3.2M1867.3 610v3.2M1880.5 244.3v-3.2M1880.5 610v3.2M1907 244.3v-3.2M1907 610v3.2M1920.2 244.3v-3.2M1920.2 610v3.2M1946.6 244.3v-3.2M1946.6 610v3.2M1959.9 244.3v-3.2M1959.9 610v3.2M1576.4 584.5h-3.2M1960.3 584.5h3.2M1576.4 571.1h-3.2M1960.3 571.1h3.2M1576.4 544.2h-3.2M1960.3 544.2h3.2M1576.4 530.6h-3.2M1960.3 530.6h3.2M1576.4 503.3h-3.2M1960.3 503.3h3.2M1576.4 489.6h-3.2M1960.3 489.6h3.2M1576.4 461.9h-3.2M1960.3 461.9h3.2M1576.4 447.9h-3.2M1960.3 447.9h3.2M1576.4 419.7h-3.2M1960.3 419.7h3.2M1576.4 405.5h-3.2M1960.3 405.5h3.2M1576.4 376.6h-3.2M1960.3 376.6h3.2M1576.4 362h-3.2M1960.3 362h3.2M1576.4 332.5h-3.2M1960.3 332.5h3.2M1576.4 317.5h-3.2M1960.3 317.5h3.2M1576.4 287.1h-3.2M1960.3 287.1h3.2M1576.4 271.6h-3.2M1960.3 271.6h3.2" stroke="#000" stroke-width="1.6" fill="none"/>
<text x="1561.2" y="607" font-size="22.1" text-anchor="end">9°N</text>
<text x="1561.2" y="566.8" font-size="22.1" text-anchor="end">12°N</text>
<text x="1561.2" y="526.2" font-size="22.1" text-anchor="end">15°N</text>
<text x="1561.2" y="485" font-size="22.1" text-anchor="end">18°N</text>
<text x="1561.2" y="443.1" font-size="22.1" text-anchor="end">21°N</text>
<text x="1561.2" y="400.3" font-size="22.1" text-anchor="end">24°N</text>
<text x="1561.2" y="356.5" font-size="22.1" text-anchor="end">27°N</text>
<text x="1561.2" y="311.6" font-size="22.1" text-anchor="end">30°N</text>
<text x="1561.2" y="265.2" font-size="22.1" text-anchor="end">33°N</text>
<text x="1576.2" y="642.9" font-size="22.1" text-anchor="middle">126°W</text>
<text x="1615.9" y="642.9" font-size="22.1" text-anchor="middle">123°W</text>
<text x="1655.6" y="642.9" font-size="22.1" text-anchor="middle">120°W</text>
<text x="1695.3" y="642.9" font-size="22.1" text-anchor="middle">117°W</text>
<text x="1735" y="642.9" font-size="22.1" text-anchor="middle">114°W</text>
<text x="1774.7" y="642.9" font-size="22.1" text-anchor="middle">111°W</text>
<text x="1814.3" y="642.9" font-size="22.1" text-anchor="middle">108°W</text>
<text x="1854" y="642.9" font-size="22.1" text-anchor="middle">105°W</text>
<text x="1893.7" y="642.9" font-size="22.1" text-anchor="middle">102°W</text>
<text x="1933.4" y="642.9" font-size="22.1" text-anchor="middle">99°W</text>
</svg></body></html>
